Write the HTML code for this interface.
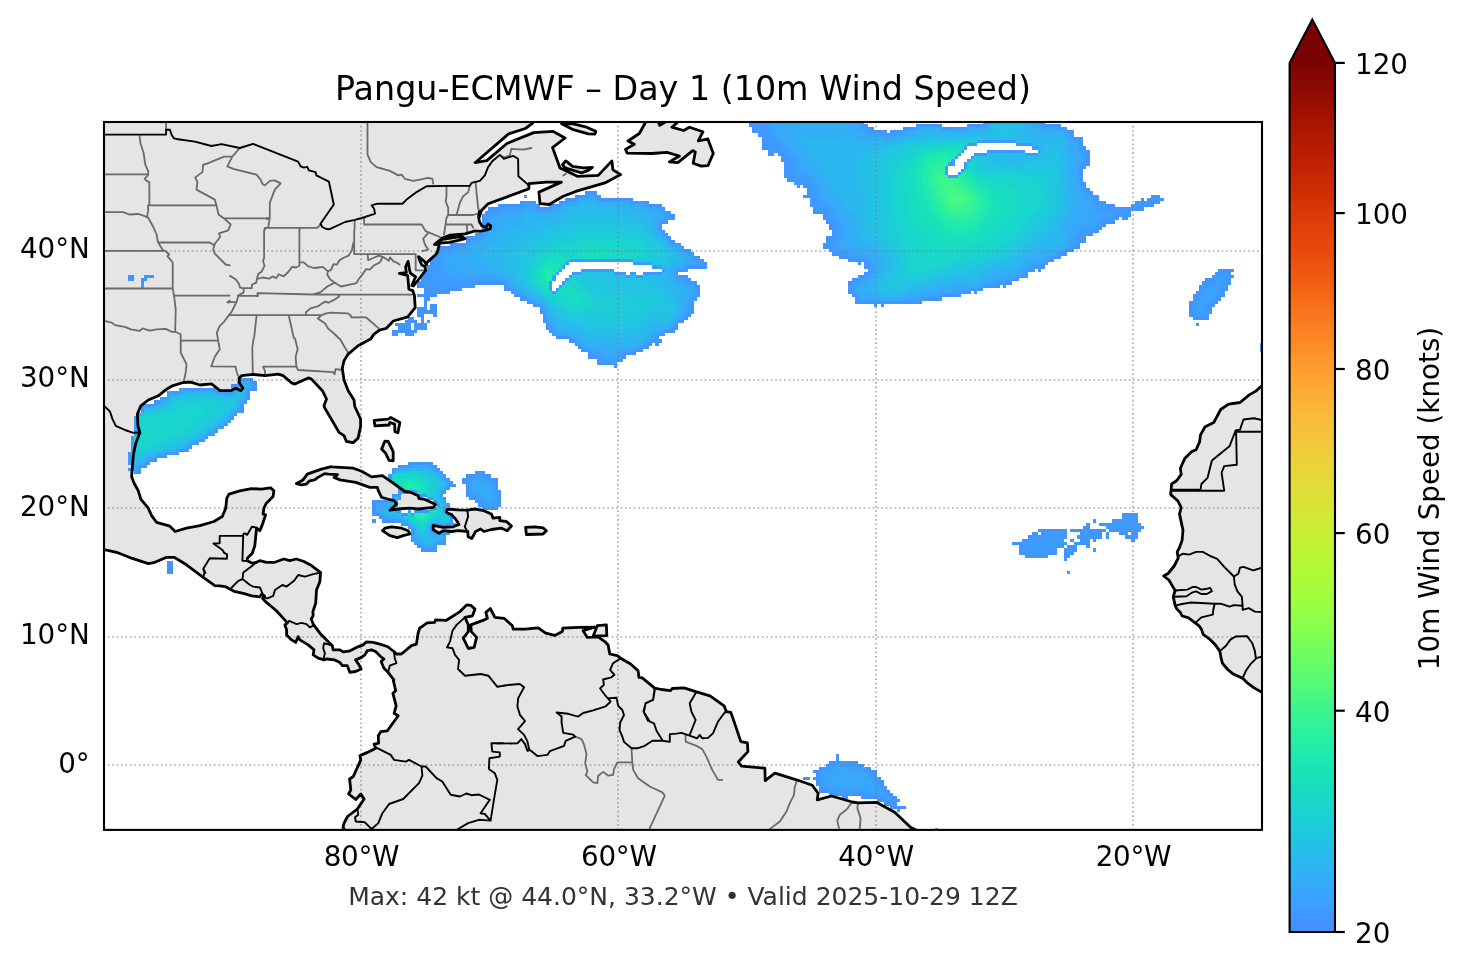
<!DOCTYPE html>
<html lang="en"><head><meta charset="utf-8"><title>Pangu-ECMWF – Day 1 (10m Wind Speed)</title>
<style>
html,body{margin:0;padding:0;background:#fff;}
body{width:1466px;height:969px;overflow:hidden;position:relative;font-family:'DejaVu Sans','Liberation Sans',sans-serif;}
svg{position:absolute;left:0;top:0;display:block;}
text{font-family:'DejaVu Sans','Liberation Sans',sans-serif;}
.t10{font-size:27.78px;fill:#000;}
.land{fill:#e5e5e5;stroke:none;}
.coast{fill:none;stroke:#000;stroke-width:2.8;stroke-linejoin:round;stroke-linecap:round;}
.border{fill:none;stroke:#000;stroke-width:1.9;stroke-linejoin:round;stroke-linecap:round;}
.state{fill:none;stroke:#6a6a6a;stroke-width:1.8;stroke-linejoin:round;stroke-linecap:round;}
.grid{fill:none;stroke:#808080;stroke-opacity:0.65;stroke-width:1.67;stroke-dasharray:1.67 2.75;}
</style></head><body>
<svg width="1466" height="969" viewBox="0 0 1466 969">
<defs>
<clipPath id="mapclip"><rect x="104.0" y="122.0" width="1158.0" height="707.9"/></clipPath>
<linearGradient id="cb" x1="0" y1="1" x2="0" y2="0">
<stop offset="0.0000" stop-color="#448ffe"/><stop offset="0.0156" stop-color="#4196ff"/><stop offset="0.0312" stop-color="#3d9efe"/><stop offset="0.0469" stop-color="#38a5fb"/><stop offset="0.0625" stop-color="#31aff5"/><stop offset="0.0781" stop-color="#2cb7f0"/><stop offset="0.0938" stop-color="#27bee9"/><stop offset="0.1094" stop-color="#20c7df"/><stop offset="0.1250" stop-color="#1ccdd8"/><stop offset="0.1406" stop-color="#1ad4d0"/><stop offset="0.1562" stop-color="#18d9c8"/><stop offset="0.1719" stop-color="#18e0bd"/><stop offset="0.1875" stop-color="#1ae4b6"/><stop offset="0.2031" stop-color="#1fe9af"/><stop offset="0.2188" stop-color="#27eea4"/><stop offset="0.2344" stop-color="#2ff19b"/><stop offset="0.2500" stop-color="#38f491"/><stop offset="0.2656" stop-color="#43f787"/><stop offset="0.2812" stop-color="#52fa7a"/><stop offset="0.2969" stop-color="#5dfc6f"/><stop offset="0.3125" stop-color="#69fd66"/><stop offset="0.3281" stop-color="#75fe5c"/><stop offset="0.3438" stop-color="#84ff51"/><stop offset="0.3594" stop-color="#8fff49"/><stop offset="0.3750" stop-color="#99fe42"/><stop offset="0.3906" stop-color="#a4fc3c"/><stop offset="0.4062" stop-color="#acfb38"/><stop offset="0.4219" stop-color="#b4f836"/><stop offset="0.4375" stop-color="#bcf534"/><stop offset="0.4531" stop-color="#c6f034"/><stop offset="0.4688" stop-color="#cdec34"/><stop offset="0.4844" stop-color="#d4e735"/><stop offset="0.5000" stop-color="#dde037"/><stop offset="0.5156" stop-color="#e3db38"/><stop offset="0.5312" stop-color="#e9d539"/><stop offset="0.5469" stop-color="#eecf3a"/><stop offset="0.5625" stop-color="#f4c73a"/><stop offset="0.5781" stop-color="#f7c13a"/><stop offset="0.5938" stop-color="#faba39"/><stop offset="0.6094" stop-color="#fcb136"/><stop offset="0.6250" stop-color="#fea933"/><stop offset="0.6406" stop-color="#fea130"/><stop offset="0.6562" stop-color="#fe992c"/><stop offset="0.6719" stop-color="#fd8d27"/><stop offset="0.6875" stop-color="#fc8423"/><stop offset="0.7031" stop-color="#fa7b1f"/><stop offset="0.7188" stop-color="#f8721c"/><stop offset="0.7344" stop-color="#f46617"/><stop offset="0.7500" stop-color="#f15d13"/><stop offset="0.7656" stop-color="#ed5510"/><stop offset="0.7812" stop-color="#e84b0c"/><stop offset="0.7969" stop-color="#e4450a"/><stop offset="0.8125" stop-color="#df3f08"/><stop offset="0.8281" stop-color="#da3907"/><stop offset="0.8438" stop-color="#d23105"/><stop offset="0.8594" stop-color="#cc2b04"/><stop offset="0.8750" stop-color="#c52603"/><stop offset="0.8906" stop-color="#bc2002"/><stop offset="0.9062" stop-color="#b41b01"/><stop offset="0.9219" stop-color="#ac1701"/><stop offset="0.9375" stop-color="#a41301"/><stop offset="0.9531" stop-color="#980e01"/><stop offset="0.9688" stop-color="#8e0a01"/><stop offset="0.9844" stop-color="#850702"/><stop offset="1.0000" stop-color="#7a0403"/></linearGradient>
</defs>
<rect width="1466" height="969" fill="#fff"/>
<g clip-path="url(#mapclip)">
<path class="land" d="M532.8 114.7L532.8 123L525.3 128.5L508.6 133.9L475.1 162.7L486.8 160.6L506.9 143.5L533.7 132.6L552.9 131.4L553.3 131.6L565 138L552.5 147.6L560 167.9L577.4 176.3L598.3 175.4L611.9 160.9L612.9 169.9L620.7 174.6L604.9 182.9L577.4 190.9L563.3 196.2L549.2 204.5L540 203.7L538.9 192.1L561.4 182.1L546.4 182.1L528.9 183.7L528.9 188.7L506.4 197.1L488.1 203.7L481.5 210.4L479 217.9L479.4 211.7L478.6 216.7L479.4 221.7L481.9 225.9L486.1 227.4L488 224L490.8 225.6L490.3 228.6L487 229.9L480.3 231.3L475.3 230.9L465.2 233.8L450.2 235.1L441.8 238.4L438.8 240.8L434.5 244.6L439.3 244.1L437.8 250.9L436.1 254.2L426.9 262.6L426.5 264.7L424.4 261.3L418.5 256.7L420.2 261.7L421.9 265.1L425.2 266.8L425.6 270.5L413.5 286L411.8 285.6L415.6 276.8L410.2 273L409.3 268.4L408.1 261.3L405.6 266.8L406.4 272.6L399.3 273.4L407.7 275.5L408.9 289.3L412.7 290.6L414.4 295.2L415.2 307.7L407.7 316.9L393.4 321L386.4 328.3L379.8 330L374 334.1L370.6 339.1L358.1 345.8L348.2 354.1L344 360.8L342.3 368.2L344 379.9L348.2 390.7L354 399.9L354.8 406.5L360.6 419L360.6 426.5L358.1 438.1L353.2 442.6L346.5 441.5L344 435.6L339 432.3L324.9 408.2L324 405.7L326.5 399L322.4 390.7L311.5 379.1L308.2 377.9L294.9 384.1L291.6 382.9L283.2 375.7L278.3 374.1L264.9 375.7L253.3 374.4L241.6 375.7L239.1 378.2L239.6 383.2L243 388.2L240.8 390.7L235.8 388.2L230.8 390.7L220 390.7L211.5 383.9L199.9 385L190.7 382.2L183.2 382.5L172.4 385.8L166.6 389.2L158.3 395.8L148.3 400L140.8 405.8L137.4 414.1L137.9 425.8L139.9 432.5L135.8 443.3L133.3 455L131.6 476.6L134.1 483.3L138.3 490.8L140.8 499.1L148.3 508.2L151.6 515.7L156.6 522.4L169.9 526.2L175.2 531.5L186.5 528.2L199.9 525.7L214 521.5L222.3 516.5L225.7 508.2L226.8 498.2L229 494.1L239.8 490.8L251.5 488.6L261.4 489.1L270.6 487.8L273.9 490.8L273.1 496.6L266.4 503.2L263.9 508.2L263.1 514.1L265.6 514.9L262.3 524.9L259.8 530.7L256.5 528.2L255.6 538.2L254.8 545.7L252.3 553.2L247.3 558.2L247.3 560.7L252.3 563.2L256.5 562.3L259.8 560.7L266.4 562.3L274.8 562.3L283.9 559L289.7 560.7L296.4 559L303.9 561.5L311.4 565.6L320.5 572.3L319.9 581.6L316.5 590L315.7 603.3L312.9 611.6L313.2 615.8L311.2 619.1L313.2 624.1L319.9 633.2L326.5 639.9L332.3 645.7L333.2 649.9L339.8 649.9L343.2 651.9L349 651.2L356.5 647.4L363.1 644.9L366.5 641.9L373.1 642.4L379.8 644.1L387.3 646.5L393.9 651.5L396.4 654L401.4 654L411.4 645.7L416.4 644.1L418.1 633.2L419.7 628.2L427.2 622.9L434.7 622.4L435.5 619.9L446.4 620.3L460 611.6L466.6 604.9L470.8 605.3L475 609.1L472.5 615.8L465 617.4L468.3 624.9L468.3 631.6L463.3 638.2L468.3 648.5L474.1 647.4L476.6 637.4L471.3 631.6L470.8 624.9L484.9 619.6L487.4 618.3L485.8 612.4L490.4 608.6L494.9 617.4L504.1 618.3L512.4 625.7L513.2 629.1L524.9 629.1L538.2 627.9L545.7 633.2L554.8 635.4L562.3 631.6L562.8 628.2L578.1 627.4L594.8 627.1L583.1 630.7L587.3 637.4L598.1 636.9L604.8 641.6L608.1 644.9L609.8 654L617.3 655.7L620.6 658.2L630.6 664L638.1 670.7L638.9 677.3L642.2 677.8L654.7 688.2L661.4 689.5L670.5 690.7L672.2 688.5L684 687.8L695.8 691.6L710 695.8L724.1 705.8L726.3 711.6L730.8 712.4L734.1 721.6L740.8 741.6L747.4 742.9L747.9 751.6L738.3 762L741.6 766.2L764.9 768.2L765.2 780.7L774.9 773.2L796.5 779.8L812.3 785.2L818.1 793.2L817.3 799.8L831.5 796L852.3 802L858.1 802.8L876.4 802.3L894.7 812.3L910.5 827.3L918 830.9L929.7 836.4L345 846.4L345 830.6L343 827.3L344.1 823.1L347.5 816.5L357.4 809L364.1 799L360.8 794L355.8 799.5L348.6 794L350.8 789.8L349.6 779L353.3 776.5L360.8 759.9L359.9 755.7L367.4 752.4L375.8 748.2L374.1 744.1L378.6 743.2L378.3 735.8L380.8 731.6L387.4 730.8L398.2 715.8L394.1 713.3L396.2 705.8L392.9 693.3L395.7 690.8L393.2 680L393.9 679.8L388.1 672.3L383.9 668.2L381.1 661.5L383.9 659L380.6 656.5L375.6 651.5L371.5 649.9L367.3 650.7L364.8 654.9L361.5 657.4L355.6 659.9L359 664.9L361.1 669L355.6 671.5L349.8 672.3L347.3 665.7L342.3 665.7L339.8 662.4L334.8 659.9L326.5 659L324 659.9L318.2 658.2L313.2 654.9L314 649.9L308.2 644.9L299.9 639.9L298.2 636.6L295.7 642.4L291.6 639.9L286.6 634.9L286.6 629.9L284.9 624.9L287.4 622.9L284.7 619.9L276.4 610.8L266.4 602.4L262.6 598.6L264.6 596L261.6 594.3L259.9 596.8L251.6 595.8L243.3 593.3L234.1 591.3L225 586.6L220 585.8L214.8 585.6L203.2 577.3L186.5 564.8L174.1 557.3L166.6 557.3L154.9 562.3L148.3 563.7L131.6 558.2L116.6 552.3L104.2 549.5L90 546.5L60 60ZM1273.3 377L1261.9 385.8L1255.8 391.1L1249.6 394.6L1240 402.5L1228.6 404.2L1220.7 409.5L1213.7 422.6L1204.9 427L1200.5 434.9L1199.6 441.9L1196.1 449.8L1191.8 451.6L1184.7 458.6L1180.4 468.2L1181.2 474.4L1176.8 480.5L1171.6 484L1170.7 494.6L1177.7 500.7L1181.2 507.7L1179.5 513.9L1182.1 526.1L1183 530L1182.1 540.5L1179.5 547.5L1177.2 551.9L1178.2 558.1L1174.2 566L1168.1 573.5L1163.7 576L1168.9 580L1172.5 586.1L1175.1 590.5L1173.3 596.7L1175.1 605.4L1176.8 608.9L1180.4 612.5L1182.1 616L1188.2 617.7L1198.8 625.6L1201.4 629.1L1203.2 634.4L1210.2 639.6L1215.4 644.9L1219.8 651.1L1221.1 658.1L1222.5 663.3L1227.7 669.5L1233 673.9L1242.6 678.2L1247 682.6L1254 687.9L1261.9 692.3L1273.3 698.4L1300 900L1300 300ZM645.2 114.7L645.2 123L639.3 133.5L628 141L634.3 144.3L625.5 149.4L627.2 153.1L651.8 153.5L666.9 152.3L679.4 156L669.4 161.9L677.8 162.7L692.8 150.6L695.3 151.9L693.2 163.2L701.2 166.1L707.9 165.7L713.3 153.5L707.9 138.9L698.3 141L702.9 131.8L689.5 127.2L683.6 130.5L671.9 127.2L676.9 123L676.9 119.7L664.4 119.7L664.4 122.6L659.8 125.4L658.5 122.6L658.5 114.7ZM561.6 123.8L573.3 123.8L586.6 127.2L595.8 131.3L594.9 134.1L588.3 133.8L573.3 129.7ZM565.8 160.9L562.5 164.6L565 167.9L581.6 172.9L588.3 170.4L592.4 167.4L583.3 167.9L572.5 166.3ZM441.2 239.6L453.6 237.5L461.8 236.5L465.1 238.6L458.4 240.4L449.4 242.3L439.8 243.1ZM374.1 420.3L388.2 419.1L390.7 417.5L399.9 422.5L397.9 432.8L394.9 431.6L394.6 424.1L389.9 422.5L389.1 425L374.9 425.8ZM384.9 441.1L388.2 441.3L393.2 451.6L393.2 460.8L389.1 460.3L385.7 453.3L381.6 449.1ZM331.7 466.9L353.3 468.2L361.6 471.2L371.6 476.9L382.4 475.7L393.2 483.2L404.9 491.5L409.9 492L418.2 495.7L419 498.5L424.9 499.4L435.7 504.5L433.2 507.4L418.2 509L409.9 508.2L398.2 509L389.9 510.2L396.6 504L394.1 500.7L387.4 499L381.6 497.4L378.3 490.7L377.4 487.4L369.9 487.4L355.8 482.4L340 479.9L334.1 477.4L337.5 474.6L328.3 474.1L324.7 473.6L318 477.4L314.7 479.9L309.7 480.8L306.4 484.1L301.4 484.9L296.4 483.6L303.1 479.9L307.2 474.1L321.4 469.1L331.4 466.6ZM382.4 530.7L384.9 528.2L391.6 526.8L401.6 528.2L408.2 530.7L409.9 534L403.2 535.6L397.4 537.6L389.9 535.6ZM447.3 509L458.1 509.8L467.3 510.2L474.8 509L483.9 510.7L491.4 514L493.1 518.2L499.8 517.3L499.8 520.7L506.4 521.5L511.4 526L507.2 530.7L501.4 528.2L491.4 529.5L483.9 531.5L480.6 529L475.6 531.5L471.8 538.5L468.1 536.8L467.8 531.5L458.1 530.7L451.5 531.5L443.2 530.7L439 533.2L433.2 529.8L433.2 525.3L443.2 527.3L453.2 526.8L459 524.5L455.6 519L451.5 514.8L446.5 512.3ZM525.6 527.3L534.7 526.8L543 527.8L546.4 530.7L543 534L526.4 534.5ZM597.3 625.7L606.4 624.9L606.8 635.7L593.1 636.2Z"/>
<g shape-rendering="crispEdges" stroke="none">
<path fill="#4294ff" d="M748.66 120.59H755.09V123.81H748.66ZM861.23 120.59H864.44V123.81H861.23ZM983.44 120.59H986.66V123.81H983.44ZM1041.34 120.59H1044.55V123.81H1041.34ZM748.66 123.81H758.31V127.02H748.66ZM864.44 123.81H867.66V127.02H864.44ZM915.9 123.81H922.34V127.02H915.9ZM970.58 123.81H983.44V127.02H970.58ZM1044.55 123.81H1060.63V127.02H1044.55ZM751.87 127.02H758.31V130.24H751.87ZM867.66 127.02H874.09V130.24H867.66ZM903.04 127.02H915.9V130.24H903.04ZM964.15 127.02H967.36V130.24H964.15ZM1060.63 127.02H1067.07V130.24H1060.63ZM751.87 130.24H761.52V133.46H751.87ZM874.09 130.24H886.96V133.46H874.09ZM890.17 130.24H903.04V133.46H890.17ZM1067.07 130.24H1073.5V133.46H1067.07ZM758.31 133.46H764.74V136.67H758.31ZM886.96 133.46H890.17V136.67H886.96ZM1070.28 133.46H1073.5V136.67H1070.28ZM761.52 136.67H764.74V139.89H761.52ZM1073.5 136.67H1083.15V139.89H1073.5ZM761.52 139.89H764.74V143.11H761.52ZM1079.93 139.89H1083.15V143.11H1079.93ZM761.52 143.11H764.74V146.32H761.52ZM1079.93 143.11H1083.15V146.32H1079.93ZM761.52 146.32H771.17V149.54H761.52ZM1083.15 146.32H1086.36V149.54H1083.15ZM767.96 149.54H771.17V152.75H767.96ZM774.39 149.54H780.82V152.75H774.39ZM1086.36 149.54H1089.58V152.75H1086.36ZM767.96 152.75H774.39V155.97H767.96ZM777.6 152.75H784.04V155.97H777.6ZM1086.36 152.75H1089.58V155.97H1086.36ZM780.82 155.97H784.04V159.19H780.82ZM1086.36 155.97H1089.58V159.19H1086.36ZM780.82 159.19H787.25V162.4H780.82ZM1086.36 159.19H1089.58V162.4H1086.36ZM784.04 162.4H787.25V165.62H784.04ZM1086.36 162.4H1089.58V165.62H1086.36ZM784.04 165.62H787.25V168.84H784.04ZM1083.15 165.62H1086.36V168.84H1083.15ZM784.04 168.84H787.25V172.05H784.04ZM1079.93 168.84H1083.15V172.05H1079.93ZM784.04 172.05H787.25V175.27H784.04ZM1079.93 172.05H1083.15V175.27H1079.93ZM784.04 175.27H787.25V178.48H784.04ZM1079.93 175.27H1083.15V178.48H1079.93ZM787.25 178.48H793.69V181.7H787.25ZM1079.93 178.48H1083.15V181.7H1079.93ZM793.69 181.7H796.9V184.92H793.69ZM800.12 181.7H803.33V184.92H800.12ZM1083.15 181.7H1086.36V184.92H1083.15ZM796.9 184.92H800.12V188.13H796.9ZM803.33 184.92H806.55V188.13H803.33ZM1083.15 184.92H1086.36V188.13H1083.15ZM806.55 188.13H809.77V191.35H806.55ZM1086.36 188.13H1089.58V191.35H1086.36ZM584.63 191.35H597.49V194.57H584.63ZM806.55 191.35H809.77V194.57H806.55ZM1089.58 191.35H1092.8V194.57H1089.58ZM523.52 194.57H526.74V197.78H523.52ZM574.98 194.57H584.63V197.78H574.98ZM597.49 194.57H600.71V197.78H597.49ZM803.33 194.57H809.77V197.78H803.33ZM1092.8 194.57H1099.23V197.78H1092.8ZM1150.69 194.57H1160.34V197.78H1150.69ZM565.33 197.78H574.98V201H565.33ZM600.71 197.78H632.87V201H600.71ZM809.77 197.78H812.98V201H809.77ZM1096.01 197.78H1099.23V201H1096.01ZM1141.04 197.78H1144.26V201H1141.04ZM1147.47 197.78H1150.69V201H1147.47ZM1160.34 197.78H1163.55V201H1160.34ZM520.3 201H536.39V204.21H520.3ZM558.9 201H565.33V204.21H558.9ZM632.87 201H648.95V204.21H632.87ZM809.77 201H812.98V204.21H809.77ZM1099.23 201H1105.66V204.21H1099.23ZM1134.61 201H1141.04V204.21H1134.61ZM1144.26 201H1147.47V204.21H1144.26ZM1153.91 201H1160.34V204.21H1153.91ZM497.79 204.21H520.3V207.43H497.79ZM536.39 204.21H539.6V207.43H536.39ZM549.25 204.21H558.9V207.43H549.25ZM648.95 204.21H661.82V207.43H648.95ZM809.77 204.21H812.98V207.43H809.77ZM1105.66 204.21H1115.31V207.43H1105.66ZM1131.39 204.21H1134.61V207.43H1131.39ZM1144.26 204.21H1153.91V207.43H1144.26ZM488.14 207.43H497.79V210.65H488.14ZM539.6 207.43H549.25V210.65H539.6ZM661.82 207.43H665.04V210.65H661.82ZM812.98 207.43H816.2V210.65H812.98ZM1115.31 207.43H1144.26V210.65H1115.31ZM484.93 210.65H488.14V213.86H484.93ZM665.04 210.65H671.47V213.86H665.04ZM812.98 210.65H822.63V213.86H812.98ZM1128.18 210.65H1131.39V213.86H1128.18ZM481.71 213.86H484.93V217.08H481.71ZM671.47 213.86H674.68V217.08H671.47ZM822.63 213.86H825.85V217.08H822.63ZM1118.53 213.86H1121.74V217.08H1118.53ZM1128.18 213.86H1131.39V217.08H1128.18ZM266.22 217.08H269.44V220.3H266.22ZM481.71 217.08H484.93V220.3H481.71ZM668.25 217.08H674.68V220.3H668.25ZM822.63 217.08H825.85V220.3H822.63ZM1115.31 217.08H1118.53V220.3H1115.31ZM1121.74 217.08H1128.18V220.3H1121.74ZM481.71 220.3H484.93V223.51H481.71ZM661.82 220.3H668.25V223.51H661.82ZM825.85 220.3H829.06V223.51H825.85ZM1105.66 220.3H1115.31V223.51H1105.66ZM481.71 223.51H484.93V226.73H481.71ZM658.6 223.51H661.82V226.73H658.6ZM829.06 223.51H832.28V226.73H829.06ZM1102.45 223.51H1105.66V226.73H1102.45ZM481.71 226.73H484.93V229.94H481.71ZM658.6 226.73H661.82V229.94H658.6ZM829.06 226.73H832.28V229.94H829.06ZM1099.23 226.73H1102.45V229.94H1099.23ZM481.71 229.94H484.93V233.16H481.71ZM661.82 229.94H665.04V233.16H661.82ZM832.28 229.94H835.5V233.16H832.28ZM1092.8 229.94H1099.23V233.16H1092.8ZM475.28 233.16H481.71V236.38H475.28ZM665.04 233.16H668.25V236.38H665.04ZM832.28 233.16H835.5V236.38H832.28ZM1086.36 233.16H1092.8V236.38H1086.36ZM465.63 236.38H475.28V239.59H465.63ZM668.25 236.38H671.47V239.59H668.25ZM825.85 236.38H832.28V239.59H825.85ZM1083.15 236.38H1086.36V239.59H1083.15ZM465.63 239.59H468.84V242.81H465.63ZM671.47 239.59H674.68V242.81H671.47ZM825.85 239.59H829.06V242.81H825.85ZM1079.93 239.59H1086.36V242.81H1079.93ZM449.55 242.81H465.63V246.03H449.55ZM674.68 242.81H681.12V246.03H674.68ZM822.63 242.81H825.85V246.03H822.63ZM1076.72 242.81H1079.93V246.03H1076.72ZM439.9 246.03H449.55V249.24H439.9ZM681.12 246.03H684.33V249.24H681.12ZM822.63 246.03H829.06V249.24H822.63ZM1073.5 246.03H1079.93V249.24H1073.5ZM436.68 249.24H439.9V252.46H436.68ZM684.33 249.24H690.77V252.46H684.33ZM829.06 249.24H832.28V252.46H829.06ZM1067.07 249.24H1073.5V252.46H1067.07ZM436.68 252.46H439.9V255.67H436.68ZM690.77 252.46H693.98V255.67H690.77ZM832.28 252.46H838.71V255.67H832.28ZM1060.63 252.46H1067.07V255.67H1060.63ZM433.47 255.67H436.68V258.89H433.47ZM693.98 255.67H700.41V258.89H693.98ZM838.71 255.67H848.36V258.89H838.71ZM1054.2 255.67H1060.63V258.89H1054.2ZM430.25 258.89H433.47V262.11H430.25ZM700.41 258.89H703.63V262.11H700.41ZM848.36 258.89H858.01V262.11H848.36ZM861.23 258.89H864.44V262.11H861.23ZM1047.77 258.89H1054.2V262.11H1047.77ZM430.25 262.11H433.47V265.32H430.25ZM703.63 262.11H706.85V265.32H703.63ZM858.01 262.11H861.23V265.32H858.01ZM864.44 262.11H867.66V265.32H864.44ZM1044.55 262.11H1047.77V265.32H1044.55ZM427.03 265.32H433.47V268.54H427.03ZM687.55 265.32H706.85V268.54H687.55ZM864.44 265.32H867.66V268.54H864.44ZM1034.9 265.32H1038.12V268.54H1034.9ZM1041.34 265.32H1044.55V268.54H1041.34ZM423.82 268.54H430.25V271.76H423.82ZM677.9 268.54H687.55V271.76H677.9ZM867.66 268.54H870.88V271.76H867.66ZM1028.47 268.54H1034.9V271.76H1028.47ZM1038.12 268.54H1041.34V271.76H1038.12ZM1218.23 268.54H1234.31V271.76H1218.23ZM423.82 271.76H427.03V274.97H423.82ZM674.68 271.76H677.9V274.97H674.68ZM864.44 271.76H867.66V274.97H864.44ZM1025.26 271.76H1028.47V274.97H1025.26ZM1215.01 271.76H1218.23V274.97H1215.01ZM1227.88 271.76H1231.1V274.97H1227.88ZM127.92 274.97H134.35V278.19H127.92ZM144 274.97H153.65V278.19H144ZM420.6 274.97H427.03V278.19H420.6ZM677.9 274.97H687.55V278.19H677.9ZM858.01 274.97H864.44V278.19H858.01ZM1018.82 274.97H1028.47V278.19H1018.82ZM1211.8 274.97H1215.01V278.19H1211.8ZM1231.1 274.97H1234.31V278.19H1231.1ZM127.92 278.19H134.35V281.4H127.92ZM140.79 278.19H147.22V281.4H140.79ZM420.6 278.19H423.82V281.4H420.6ZM687.55 278.19H690.77V281.4H687.55ZM851.58 278.19H858.01V281.4H851.58ZM1012.39 278.19H1018.82V281.4H1012.39ZM1205.37 278.19H1211.8V281.4H1205.37ZM1227.88 278.19H1231.1V281.4H1227.88ZM140.79 281.4H144V284.62H140.79ZM417.38 281.4H423.82V284.62H417.38ZM475.28 281.4H504.22V284.62H475.28ZM690.77 281.4H697.2V284.62H690.77ZM848.36 281.4H851.58V284.62H848.36ZM999.53 281.4H1002.74V284.62H999.53ZM1005.96 281.4H1012.39V284.62H1005.96ZM1202.15 281.4H1205.37V284.62H1202.15ZM1227.88 281.4H1231.1V284.62H1227.88ZM140.79 284.62H144V287.84H140.79ZM417.38 284.62H427.03V287.84H417.38ZM462.41 284.62H475.28V287.84H462.41ZM504.22 284.62H507.44V287.84H504.22ZM697.2 284.62H700.41V287.84H697.2ZM848.36 284.62H851.58V287.84H848.36ZM983.44 284.62H999.53V287.84H983.44ZM1002.74 284.62H1005.96V287.84H1002.74ZM1198.93 284.62H1202.15V287.84H1198.93ZM1224.66 284.62H1227.88V287.84H1224.66ZM423.82 287.84H427.03V291.05H423.82ZM446.33 287.84H462.41V291.05H446.33ZM504.22 287.84H510.66V291.05H504.22ZM697.2 287.84H700.41V291.05H697.2ZM848.36 287.84H851.58V291.05H848.36ZM970.58 287.84H973.8V291.05H970.58ZM977.01 287.84H983.44V291.05H977.01ZM1198.93 287.84H1202.15V291.05H1198.93ZM1224.66 287.84H1227.88V291.05H1224.66ZM423.82 291.05H427.03V294.27H423.82ZM433.47 291.05H449.55V294.27H433.47ZM510.66 291.05H513.87V294.27H510.66ZM697.2 291.05H700.41V294.27H697.2ZM848.36 291.05H851.58V294.27H848.36ZM960.93 291.05H970.58V294.27H960.93ZM973.8 291.05H977.01V294.27H973.8ZM1195.72 291.05H1198.93V294.27H1195.72ZM1221.45 291.05H1224.66V294.27H1221.45ZM417.38 294.27H436.68V297.49H417.38ZM513.87 294.27H520.3V297.49H513.87ZM697.2 294.27H700.41V297.49H697.2ZM851.58 294.27H854.79V297.49H851.58ZM941.63 294.27H960.93V297.49H941.63ZM1192.5 294.27H1195.72V297.49H1192.5ZM1221.45 294.27H1224.66V297.49H1221.45ZM423.82 297.49H430.25V300.7H423.82ZM520.3 297.49H526.74V300.7H520.3ZM693.98 297.49H697.2V300.7H693.98ZM854.79 297.49H858.01V300.7H854.79ZM922.34 297.49H941.63V300.7H922.34ZM1192.5 297.49H1195.72V300.7H1192.5ZM1218.23 297.49H1221.45V300.7H1218.23ZM423.82 300.7H427.03V303.92H423.82ZM526.74 300.7H533.17V303.92H526.74ZM690.77 300.7H693.98V303.92H690.77ZM854.79 300.7H874.09V303.92H854.79ZM877.31 300.7H880.52V303.92H877.31ZM883.74 300.7H922.34V303.92H883.74ZM1189.28 300.7H1192.5V303.92H1189.28ZM1215.01 300.7H1218.23V303.92H1215.01ZM423.82 303.92H427.03V307.13H423.82ZM430.25 303.92H436.68V307.13H430.25ZM533.17 303.92H539.6V307.13H533.17ZM690.77 303.92H693.98V307.13H690.77ZM874.09 303.92H877.31V307.13H874.09ZM880.52 303.92H883.74V307.13H880.52ZM1189.28 303.92H1192.5V307.13H1189.28ZM1211.8 303.92H1215.01V307.13H1211.8ZM417.38 307.13H427.03V310.35H417.38ZM430.25 307.13H436.68V310.35H430.25ZM539.6 307.13H542.82V310.35H539.6ZM690.77 307.13H693.98V310.35H690.77ZM1189.28 307.13H1192.5V310.35H1189.28ZM1208.58 307.13H1211.8V310.35H1208.58ZM417.38 310.35H436.68V313.57H417.38ZM539.6 310.35H542.82V313.57H539.6ZM690.77 310.35H693.98V313.57H690.77ZM1189.28 310.35H1192.5V313.57H1189.28ZM1208.58 310.35H1211.8V313.57H1208.58ZM417.38 313.57H423.82V316.78H417.38ZM433.47 313.57H436.68V316.78H433.47ZM542.82 313.57H546.03V316.78H542.82ZM687.55 313.57H690.77V316.78H687.55ZM1189.28 313.57H1192.5V316.78H1189.28ZM1205.37 313.57H1208.58V316.78H1205.37ZM407.74 316.78H414.17V320H407.74ZM420.6 316.78H423.82V320H420.6ZM542.82 316.78H546.03V320H542.82ZM684.33 316.78H687.55V320H684.33ZM1192.5 316.78H1208.58V320H1192.5ZM404.52 320H417.38V323.22H404.52ZM420.6 320H423.82V323.22H420.6ZM427.03 320H430.25V323.22H427.03ZM542.82 320H546.03V323.22H542.82ZM677.9 320H684.33V323.22H677.9ZM394.87 323.22H410.95V326.43H394.87ZM414.17 323.22H427.03V326.43H414.17ZM546.03 323.22H549.25V326.43H546.03ZM674.68 323.22H677.9V326.43H674.68ZM1195.72 323.22H1198.93V326.43H1195.72ZM398.09 326.43H401.3V329.65H398.09ZM407.74 326.43H410.95V329.65H407.74ZM414.17 326.43H427.03V329.65H414.17ZM546.03 326.43H549.25V329.65H546.03ZM674.68 326.43H677.9V329.65H674.68ZM391.65 329.65H417.38V332.86H391.65ZM549.25 329.65H552.47V332.86H549.25ZM665.04 329.65H674.68V332.86H665.04ZM391.65 332.86H398.09V336.08H391.65ZM404.52 332.86H414.17V336.08H404.52ZM552.47 332.86H555.68V336.08H552.47ZM658.6 332.86H665.04V336.08H658.6ZM555.68 336.08H568.55V339.3H555.68ZM655.39 336.08H658.6V339.3H655.39ZM568.55 339.3H574.98V342.51H568.55ZM652.17 339.3H655.39V342.51H652.17ZM658.6 339.3H661.82V342.51H658.6ZM574.98 342.51H578.2V345.73H574.98ZM648.95 342.51H652.17V345.73H648.95ZM655.39 342.51H658.6V345.73H655.39ZM1260.04 342.51H1263.26V345.73H1260.04ZM578.2 345.73H581.41V348.95H578.2ZM642.52 345.73H648.95V348.95H642.52ZM1260.04 345.73H1263.26V348.95H1260.04ZM581.41 348.95H587.85V352.16H581.41ZM636.09 348.95H642.52V352.16H636.09ZM1260.04 348.95H1263.26V352.16H1260.04ZM587.85 352.16H591.06V355.38H587.85ZM626.44 352.16H636.09V355.38H626.44ZM587.85 355.38H597.49V358.59H587.85ZM623.22 355.38H626.44V358.59H623.22ZM597.49 358.59H600.71V361.81H597.49ZM616.79 358.59H623.22V361.81H616.79ZM597.49 361.81H616.79V365.03H597.49ZM613.58 365.03H616.79V368.24H613.58ZM240.49 377.89H253.36V381.11H240.49ZM237.27 381.11H240.49V384.32H237.27ZM253.36 381.11H256.57V384.32H253.36ZM230.84 384.32H237.27V387.54H230.84ZM253.36 384.32H256.57V387.54H253.36ZM230.84 387.54H234.06V390.76H230.84ZM250.14 387.54H256.57V390.76H250.14ZM227.63 390.76H230.84V393.97H227.63ZM246.92 390.76H250.14V393.97H246.92ZM246.92 393.97H250.14V397.19H246.92ZM246.92 397.19H250.14V400.41H246.92ZM243.71 400.41H246.92V403.62H243.71ZM240.49 403.62H243.71V406.84H240.49ZM240.49 406.84H243.71V410.05H240.49ZM150.44 458.3H153.65V461.51H150.44ZM147.22 461.51H150.44V464.73H147.22ZM407.74 461.51H433.47V464.73H407.74ZM140.79 464.73H147.22V467.95H140.79ZM398.09 464.73H407.74V467.95H398.09ZM433.47 464.73H436.68V467.95H433.47ZM137.57 467.95H140.79V471.16H137.57ZM436.68 467.95H439.9V471.16H436.68ZM137.57 471.16H140.79V474.38H137.57ZM475.28 471.16H484.93V474.38H475.28ZM465.63 474.38H475.28V477.6H465.63ZM484.93 474.38H491.36V477.6H484.93ZM462.41 477.6H465.63V480.81H462.41ZM491.36 477.6H497.79V480.81H491.36ZM462.41 480.81H465.63V484.03H462.41ZM494.57 480.81H497.79V484.03H494.57ZM465.63 484.03H468.84V487.24H465.63ZM494.57 484.03H497.79V487.24H494.57ZM465.63 487.24H468.84V490.46H465.63ZM494.57 487.24H497.79V490.46H494.57ZM465.63 490.46H468.84V493.68H465.63ZM497.79 490.46H501.01V493.68H497.79ZM465.63 493.68H468.84V496.89H465.63ZM497.79 493.68H501.01V496.89H497.79ZM468.84 496.89H475.28V500.11H468.84ZM497.79 496.89H501.01V500.11H497.79ZM372.36 500.11H385.22V503.33H372.36ZM475.28 500.11H478.49V503.33H475.28ZM497.79 500.11H501.01V503.33H497.79ZM372.36 503.33H375.57V506.54H372.36ZM478.49 503.33H481.71V506.54H478.49ZM497.79 503.33H501.01V506.54H497.79ZM372.36 506.54H375.57V509.76H372.36ZM481.71 506.54H497.79V509.76H481.71ZM372.36 509.76H375.57V512.97H372.36ZM372.36 512.97H378.79V516.19H372.36ZM1121.74 512.97H1137.82V516.19H1121.74ZM378.79 516.19H382.01V519.41H378.79ZM1121.74 516.19H1124.96V519.41H1121.74ZM1134.61 516.19H1137.82V519.41H1134.61ZM372.36 519.41H375.57V522.62H372.36ZM382.01 519.41H394.87V522.62H382.01ZM1092.8 519.41H1096.01V522.62H1092.8ZM1112.09 519.41H1121.74V522.62H1112.09ZM1134.61 519.41H1137.82V522.62H1134.61ZM1086.36 522.62H1089.58V525.84H1086.36ZM1099.23 522.62H1112.09V525.84H1099.23ZM1137.82 522.62H1141.04V525.84H1137.82ZM1083.15 525.84H1089.58V529.06H1083.15ZM1105.66 525.84H1108.88V529.06H1105.66ZM1141.04 525.84H1144.26V529.06H1141.04ZM1038.12 529.06H1067.07V532.27H1038.12ZM1070.28 529.06H1083.15V532.27H1070.28ZM1089.58 529.06H1105.66V532.27H1089.58ZM1108.88 529.06H1118.53V532.27H1108.88ZM1128.18 529.06H1131.39V532.27H1128.18ZM1137.82 529.06H1141.04V532.27H1137.82ZM410.95 532.27H414.17V535.49H410.95ZM1031.69 532.27H1038.12V535.49H1031.69ZM1041.34 532.27H1044.55V535.49H1041.34ZM1063.85 532.27H1067.07V535.49H1063.85ZM1079.93 532.27H1083.15V535.49H1079.93ZM1099.23 532.27H1102.45V535.49H1099.23ZM1105.66 532.27H1108.88V535.49H1105.66ZM1118.53 532.27H1128.18V535.49H1118.53ZM1131.39 532.27H1137.82V535.49H1131.39ZM410.95 535.49H414.17V538.7H410.95ZM1028.47 535.49H1031.69V538.7H1028.47ZM1038.12 535.49H1041.34V538.7H1038.12ZM1063.85 535.49H1067.07V538.7H1063.85ZM1076.72 535.49H1079.93V538.7H1076.72ZM1089.58 535.49H1092.8V538.7H1089.58ZM1096.01 535.49H1102.45V538.7H1096.01ZM1105.66 535.49H1108.88V538.7H1105.66ZM1124.96 535.49H1131.39V538.7H1124.96ZM1134.61 535.49H1137.82V538.7H1134.61ZM410.95 538.7H414.17V541.92H410.95ZM1022.04 538.7H1028.47V541.92H1022.04ZM1060.63 538.7H1063.85V541.92H1060.63ZM1070.28 538.7H1073.5V541.92H1070.28ZM1079.93 538.7H1083.15V541.92H1079.93ZM1086.36 538.7H1089.58V541.92H1086.36ZM1092.8 538.7H1096.01V541.92H1092.8ZM1131.39 538.7H1134.61V541.92H1131.39ZM414.17 541.92H417.38V545.14H414.17ZM1012.39 541.92H1022.04V545.14H1012.39ZM1063.85 541.92H1067.07V545.14H1063.85ZM1073.5 541.92H1089.58V545.14H1073.5ZM417.38 545.14H420.6V548.35H417.38ZM433.47 545.14H436.68V548.35H433.47ZM1018.82 545.14H1022.04V548.35H1018.82ZM1057.42 545.14H1063.85V548.35H1057.42ZM1067.07 545.14H1076.72V548.35H1067.07ZM1086.36 545.14H1089.58V548.35H1086.36ZM420.6 548.35H436.68V551.57H420.6ZM1018.82 548.35H1022.04V551.57H1018.82ZM1054.2 548.35H1057.42V551.57H1054.2ZM1063.85 548.35H1067.07V551.57H1063.85ZM1073.5 548.35H1076.72V551.57H1073.5ZM1092.8 548.35H1096.01V551.57H1092.8ZM1018.82 551.57H1025.26V554.79H1018.82ZM1047.77 551.57H1057.42V554.79H1047.77ZM1063.85 551.57H1067.07V554.79H1063.85ZM1070.28 551.57H1073.5V554.79H1070.28ZM1025.26 554.79H1047.77V558H1025.26ZM1063.85 554.79H1070.28V558H1063.85ZM1063.85 558H1067.07V561.22H1063.85ZM166.52 561.22H172.95V564.43H166.52ZM166.52 564.43H172.95V567.65H166.52ZM166.52 567.65H172.95V570.87H166.52ZM166.52 570.87H172.95V574.08H166.52ZM1067.07 570.87H1070.28V574.08H1067.07ZM835.5 754.19H838.71V757.41H835.5ZM835.5 757.41H838.71V760.63H835.5ZM829.06 760.63H835.5V763.84H829.06ZM838.71 760.63H858.01V763.84H838.71ZM825.85 763.84H829.06V767.06H825.85ZM858.01 763.84H864.44V767.06H858.01ZM819.42 767.06H825.85V770.27H819.42ZM864.44 767.06H870.88V770.27H864.44ZM812.98 770.27H819.42V773.49H812.98ZM870.88 770.27H877.31V773.49H870.88ZM816.2 773.49H819.42V776.71H816.2ZM874.09 773.49H877.31V776.71H874.09ZM803.33 776.71H809.77V779.92H803.33ZM812.98 776.71H816.2V779.92H812.98ZM877.31 776.71H880.52V779.92H877.31ZM816.2 779.92H819.42V783.14H816.2ZM880.52 779.92H883.74V783.14H880.52ZM816.2 783.14H819.42V786.36H816.2ZM880.52 783.14H883.74V786.36H880.52ZM819.42 786.36H822.63V789.57H819.42ZM883.74 786.36H886.96V789.57H883.74ZM819.42 789.57H829.06V792.79H819.42ZM886.96 789.57H890.17V792.79H886.96ZM829.06 792.79H841.93V796H829.06ZM848.36 792.79H861.23V796H848.36ZM890.17 792.79H893.39V796H890.17ZM841.93 796H848.36V799.22H841.93ZM861.23 796H877.31V799.22H861.23ZM893.39 796H896.61V799.22H893.39ZM877.31 799.22H883.74V802.44H877.31ZM896.61 799.22H899.82V802.44H896.61ZM883.74 802.44H890.17V805.65H883.74ZM893.39 802.44H896.61V805.65H893.39ZM890.17 805.65H906.25V808.87H890.17ZM896.61 808.87H899.82V812.09H896.61ZM935.2 828.17H938.42V831.38H935.2Z"/>
<path fill="#4099ff" d="M755.09 120.59H764.74V123.81H755.09ZM758.31 123.81H764.74V127.02H758.31ZM861.23 123.81H864.44V127.02H861.23ZM922.34 123.81H941.63V127.02H922.34ZM967.36 123.81H970.58V127.02H967.36ZM758.31 127.02H764.74V130.24H758.31ZM864.44 127.02H867.66V130.24H864.44ZM941.63 127.02H964.15V130.24H941.63ZM761.52 130.24H767.96V133.46H761.52ZM764.74 133.46H767.96V136.67H764.74ZM764.74 136.67H767.96V139.89H764.74ZM764.74 139.89H771.17V143.11H764.74ZM764.74 143.11H771.17V146.32H764.74ZM771.17 146.32H780.82V149.54H771.17ZM1079.93 146.32H1083.15V149.54H1079.93ZM771.17 149.54H774.39V152.75H771.17ZM780.82 149.54H784.04V152.75H780.82ZM1083.15 149.54H1086.36V152.75H1083.15ZM784.04 155.97H787.25V159.19H784.04ZM787.25 159.19H790.47V162.4H787.25ZM787.25 162.4H790.47V165.62H787.25ZM1083.15 162.4H1086.36V165.62H1083.15ZM787.25 165.62H790.47V168.84H787.25ZM1079.93 165.62H1083.15V168.84H1079.93ZM787.25 168.84H790.47V172.05H787.25ZM787.25 175.27H790.47V178.48H787.25ZM793.69 178.48H796.9V181.7H793.69ZM800.12 178.48H803.33V181.7H800.12ZM796.9 181.7H800.12V184.92H796.9ZM803.33 181.7H806.55V184.92H803.33ZM806.55 184.92H809.77V188.13H806.55ZM809.77 188.13H812.98V191.35H809.77ZM809.77 191.35H812.98V194.57H809.77ZM809.77 194.57H812.98V197.78H809.77ZM1089.58 194.57H1092.8V197.78H1089.58ZM812.98 197.78H816.2V201H812.98ZM1150.69 197.78H1153.91V201H1150.69ZM1157.12 197.78H1160.34V201H1157.12ZM812.98 201H816.2V204.21H812.98ZM1096.01 201H1099.23V204.21H1096.01ZM1141.04 201H1144.26V204.21H1141.04ZM1147.47 201H1153.91V204.21H1147.47ZM812.98 204.21H816.2V207.43H812.98ZM1102.45 204.21H1105.66V207.43H1102.45ZM1134.61 204.21H1137.82V207.43H1134.61ZM1141.04 204.21H1144.26V207.43H1141.04ZM497.79 207.43H501.01V210.65H497.79ZM1112.09 207.43H1115.31V210.65H1112.09ZM488.14 210.65H491.36V213.86H488.14ZM822.63 210.65H825.85V213.86H822.63ZM484.93 213.86H488.14V217.08H484.93ZM1115.31 213.86H1118.53V217.08H1115.31ZM1121.74 213.86H1128.18V217.08H1121.74ZM825.85 217.08H829.06V220.3H825.85ZM1112.09 217.08H1115.31V220.3H1112.09ZM829.06 220.3H832.28V223.51H829.06ZM1102.45 220.3H1105.66V223.51H1102.45ZM1099.23 223.51H1102.45V226.73H1099.23ZM832.28 226.73H835.5V229.94H832.28ZM1096.01 226.73H1099.23V229.94H1096.01ZM1089.58 229.94H1092.8V233.16H1089.58ZM481.71 233.16H484.93V236.38H481.71ZM1083.15 233.16H1086.36V236.38H1083.15ZM832.28 236.38H835.5V239.59H832.28ZM1076.72 239.59H1079.93V242.81H1076.72ZM465.63 242.81H468.84V246.03H465.63ZM825.85 242.81H829.06V246.03H825.85ZM449.55 246.03H452.76V249.24H449.55ZM829.06 246.03H832.28V249.24H829.06ZM1070.28 246.03H1073.5V249.24H1070.28ZM439.9 249.24H443.11V252.46H439.9ZM832.28 249.24H835.5V252.46H832.28ZM838.71 252.46H841.93V255.67H838.71ZM436.68 255.67H439.9V258.89H436.68ZM848.36 255.67H851.58V258.89H848.36ZM433.47 258.89H436.68V262.11H433.47ZM697.2 258.89H700.41V262.11H697.2ZM858.01 258.89H861.23V262.11H858.01ZM864.44 258.89H867.66V262.11H864.44ZM433.47 262.11H436.68V265.32H433.47ZM700.41 262.11H703.63V265.32H700.41ZM433.47 265.32H436.68V268.54H433.47ZM867.66 265.32H870.88V268.54H867.66ZM430.25 268.54H433.47V271.76H430.25ZM427.03 271.76H430.25V274.97H427.03ZM1218.23 271.76H1221.45V274.97H1218.23ZM427.03 274.97H430.25V278.19H427.03ZM1215.01 274.97H1218.23V278.19H1215.01ZM1227.88 274.97H1231.1V278.19H1227.88ZM423.82 278.19H427.03V281.4H423.82ZM1211.8 278.19H1215.01V281.4H1211.8ZM423.82 281.4H427.03V284.62H423.82ZM472.06 281.4H475.28V284.62H472.06ZM1205.37 281.4H1208.58V284.62H1205.37ZM1224.66 281.4H1227.88V284.62H1224.66ZM427.03 284.62H430.25V287.84H427.03ZM446.33 284.62H455.98V287.84H446.33ZM459.2 284.62H462.41V287.84H459.2ZM1202.15 284.62H1205.37V287.84H1202.15ZM427.03 287.84H430.25V291.05H427.03ZM433.47 287.84H446.33V291.05H433.47ZM1221.45 287.84H1224.66V291.05H1221.45ZM427.03 291.05H433.47V294.27H427.03ZM1198.93 291.05H1202.15V294.27H1198.93ZM1195.72 294.27H1198.93V297.49H1195.72ZM1218.23 294.27H1221.45V297.49H1218.23ZM1215.01 297.49H1218.23V300.7H1215.01ZM1192.5 300.7H1195.72V303.92H1192.5ZM1211.8 300.7H1215.01V303.92H1211.8ZM1208.58 303.92H1211.8V307.13H1208.58ZM1205.37 310.35H1208.58V313.57H1205.37ZM1192.5 313.57H1195.72V316.78H1192.5ZM401.3 326.43H407.74V329.65H401.3ZM623.22 352.16H626.44V355.38H623.22ZM597.49 355.38H600.71V358.59H597.49ZM620.01 355.38H623.22V358.59H620.01ZM613.58 358.59H616.79V361.81H613.58ZM179.38 387.54H217.98V390.76H179.38ZM166.52 390.76H179.38V393.97H166.52ZM217.98 390.76H227.63V393.97H217.98ZM166.52 393.97H169.73V397.19H166.52ZM160.08 397.19H166.52V400.41H160.08ZM153.65 400.41H160.08V403.62H153.65ZM140.79 403.62H153.65V406.84H140.79ZM237.27 410.05H243.71V413.27H237.27ZM234.06 413.27H237.27V416.49H234.06ZM230.84 416.49H234.06V419.7H230.84ZM227.63 419.7H230.84V422.92H227.63ZM224.41 422.92H227.63V426.14H224.41ZM217.98 426.14H224.41V429.35H217.98ZM214.76 429.35H217.98V432.57H214.76ZM208.33 432.57H214.76V435.78H208.33ZM205.11 435.78H208.33V439H205.11ZM198.68 439H205.11V442.22H198.68ZM192.25 442.22H198.68V445.43H192.25ZM189.03 445.43H192.25V448.65H189.03ZM179.38 448.65H189.03V451.87H179.38ZM166.52 451.87H179.38V455.08H166.52ZM156.87 455.08H166.52V458.3H156.87ZM153.65 458.3H156.87V461.51H153.65ZM391.65 467.95H398.09V471.16H391.65ZM439.9 471.16H443.11V474.38H439.9ZM443.11 474.38H446.33V477.6H443.11ZM475.28 474.38H478.49V477.6H475.28ZM481.71 474.38H484.93V477.6H481.71ZM446.33 477.6H449.55V480.81H446.33ZM465.63 477.6H468.84V480.81H465.63ZM488.14 477.6H491.36V480.81H488.14ZM449.55 480.81H452.76V484.03H449.55ZM465.63 480.81H468.84V484.03H465.63ZM449.55 484.03H455.98V487.24H449.55ZM446.33 487.24H449.55V490.46H446.33ZM443.11 490.46H446.33V493.68H443.11ZM494.57 490.46H497.79V493.68H494.57ZM439.9 493.68H443.11V496.89H439.9ZM468.84 493.68H472.06V496.89H468.84ZM443.11 496.89H446.33V500.11H443.11ZM475.28 496.89H478.49V500.11H475.28ZM478.49 500.11H481.71V503.33H478.49ZM481.71 503.33H484.93V506.54H481.71ZM494.57 503.33H497.79V506.54H494.57ZM1124.96 516.19H1134.61V519.41H1124.96ZM394.87 519.41H401.3V522.62H394.87ZM1121.74 519.41H1124.96V522.62H1121.74ZM1131.39 519.41H1134.61V522.62H1131.39ZM401.3 522.62H407.74V525.84H401.3ZM433.47 522.62H436.68V525.84H433.47ZM1112.09 522.62H1121.74V525.84H1112.09ZM1134.61 522.62H1137.82V525.84H1134.61ZM407.74 525.84H410.95V529.06H407.74ZM430.25 525.84H433.47V529.06H430.25ZM1108.88 525.84H1118.53V529.06H1108.88ZM1128.18 525.84H1131.39V529.06H1128.18ZM1137.82 525.84H1141.04V529.06H1137.82ZM410.95 529.06H414.17V532.27H410.95ZM430.25 529.06H433.47V532.27H430.25ZM1083.15 529.06H1089.58V532.27H1083.15ZM1118.53 529.06H1128.18V532.27H1118.53ZM1131.39 529.06H1137.82V532.27H1131.39ZM433.47 532.27H436.68V535.49H433.47ZM1044.55 532.27H1063.85V535.49H1044.55ZM1083.15 532.27H1086.36V535.49H1083.15ZM1089.58 532.27H1099.23V535.49H1089.58ZM1031.69 535.49H1038.12V538.7H1031.69ZM1041.34 535.49H1044.55V538.7H1041.34ZM1060.63 535.49H1063.85V538.7H1060.63ZM1079.93 535.49H1083.15V538.7H1079.93ZM1086.36 535.49H1089.58V538.7H1086.36ZM1092.8 535.49H1096.01V538.7H1092.8ZM1131.39 535.49H1134.61V538.7H1131.39ZM443.11 538.7H446.33V541.92H443.11ZM1028.47 538.7H1031.69V541.92H1028.47ZM1038.12 538.7H1041.34V541.92H1038.12ZM1057.42 538.7H1060.63V541.92H1057.42ZM1083.15 538.7H1086.36V541.92H1083.15ZM436.68 541.92H446.33V545.14H436.68ZM1022.04 541.92H1028.47V545.14H1022.04ZM1057.42 541.92H1063.85V545.14H1057.42ZM1022.04 545.14H1025.26V548.35H1022.04ZM1054.2 545.14H1057.42V548.35H1054.2ZM1022.04 548.35H1025.26V551.57H1022.04ZM1047.77 548.35H1054.2V551.57H1047.77ZM1067.07 548.35H1073.5V551.57H1067.07ZM1025.26 551.57H1047.77V554.79H1025.26ZM1067.07 551.57H1070.28V554.79H1067.07ZM835.5 760.63H838.71V763.84H835.5ZM829.06 763.84H832.28V767.06H829.06ZM854.79 763.84H858.01V767.06H854.79ZM825.85 767.06H829.06V770.27H825.85ZM861.23 767.06H864.44V770.27H861.23ZM819.42 770.27H822.63V773.49H819.42ZM867.66 770.27H870.88V773.49H867.66ZM816.2 776.71H819.42V779.92H816.2ZM874.09 776.71H877.31V779.92H874.09ZM877.31 779.92H880.52V783.14H877.31ZM819.42 783.14H822.63V786.36H819.42ZM880.52 786.36H883.74V789.57H880.52ZM829.06 789.57H832.28V792.79H829.06ZM883.74 789.57H886.96V792.79H883.74ZM841.93 792.79H848.36V796H841.93ZM861.23 792.79H864.44V796H861.23ZM886.96 792.79H890.17V796H886.96ZM877.31 796H880.52V799.22H877.31ZM890.17 796H893.39V799.22H890.17ZM883.74 799.22H886.96V802.44H883.74ZM893.39 799.22H896.61V802.44H893.39ZM890.17 802.44H893.39V805.65H890.17Z"/>
<path fill="#3e9bfe" d="M764.74 120.59H767.96V123.81H764.74ZM764.74 123.81H767.96V127.02H764.74ZM1041.34 123.81H1044.55V127.02H1041.34ZM764.74 127.02H771.17V130.24H764.74ZM1057.42 127.02H1060.63V130.24H1057.42ZM767.96 130.24H771.17V133.46H767.96ZM870.88 130.24H874.09V133.46H870.88ZM903.04 130.24H906.25V133.46H903.04ZM767.96 133.46H771.17V136.67H767.96ZM883.74 133.46H886.96V136.67H883.74ZM890.17 133.46H893.39V136.67H890.17ZM767.96 136.67H774.39V139.89H767.96ZM1070.28 136.67H1073.5V139.89H1070.28ZM771.17 139.89H774.39V143.11H771.17ZM977.01 139.89H1015.61V143.11H977.01ZM771.17 143.11H780.82V146.32H771.17ZM967.36 143.11H977.01V146.32H967.36ZM1015.61 143.11H1031.69V146.32H1015.61ZM780.82 146.32H784.04V149.54H780.82ZM964.15 146.32H967.36V149.54H964.15ZM1031.69 146.32H1038.12V149.54H1031.69ZM784.04 149.54H787.25V152.75H784.04ZM960.93 149.54H964.15V152.75H960.93ZM986.66 149.54H1025.26V152.75H986.66ZM1038.12 149.54H1041.34V152.75H1038.12ZM784.04 152.75H787.25V155.97H784.04ZM957.71 152.75H960.93V155.97H957.71ZM973.8 152.75H986.66V155.97H973.8ZM1025.26 152.75H1038.12V155.97H1025.26ZM787.25 155.97H790.47V159.19H787.25ZM954.5 155.97H957.71V159.19H954.5ZM970.58 155.97H973.8V159.19H970.58ZM790.47 159.19H793.69V162.4H790.47ZM951.28 159.19H954.5V162.4H951.28ZM967.36 159.19H970.58V162.4H967.36ZM790.47 162.4H793.69V165.62H790.47ZM948.07 162.4H954.5V165.62H948.07ZM964.15 162.4H967.36V165.62H964.15ZM790.47 165.62H793.69V168.84H790.47ZM944.85 165.62H948.07V168.84H944.85ZM964.15 165.62H967.36V168.84H964.15ZM790.47 168.84H793.69V172.05H790.47ZM944.85 168.84H948.07V172.05H944.85ZM960.93 168.84H964.15V172.05H960.93ZM787.25 172.05H796.9V175.27H787.25ZM944.85 172.05H948.07V175.27H944.85ZM957.71 172.05H960.93V175.27H957.71ZM790.47 175.27H803.33V178.48H790.47ZM948.07 175.27H957.71V178.48H948.07ZM796.9 178.48H800.12V181.7H796.9ZM803.33 178.48H809.77V181.7H803.33ZM806.55 181.7H809.77V184.92H806.55ZM1079.93 181.7H1083.15V184.92H1079.93ZM809.77 184.92H812.98V188.13H809.77ZM1083.15 188.13H1086.36V191.35H1083.15ZM812.98 191.35H816.2V194.57H812.98ZM1086.36 191.35H1089.58V194.57H1086.36ZM584.63 194.57H587.85V197.78H584.63ZM594.28 194.57H597.49V197.78H594.28ZM812.98 194.57H816.2V197.78H812.98ZM574.98 197.78H578.2V201H574.98ZM597.49 197.78H600.71V201H597.49ZM1153.91 197.78H1157.12V201H1153.91ZM565.33 201H568.55V204.21H565.33ZM629.66 201H632.87V204.21H629.66ZM816.2 201H819.42V204.21H816.2ZM520.3 204.21H523.52V207.43H520.3ZM533.17 204.21H536.39V207.43H533.17ZM558.9 204.21H562.12V207.43H558.9ZM645.74 204.21H648.95V207.43H645.74ZM816.2 204.21H819.42V207.43H816.2ZM1096.01 204.21H1102.45V207.43H1096.01ZM1137.82 204.21H1141.04V207.43H1137.82ZM536.39 207.43H539.6V210.65H536.39ZM549.25 207.43H552.47V210.65H549.25ZM658.6 207.43H661.82V210.65H658.6ZM816.2 207.43H825.85V210.65H816.2ZM1102.45 207.43H1112.09V210.65H1102.45ZM661.82 210.65H665.04V213.86H661.82ZM825.85 210.65H829.06V213.86H825.85ZM1112.09 210.65H1128.18V213.86H1112.09ZM668.25 213.86H671.47V217.08H668.25ZM825.85 213.86H829.06V217.08H825.85ZM1112.09 213.86H1115.31V217.08H1112.09ZM665.04 217.08H668.25V220.3H665.04ZM829.06 217.08H832.28V220.3H829.06ZM1102.45 217.08H1112.09V220.3H1102.45ZM658.6 220.3H661.82V223.51H658.6ZM832.28 220.3H835.5V223.51H832.28ZM1099.23 220.3H1102.45V223.51H1099.23ZM832.28 223.51H835.5V226.73H832.28ZM1096.01 223.51H1099.23V226.73H1096.01ZM835.5 226.73H838.71V229.94H835.5ZM1089.58 226.73H1096.01V229.94H1089.58ZM835.5 229.94H838.71V233.16H835.5ZM1083.15 229.94H1089.58V233.16H1083.15ZM835.5 233.16H838.71V236.38H835.5ZM1079.93 233.16H1083.15V236.38H1079.93ZM475.28 236.38H478.49V239.59H475.28ZM835.5 236.38H838.71V239.59H835.5ZM1076.72 236.38H1083.15V239.59H1076.72ZM829.06 239.59H835.5V242.81H829.06ZM1073.5 239.59H1076.72V242.81H1073.5ZM829.06 242.81H832.28V246.03H829.06ZM1073.5 242.81H1076.72V246.03H1073.5ZM832.28 246.03H835.5V249.24H832.28ZM835.5 249.24H838.71V252.46H835.5ZM1063.85 249.24H1067.07V252.46H1063.85ZM687.55 252.46H690.77V255.67H687.55ZM841.93 252.46H848.36V255.67H841.93ZM1057.42 252.46H1060.63V255.67H1057.42ZM690.77 255.67H693.98V258.89H690.77ZM851.58 255.67H854.79V258.89H851.58ZM1050.99 255.67H1054.2V258.89H1050.99ZM436.68 258.89H439.9V262.11H436.68ZM568.55 258.89H632.87V262.11H568.55ZM1044.55 258.89H1047.77V262.11H1044.55ZM436.68 262.11H439.9V265.32H436.68ZM565.33 262.11H568.55V265.32H565.33ZM632.87 262.11H652.17V265.32H632.87ZM1041.34 262.11H1044.55V265.32H1041.34ZM436.68 265.32H439.9V268.54H436.68ZM562.12 265.32H565.33V268.54H562.12ZM652.17 265.32H661.82V268.54H652.17ZM684.33 265.32H687.55V268.54H684.33ZM1031.69 265.32H1034.9V268.54H1031.69ZM1038.12 265.32H1041.34V268.54H1038.12ZM433.47 268.54H439.9V271.76H433.47ZM558.9 268.54H562.12V271.76H558.9ZM581.41 268.54H613.58V271.76H581.41ZM661.82 268.54H665.04V271.76H661.82ZM674.68 268.54H677.9V271.76H674.68ZM1025.26 268.54H1028.47V271.76H1025.26ZM430.25 271.76H436.68V274.97H430.25ZM555.68 271.76H558.9V274.97H555.68ZM571.76 271.76H581.41V274.97H571.76ZM613.58 271.76H626.44V274.97H613.58ZM629.66 271.76H636.09V274.97H629.66ZM642.52 271.76H661.82V274.97H642.52ZM867.66 271.76H870.88V274.97H867.66ZM1221.45 271.76H1227.88V274.97H1221.45ZM430.25 274.97H436.68V278.19H430.25ZM552.47 274.97H555.68V278.19H552.47ZM568.55 274.97H571.76V278.19H568.55ZM626.44 274.97H629.66V278.19H626.44ZM636.09 274.97H642.52V278.19H636.09ZM674.68 274.97H677.9V278.19H674.68ZM864.44 274.97H867.66V278.19H864.44ZM1015.61 274.97H1018.82V278.19H1015.61ZM1218.23 274.97H1221.45V278.19H1218.23ZM1224.66 274.97H1227.88V278.19H1224.66ZM427.03 278.19H433.47V281.4H427.03ZM475.28 278.19H478.49V281.4H475.28ZM552.47 278.19H555.68V281.4H552.47ZM565.33 278.19H568.55V281.4H565.33ZM684.33 278.19H687.55V281.4H684.33ZM858.01 278.19H861.23V281.4H858.01ZM1009.17 278.19H1012.39V281.4H1009.17ZM1215.01 278.19H1218.23V281.4H1215.01ZM1224.66 278.19H1227.88V281.4H1224.66ZM427.03 281.4H455.98V284.62H427.03ZM459.2 281.4H472.06V284.62H459.2ZM504.22 281.4H507.44V284.62H504.22ZM549.25 281.4H552.47V284.62H549.25ZM562.12 281.4H565.33V284.62H562.12ZM687.55 281.4H690.77V284.62H687.55ZM851.58 281.4H854.79V284.62H851.58ZM996.31 281.4H999.53V284.62H996.31ZM1002.74 281.4H1005.96V284.62H1002.74ZM1208.58 281.4H1215.01V284.62H1208.58ZM1221.45 281.4H1224.66V284.62H1221.45ZM430.25 284.62H446.33V287.84H430.25ZM455.98 284.62H459.2V287.84H455.98ZM549.25 284.62H552.47V287.84H549.25ZM558.9 284.62H562.12V287.84H558.9ZM693.98 284.62H697.2V287.84H693.98ZM980.23 284.62H983.44V287.84H980.23ZM1205.37 284.62H1208.58V287.84H1205.37ZM1221.45 284.62H1224.66V287.84H1221.45ZM430.25 287.84H433.47V291.05H430.25ZM510.66 287.84H513.87V291.05H510.66ZM549.25 287.84H552.47V291.05H549.25ZM555.68 287.84H558.9V291.05H555.68ZM967.36 287.84H970.58V291.05H967.36ZM1202.15 287.84H1205.37V291.05H1202.15ZM1218.23 287.84H1221.45V291.05H1218.23ZM513.87 291.05H517.09V294.27H513.87ZM552.47 291.05H555.68V294.27H552.47ZM851.58 291.05H854.79V294.27H851.58ZM957.71 291.05H960.93V294.27H957.71ZM1202.15 291.05H1205.37V294.27H1202.15ZM1218.23 291.05H1221.45V294.27H1218.23ZM520.3 294.27H523.52V297.49H520.3ZM693.98 294.27H697.2V297.49H693.98ZM854.79 294.27H858.01V297.49H854.79ZM938.42 294.27H941.63V297.49H938.42ZM1198.93 294.27H1202.15V297.49H1198.93ZM1215.01 294.27H1218.23V297.49H1215.01ZM526.74 297.49H529.95V300.7H526.74ZM690.77 297.49H693.98V300.7H690.77ZM919.12 297.49H922.34V300.7H919.12ZM1195.72 297.49H1198.93V300.7H1195.72ZM1211.8 297.49H1215.01V300.7H1211.8ZM874.09 300.7H877.31V303.92H874.09ZM1195.72 300.7H1198.93V303.92H1195.72ZM1208.58 300.7H1211.8V303.92H1208.58ZM1192.5 303.92H1195.72V307.13H1192.5ZM1205.37 303.92H1208.58V307.13H1205.37ZM1192.5 307.13H1195.72V310.35H1192.5ZM1205.37 307.13H1208.58V310.35H1205.37ZM542.82 310.35H546.03V313.57H542.82ZM687.55 310.35H690.77V313.57H687.55ZM1192.5 310.35H1195.72V313.57H1192.5ZM1202.15 310.35H1205.37V313.57H1202.15ZM684.33 313.57H687.55V316.78H684.33ZM1195.72 313.57H1205.37V316.78H1195.72ZM681.12 316.78H684.33V320H681.12ZM546.03 320H549.25V323.22H546.03ZM661.82 329.65H665.04V332.86H661.82ZM655.39 332.86H658.6V336.08H655.39ZM648.95 339.3H652.17V342.51H648.95ZM655.39 339.3H658.6V342.51H655.39ZM645.74 342.51H648.95V345.73H645.74ZM639.31 345.73H642.52V348.95H639.31ZM587.85 348.95H591.06V352.16H587.85ZM632.87 348.95H636.09V352.16H632.87ZM140.79 406.84H144V410.05H140.79ZM140.79 410.05H144V413.27H140.79ZM137.57 413.27H140.79V416.49H137.57ZM134.35 416.49H137.57V419.7H134.35ZM134.35 419.7H137.57V422.92H134.35ZM134.35 422.92H137.57V426.14H134.35ZM134.35 426.14H137.57V429.35H134.35ZM134.35 429.35H137.57V432.57H134.35ZM134.35 432.57H137.57V435.78H134.35ZM131.14 435.78H134.35V439H131.14ZM131.14 439H134.35V442.22H131.14ZM131.14 442.22H134.35V445.43H131.14ZM131.14 445.43H134.35V448.65H131.14ZM131.14 448.65H134.35V451.87H131.14ZM127.92 451.87H131.14V455.08H127.92ZM127.92 455.08H131.14V458.3H127.92ZM127.92 458.3H131.14V461.51H127.92ZM127.92 461.51H131.14V464.73H127.92ZM131.14 464.73H134.35V467.95H131.14ZM127.92 467.95H134.35V471.16H127.92ZM134.35 471.16H137.57V474.38H134.35ZM391.65 471.16H394.87V474.38H391.65ZM388.44 474.38H391.65V477.6H388.44ZM388.44 477.6H391.65V480.81H388.44ZM391.65 480.81H394.87V484.03H391.65ZM394.87 484.03H398.09V487.24H394.87ZM398.09 487.24H401.3V490.46H398.09ZM398.09 490.46H417.38V493.68H398.09ZM391.65 493.68H401.3V496.89H391.65ZM417.38 493.68H427.03V496.89H417.38ZM391.65 496.89H394.87V500.11H391.65ZM398.09 496.89H401.3V500.11H398.09ZM427.03 496.89H433.47V500.11H427.03ZM385.22 500.11H391.65V503.33H385.22ZM394.87 500.11H398.09V503.33H394.87ZM433.47 500.11H436.68V503.33H433.47ZM443.11 500.11H446.33V503.33H443.11ZM394.87 503.33H398.09V506.54H394.87ZM436.68 503.33H439.9V506.54H436.68ZM446.33 503.33H449.55V506.54H446.33ZM391.65 506.54H394.87V509.76H391.65ZM430.25 506.54H436.68V509.76H430.25ZM443.11 506.54H446.33V509.76H443.11ZM394.87 509.76H401.3V512.97H394.87ZM407.74 509.76H410.95V512.97H407.74ZM414.17 509.76H430.25V512.97H414.17ZM443.11 509.76H446.33V512.97H443.11ZM378.79 512.97H382.01V516.19H378.79ZM401.3 512.97H407.74V516.19H401.3ZM410.95 512.97H414.17V516.19H410.95ZM446.33 512.97H452.76V516.19H446.33ZM449.55 516.19H452.76V519.41H449.55ZM449.55 519.41H452.76V522.62H449.55ZM1124.96 519.41H1131.39V522.62H1124.96ZM436.68 522.62H455.98V525.84H436.68ZM1121.74 522.62H1134.61V525.84H1121.74ZM1118.53 525.84H1128.18V529.06H1118.53ZM1131.39 525.84H1137.82V529.06H1131.39ZM436.68 532.27H449.55V535.49H436.68ZM1086.36 532.27H1089.58V535.49H1086.36ZM443.11 535.49H446.33V538.7H443.11ZM1044.55 535.49H1060.63V538.7H1044.55ZM1083.15 535.49H1086.36V538.7H1083.15ZM1031.69 538.7H1038.12V541.92H1031.69ZM1041.34 538.7H1047.77V541.92H1041.34ZM1054.2 538.7H1057.42V541.92H1054.2ZM1028.47 541.92H1044.55V545.14H1028.47ZM1050.99 541.92H1057.42V545.14H1050.99ZM1025.26 545.14H1031.69V548.35H1025.26ZM1044.55 545.14H1054.2V548.35H1044.55ZM1025.26 548.35H1047.77V551.57H1025.26ZM832.28 763.84H835.5V767.06H832.28ZM838.71 763.84H854.79V767.06H838.71ZM858.01 767.06H861.23V770.27H858.01ZM822.63 770.27H825.85V773.49H822.63ZM864.44 770.27H867.66V773.49H864.44ZM819.42 773.49H822.63V776.71H819.42ZM870.88 773.49H874.09V776.71H870.88ZM819.42 779.92H822.63V783.14H819.42ZM877.31 783.14H880.52V786.36H877.31ZM822.63 786.36H829.06V789.57H822.63ZM832.28 789.57H841.93V792.79H832.28ZM848.36 789.57H861.23V792.79H848.36ZM864.44 792.79H877.31V796H864.44ZM880.52 796H883.74V799.22H880.52ZM886.96 799.22H890.17V802.44H886.96Z"/>
<path fill="#3ba0fd" d="M767.96 120.59H771.17V123.81H767.96ZM858.01 120.59H861.23V123.81H858.01ZM767.96 123.81H771.17V127.02H767.96ZM858.01 123.81H861.23V127.02H858.01ZM983.44 123.81H986.66V127.02H983.44ZM771.17 127.02H774.39V130.24H771.17ZM861.23 127.02H864.44V130.24H861.23ZM915.9 127.02H919.12V130.24H915.9ZM967.36 127.02H970.58V130.24H967.36ZM771.17 130.24H774.39V133.46H771.17ZM867.66 130.24H870.88V133.46H867.66ZM1063.85 130.24H1067.07V133.46H1063.85ZM771.17 133.46H774.39V136.67H771.17ZM774.39 136.67H777.6V139.89H774.39ZM774.39 139.89H780.82V143.11H774.39ZM1073.5 139.89H1079.93V143.11H1073.5ZM780.82 143.11H784.04V146.32H780.82ZM1076.72 143.11H1079.93V146.32H1076.72ZM784.04 146.32H787.25V149.54H784.04ZM1076.72 146.32H1079.93V149.54H1076.72ZM787.25 149.54H790.47V152.75H787.25ZM1079.93 149.54H1083.15V152.75H1079.93ZM787.25 152.75H790.47V155.97H787.25ZM1083.15 152.75H1086.36V155.97H1083.15ZM790.47 155.97H793.69V159.19H790.47ZM1083.15 155.97H1086.36V159.19H1083.15ZM793.69 159.19H796.9V162.4H793.69ZM1083.15 159.19H1086.36V162.4H1083.15ZM793.69 162.4H796.9V165.62H793.69ZM1079.93 162.4H1083.15V165.62H1079.93ZM793.69 165.62H796.9V168.84H793.69ZM1076.72 165.62H1079.93V168.84H1076.72ZM793.69 168.84H800.12V172.05H793.69ZM1076.72 168.84H1079.93V172.05H1076.72ZM796.9 172.05H803.33V175.27H796.9ZM1076.72 172.05H1079.93V175.27H1076.72ZM803.33 175.27H809.77V178.48H803.33ZM1076.72 175.27H1079.93V178.48H1076.72ZM809.77 178.48H812.98V181.7H809.77ZM809.77 181.7H812.98V184.92H809.77ZM812.98 184.92H816.2V188.13H812.98ZM812.98 188.13H816.2V191.35H812.98ZM816.2 191.35H819.42V194.57H816.2ZM816.2 194.57H819.42V197.78H816.2ZM816.2 197.78H822.63V201H816.2ZM1089.58 197.78H1096.01V201H1089.58ZM819.42 201H822.63V204.21H819.42ZM1092.8 201H1096.01V204.21H1092.8ZM819.42 204.21H829.06V207.43H819.42ZM1092.8 204.21H1096.01V207.43H1092.8ZM501.01 207.43H520.3V210.65H501.01ZM825.85 207.43H832.28V210.65H825.85ZM1096.01 207.43H1102.45V210.65H1096.01ZM491.36 210.65H501.01V213.86H491.36ZM829.06 210.65H832.28V213.86H829.06ZM1102.45 210.65H1112.09V213.86H1102.45ZM488.14 213.86H491.36V217.08H488.14ZM829.06 213.86H835.5V217.08H829.06ZM1102.45 213.86H1112.09V217.08H1102.45ZM484.93 217.08H488.14V220.3H484.93ZM832.28 217.08H835.5V220.3H832.28ZM1099.23 217.08H1102.45V220.3H1099.23ZM484.93 220.3H488.14V223.51H484.93ZM835.5 220.3H838.71V223.51H835.5ZM1096.01 220.3H1099.23V223.51H1096.01ZM484.93 223.51H488.14V226.73H484.93ZM835.5 223.51H838.71V226.73H835.5ZM1089.58 223.51H1096.01V226.73H1089.58ZM484.93 226.73H488.14V229.94H484.93ZM838.71 226.73H841.93V229.94H838.71ZM1083.15 226.73H1089.58V229.94H1083.15ZM484.93 229.94H488.14V233.16H484.93ZM658.6 229.94H661.82V233.16H658.6ZM838.71 229.94H841.93V233.16H838.71ZM1079.93 229.94H1083.15V233.16H1079.93ZM661.82 233.16H665.04V236.38H661.82ZM838.71 233.16H841.93V236.38H838.71ZM1076.72 233.16H1079.93V236.38H1076.72ZM478.49 236.38H481.71V239.59H478.49ZM665.04 236.38H668.25V239.59H665.04ZM1073.5 236.38H1076.72V239.59H1073.5ZM468.84 239.59H475.28V242.81H468.84ZM668.25 239.59H671.47V242.81H668.25ZM835.5 239.59H838.71V242.81H835.5ZM671.47 242.81H674.68V246.03H671.47ZM832.28 242.81H835.5V246.03H832.28ZM1070.28 242.81H1073.5V246.03H1070.28ZM452.76 246.03H465.63V249.24H452.76ZM677.9 246.03H681.12V249.24H677.9ZM835.5 246.03H838.71V249.24H835.5ZM443.11 249.24H452.76V252.46H443.11ZM681.12 249.24H684.33V252.46H681.12ZM838.71 249.24H845.15V252.46H838.71ZM439.9 252.46H443.11V255.67H439.9ZM848.36 252.46H851.58V255.67H848.36ZM439.9 255.67H443.11V258.89H439.9ZM854.79 255.67H867.66V258.89H854.79ZM439.9 258.89H443.11V262.11H439.9ZM693.98 258.89H697.2V262.11H693.98ZM867.66 258.89H870.88V262.11H867.66ZM439.9 262.11H443.11V265.32H439.9ZM693.98 262.11H700.41V265.32H693.98ZM867.66 262.11H870.88V265.32H867.66ZM439.9 265.32H443.11V268.54H439.9ZM439.9 268.54H446.33V271.76H439.9ZM870.88 268.54H874.09V271.76H870.88ZM436.68 271.76H446.33V274.97H436.68ZM436.68 274.97H452.76V278.19H436.68ZM1221.45 274.97H1224.66V278.19H1221.45ZM433.47 278.19H475.28V281.4H433.47ZM478.49 278.19H501.01V281.4H478.49ZM1218.23 278.19H1224.66V281.4H1218.23ZM455.98 281.4H459.2V284.62H455.98ZM1215.01 281.4H1221.45V284.62H1215.01ZM1208.58 284.62H1215.01V287.84H1208.58ZM1218.23 284.62H1221.45V287.84H1218.23ZM973.8 287.84H977.01V291.05H973.8ZM1205.37 287.84H1208.58V291.05H1205.37ZM1215.01 287.84H1218.23V291.05H1215.01ZM1205.37 291.05H1208.58V294.27H1205.37ZM1215.01 291.05H1218.23V294.27H1215.01ZM1202.15 294.27H1205.37V297.49H1202.15ZM1211.8 294.27H1215.01V297.49H1211.8ZM1198.93 297.49H1202.15V300.7H1198.93ZM1208.58 297.49H1211.8V300.7H1208.58ZM533.17 300.7H536.39V303.92H533.17ZM880.52 300.7H883.74V303.92H880.52ZM1198.93 300.7H1202.15V303.92H1198.93ZM1205.37 300.7H1208.58V303.92H1205.37ZM539.6 303.92H542.82V307.13H539.6ZM1195.72 303.92H1198.93V307.13H1195.72ZM1202.15 303.92H1205.37V307.13H1202.15ZM1195.72 307.13H1198.93V310.35H1195.72ZM1202.15 307.13H1205.37V310.35H1202.15ZM1195.72 310.35H1202.15V313.57H1195.72ZM674.68 320H677.9V323.22H674.68ZM549.25 326.43H552.47V329.65H549.25ZM671.47 326.43H674.68V329.65H671.47ZM552.47 329.65H555.68V332.86H552.47ZM555.68 332.86H558.9V336.08H555.68ZM568.55 336.08H571.76V339.3H568.55ZM574.98 339.3H578.2V342.51H574.98ZM578.2 342.51H581.41V345.73H578.2ZM581.41 345.73H584.63V348.95H581.41ZM591.06 352.16H600.71V355.38H591.06ZM620.01 352.16H623.22V355.38H620.01ZM600.71 355.38H603.93V358.59H600.71ZM613.58 355.38H620.01V358.59H613.58ZM600.71 358.59H613.58V361.81H600.71ZM240.49 381.11H243.71V384.32H240.49ZM250.14 381.11H253.36V384.32H250.14ZM237.27 384.32H240.49V387.54H237.27ZM246.92 387.54H250.14V390.76H246.92ZM147.22 458.3H150.44V461.51H147.22ZM144 461.51H147.22V464.73H144ZM137.57 464.73H140.79V467.95H137.57ZM407.74 464.73H410.95V467.95H407.74ZM430.25 464.73H433.47V467.95H430.25ZM433.47 467.95H436.68V471.16H433.47ZM478.49 474.38H481.71V477.6H478.49ZM468.84 477.6H478.49V480.81H468.84ZM481.71 477.6H488.14V480.81H481.71ZM468.84 480.81H472.06V484.03H468.84ZM488.14 480.81H494.57V484.03H488.14ZM468.84 484.03H472.06V487.24H468.84ZM491.36 484.03H494.57V487.24H491.36ZM468.84 487.24H472.06V490.46H468.84ZM491.36 487.24H494.57V490.46H491.36ZM468.84 490.46H472.06V493.68H468.84ZM491.36 490.46H494.57V493.68H491.36ZM472.06 493.68H478.49V496.89H472.06ZM494.57 493.68H497.79V496.89H494.57ZM478.49 496.89H481.71V500.11H478.49ZM494.57 496.89H497.79V500.11H494.57ZM481.71 500.11H484.93V503.33H481.71ZM494.57 500.11H497.79V503.33H494.57ZM484.93 503.33H494.57V506.54H484.93ZM382.01 516.19H385.22V519.41H382.01ZM414.17 538.7H417.38V541.92H414.17ZM1047.77 538.7H1054.2V541.92H1047.77ZM417.38 541.92H420.6V545.14H417.38ZM1044.55 541.92H1050.99V545.14H1044.55ZM420.6 545.14H423.82V548.35H420.6ZM1031.69 545.14H1044.55V548.35H1031.69ZM835.5 763.84H838.71V767.06H835.5ZM829.06 767.06H832.28V770.27H829.06ZM854.79 767.06H858.01V770.27H854.79ZM825.85 770.27H829.06V773.49H825.85ZM861.23 770.27H864.44V773.49H861.23ZM867.66 773.49H870.88V776.71H867.66ZM819.42 776.71H822.63V779.92H819.42ZM870.88 776.71H874.09V779.92H870.88ZM874.09 779.92H877.31V783.14H874.09ZM822.63 783.14H825.85V786.36H822.63ZM829.06 786.36H832.28V789.57H829.06ZM877.31 786.36H880.52V789.57H877.31ZM841.93 789.57H848.36V792.79H841.93ZM861.23 789.57H864.44V792.79H861.23ZM880.52 789.57H883.74V792.79H880.52ZM877.31 792.79H880.52V796H877.31ZM883.74 792.79H886.96V796H883.74ZM883.74 796H890.17V799.22H883.74ZM890.17 799.22H893.39V802.44H890.17Z"/>
<path fill="#38a5fb" d="M771.17 120.59H774.39V123.81H771.17ZM1038.12 120.59H1041.34V123.81H1038.12ZM771.17 123.81H774.39V127.02H771.17ZM1038.12 123.81H1041.34V127.02H1038.12ZM774.39 127.02H777.6V130.24H774.39ZM858.01 127.02H861.23V130.24H858.01ZM938.42 127.02H941.63V130.24H938.42ZM1041.34 127.02H1057.42V130.24H1041.34ZM774.39 130.24H777.6V133.46H774.39ZM864.44 130.24H867.66V133.46H864.44ZM774.39 133.46H777.6V136.67H774.39ZM870.88 133.46H883.74V136.67H870.88ZM893.39 133.46H899.82V136.67H893.39ZM1067.07 133.46H1070.28V136.67H1067.07ZM777.6 136.67H780.82V139.89H777.6ZM780.82 139.89H784.04V143.11H780.82ZM1070.28 139.89H1073.5V143.11H1070.28ZM784.04 143.11H787.25V146.32H784.04ZM787.25 146.32H790.47V149.54H787.25ZM790.47 149.54H793.69V152.75H790.47ZM1076.72 149.54H1079.93V152.75H1076.72ZM790.47 152.75H793.69V155.97H790.47ZM1079.93 152.75H1083.15V155.97H1079.93ZM793.69 155.97H796.9V159.19H793.69ZM796.9 159.19H800.12V162.4H796.9ZM1079.93 159.19H1083.15V162.4H1079.93ZM796.9 162.4H800.12V165.62H796.9ZM1076.72 162.4H1079.93V165.62H1076.72ZM796.9 165.62H803.33V168.84H796.9ZM800.12 168.84H806.55V172.05H800.12ZM803.33 172.05H809.77V175.27H803.33ZM809.77 175.27H812.98V178.48H809.77ZM812.98 178.48H816.2V181.7H812.98ZM1076.72 178.48H1079.93V181.7H1076.72ZM812.98 181.7H816.2V184.92H812.98ZM1076.72 181.7H1079.93V184.92H1076.72ZM816.2 184.92H819.42V188.13H816.2ZM1079.93 184.92H1083.15V188.13H1079.93ZM816.2 188.13H819.42V191.35H816.2ZM1079.93 188.13H1083.15V191.35H1079.93ZM819.42 191.35H822.63V194.57H819.42ZM1083.15 191.35H1086.36V194.57H1083.15ZM819.42 194.57H825.85V197.78H819.42ZM1086.36 194.57H1089.58V197.78H1086.36ZM822.63 197.78H825.85V201H822.63ZM1086.36 197.78H1089.58V201H1086.36ZM822.63 201H829.06V204.21H822.63ZM1089.58 201H1092.8V204.21H1089.58ZM523.52 204.21H533.17V207.43H523.52ZM642.52 204.21H645.74V207.43H642.52ZM829.06 204.21H832.28V207.43H829.06ZM1089.58 204.21H1092.8V207.43H1089.58ZM520.3 207.43H523.52V210.65H520.3ZM552.47 207.43H558.9V210.65H552.47ZM648.95 207.43H658.6V210.65H648.95ZM832.28 207.43H835.5V210.65H832.28ZM1086.36 207.43H1096.01V210.65H1086.36ZM501.01 210.65H504.22V213.86H501.01ZM539.6 210.65H549.25V213.86H539.6ZM832.28 210.65H835.5V213.86H832.28ZM1089.58 210.65H1102.45V213.86H1089.58ZM491.36 213.86H494.57V217.08H491.36ZM665.04 213.86H668.25V217.08H665.04ZM835.5 213.86H838.71V217.08H835.5ZM1092.8 213.86H1102.45V217.08H1092.8ZM488.14 217.08H491.36V220.3H488.14ZM661.82 217.08H665.04V220.3H661.82ZM835.5 217.08H841.93V220.3H835.5ZM1089.58 217.08H1099.23V220.3H1089.58ZM838.71 220.3H841.93V223.51H838.71ZM1083.15 220.3H1096.01V223.51H1083.15ZM655.39 223.51H658.6V226.73H655.39ZM838.71 223.51H845.15V226.73H838.71ZM1076.72 223.51H1089.58V226.73H1076.72ZM841.93 226.73H845.15V229.94H841.93ZM1073.5 226.73H1083.15V229.94H1073.5ZM841.93 229.94H845.15V233.16H841.93ZM1073.5 229.94H1079.93V233.16H1073.5ZM484.93 233.16H488.14V236.38H484.93ZM841.93 233.16H845.15V236.38H841.93ZM1070.28 233.16H1076.72V236.38H1070.28ZM481.71 236.38H484.93V239.59H481.71ZM838.71 236.38H845.15V239.59H838.71ZM1070.28 236.38H1073.5V239.59H1070.28ZM475.28 239.59H478.49V242.81H475.28ZM838.71 239.59H841.93V242.81H838.71ZM1070.28 239.59H1073.5V242.81H1070.28ZM468.84 242.81H472.06V246.03H468.84ZM835.5 242.81H841.93V246.03H835.5ZM465.63 246.03H468.84V249.24H465.63ZM838.71 246.03H845.15V249.24H838.71ZM1067.07 246.03H1070.28V249.24H1067.07ZM452.76 249.24H455.98V252.46H452.76ZM845.15 249.24H851.58V252.46H845.15ZM443.11 252.46H452.76V255.67H443.11ZM851.58 252.46H864.44V255.67H851.58ZM443.11 255.67H446.33V258.89H443.11ZM867.66 255.67H870.88V258.89H867.66ZM1047.77 255.67H1050.99V258.89H1047.77ZM443.11 258.89H446.33V262.11H443.11ZM690.77 258.89H693.98V262.11H690.77ZM443.11 262.11H446.33V265.32H443.11ZM687.55 262.11H693.98V265.32H687.55ZM1031.69 262.11H1041.34V265.32H1031.69ZM443.11 265.32H449.55V268.54H443.11ZM870.88 265.32H874.09V268.54H870.88ZM1025.26 265.32H1031.69V268.54H1025.26ZM446.33 268.54H452.76V271.76H446.33ZM1022.04 268.54H1025.26V271.76H1022.04ZM446.33 271.76H465.63V274.97H446.33ZM870.88 271.76H874.09V274.97H870.88ZM1015.61 271.76H1025.26V274.97H1015.61ZM452.76 274.97H484.93V278.19H452.76ZM867.66 274.97H870.88V278.19H867.66ZM1009.17 274.97H1015.61V278.19H1009.17ZM501.01 278.19H504.22V281.4H501.01ZM677.9 278.19H684.33V281.4H677.9ZM861.23 278.19H867.66V281.4H861.23ZM996.31 278.19H1009.17V281.4H996.31ZM684.33 281.4H687.55V284.62H684.33ZM854.79 281.4H861.23V284.62H854.79ZM983.44 281.4H996.31V284.62H983.44ZM507.44 284.62H510.66V287.84H507.44ZM687.55 284.62H693.98V287.84H687.55ZM851.58 284.62H854.79V287.84H851.58ZM1215.01 284.62H1218.23V287.84H1215.01ZM693.98 287.84H697.2V291.05H693.98ZM851.58 287.84H854.79V291.05H851.58ZM957.71 287.84H967.36V291.05H957.71ZM1208.58 287.84H1215.01V291.05H1208.58ZM517.09 291.05H520.3V294.27H517.09ZM693.98 291.05H697.2V294.27H693.98ZM854.79 291.05H858.01V294.27H854.79ZM938.42 291.05H957.71V294.27H938.42ZM1208.58 291.05H1215.01V294.27H1208.58ZM690.77 294.27H693.98V297.49H690.77ZM858.01 294.27H861.23V297.49H858.01ZM919.12 294.27H938.42V297.49H919.12ZM1205.37 294.27H1211.8V297.49H1205.37ZM687.55 297.49H690.77V300.7H687.55ZM858.01 297.49H874.09V300.7H858.01ZM906.25 297.49H919.12V300.7H906.25ZM1202.15 297.49H1208.58V300.7H1202.15ZM687.55 300.7H690.77V303.92H687.55ZM1202.15 300.7H1205.37V303.92H1202.15ZM687.55 303.92H690.77V307.13H687.55ZM1198.93 303.92H1202.15V307.13H1198.93ZM687.55 307.13H690.77V310.35H687.55ZM1198.93 307.13H1202.15V310.35H1198.93ZM684.33 310.35H687.55V313.57H684.33ZM546.03 316.78H549.25V320H546.03ZM591.06 348.95H594.28V352.16H591.06ZM623.22 348.95H632.87V352.16H623.22ZM600.71 352.16H603.93V355.38H600.71ZM616.79 352.16H620.01V355.38H616.79ZM610.36 355.38H613.58V358.59H610.36ZM179.38 390.76H182.6V393.97H179.38ZM214.76 390.76H217.98V393.97H214.76ZM230.84 390.76H234.06V393.97H230.84ZM166.52 397.19H169.73V400.41H166.52ZM243.71 397.19H246.92V400.41H243.71ZM160.08 400.41H163.3V403.62H160.08ZM240.49 400.41H243.71V403.62H240.49ZM153.65 403.62H156.87V406.84H153.65ZM234.06 410.05H237.27V413.27H234.06ZM230.84 413.27H234.06V416.49H230.84ZM227.63 416.49H230.84V419.7H227.63ZM224.41 419.7H227.63V422.92H224.41ZM221.19 422.92H224.41V426.14H221.19ZM214.76 426.14H217.98V429.35H214.76ZM211.54 429.35H214.76V432.57H211.54ZM205.11 432.57H208.33V435.78H205.11ZM201.9 435.78H205.11V439H201.9ZM195.46 439H198.68V442.22H195.46ZM189.03 442.22H192.25V445.43H189.03ZM185.81 445.43H189.03V448.65H185.81ZM176.17 448.65H179.38V451.87H176.17ZM163.3 451.87H166.52V455.08H163.3ZM153.65 455.08H156.87V458.3H153.65ZM398.09 467.95H401.3V471.16H398.09ZM436.68 471.16H439.9V474.38H436.68ZM439.9 474.38H443.11V477.6H439.9ZM443.11 477.6H446.33V480.81H443.11ZM478.49 477.6H481.71V480.81H478.49ZM446.33 480.81H449.55V484.03H446.33ZM484.93 480.81H488.14V484.03H484.93ZM446.33 484.03H449.55V487.24H446.33ZM443.11 487.24H446.33V490.46H443.11ZM472.06 490.46H475.28V493.68H472.06ZM478.49 493.68H481.71V496.89H478.49ZM491.36 493.68H494.57V496.89H491.36ZM481.71 496.89H484.93V500.11H481.71ZM484.93 500.11H488.14V503.33H484.93ZM491.36 500.11H494.57V503.33H491.36ZM401.3 519.41H404.52V522.62H401.3ZM410.95 525.84H414.17V529.06H410.95ZM430.25 532.27H433.47V535.49H430.25ZM433.47 541.92H436.68V545.14H433.47ZM832.28 767.06H854.79V770.27H832.28ZM829.06 770.27H835.5V773.49H829.06ZM851.58 770.27H861.23V773.49H851.58ZM822.63 773.49H832.28V776.71H822.63ZM858.01 773.49H867.66V776.71H858.01ZM822.63 776.71H825.85V779.92H822.63ZM864.44 776.71H870.88V779.92H864.44ZM822.63 779.92H829.06V783.14H822.63ZM867.66 779.92H874.09V783.14H867.66ZM825.85 783.14H835.5V786.36H825.85ZM870.88 783.14H877.31V786.36H870.88ZM832.28 786.36H867.66V789.57H832.28ZM874.09 786.36H877.31V789.57H874.09ZM864.44 789.57H880.52V792.79H864.44ZM880.52 792.79H883.74V796H880.52Z"/>
<path fill="#37a8fa" d="M854.79 120.59H858.01V123.81H854.79ZM986.66 120.59H989.88V123.81H986.66ZM774.39 123.81H777.6V127.02H774.39ZM854.79 123.81H858.01V127.02H854.79ZM777.6 127.02H787.25V130.24H777.6ZM854.79 127.02H858.01V130.24H854.79ZM973.8 127.02H983.44V130.24H973.8ZM777.6 130.24H787.25V133.46H777.6ZM858.01 130.24H864.44V133.46H858.01ZM906.25 130.24H915.9V133.46H906.25ZM1060.63 130.24H1063.85V133.46H1060.63ZM777.6 133.46H784.04V136.67H777.6ZM864.44 133.46H870.88V136.67H864.44ZM899.82 133.46H903.04V136.67H899.82ZM780.82 136.67H787.25V139.89H780.82ZM883.74 136.67H890.17V139.89H883.74ZM1067.07 136.67H1070.28V139.89H1067.07ZM784.04 139.89H787.25V143.11H784.04ZM787.25 143.11H790.47V146.32H787.25ZM1070.28 143.11H1076.72V146.32H1070.28ZM790.47 146.32H793.69V149.54H790.47ZM1073.5 146.32H1076.72V149.54H1073.5ZM793.69 149.54H796.9V152.75H793.69ZM1073.5 149.54H1076.72V152.75H1073.5ZM793.69 152.75H796.9V155.97H793.69ZM1076.72 152.75H1079.93V155.97H1076.72ZM796.9 155.97H800.12V159.19H796.9ZM1079.93 155.97H1083.15V159.19H1079.93ZM800.12 159.19H803.33V162.4H800.12ZM1076.72 159.19H1079.93V162.4H1076.72ZM800.12 162.4H803.33V165.62H800.12ZM1073.5 162.4H1076.72V165.62H1073.5ZM803.33 165.62H806.55V168.84H803.33ZM1073.5 165.62H1076.72V168.84H1073.5ZM806.55 168.84H809.77V172.05H806.55ZM1073.5 168.84H1076.72V172.05H1073.5ZM809.77 172.05H812.98V175.27H809.77ZM1073.5 172.05H1076.72V175.27H1073.5ZM812.98 175.27H816.2V178.48H812.98ZM1073.5 175.27H1076.72V178.48H1073.5ZM816.2 178.48H819.42V181.7H816.2ZM1073.5 178.48H1076.72V181.7H1073.5ZM816.2 181.7H819.42V184.92H816.2ZM819.42 184.92H822.63V188.13H819.42ZM1076.72 184.92H1079.93V188.13H1076.72ZM819.42 188.13H825.85V191.35H819.42ZM822.63 191.35H825.85V194.57H822.63ZM1079.93 191.35H1083.15V194.57H1079.93ZM587.85 194.57H594.28V197.78H587.85ZM825.85 194.57H829.06V197.78H825.85ZM1083.15 194.57H1086.36V197.78H1083.15ZM578.2 197.78H584.63V201H578.2ZM825.85 197.78H832.28V201H825.85ZM568.55 201H574.98V204.21H568.55ZM600.71 201H629.66V204.21H600.71ZM829.06 201H832.28V204.21H829.06ZM1083.15 201H1089.58V204.21H1083.15ZM562.12 204.21H565.33V207.43H562.12ZM632.87 204.21H642.52V207.43H632.87ZM832.28 204.21H835.5V207.43H832.28ZM1079.93 204.21H1089.58V207.43H1079.93ZM533.17 207.43H536.39V210.65H533.17ZM558.9 207.43H562.12V210.65H558.9ZM645.74 207.43H648.95V210.65H645.74ZM835.5 207.43H838.71V210.65H835.5ZM1076.72 207.43H1086.36V210.65H1076.72ZM504.22 210.65H520.3V213.86H504.22ZM536.39 210.65H539.6V213.86H536.39ZM549.25 210.65H552.47V213.86H549.25ZM658.6 210.65H661.82V213.86H658.6ZM835.5 210.65H838.71V213.86H835.5ZM1076.72 210.65H1089.58V213.86H1076.72ZM494.57 213.86H504.22V217.08H494.57ZM661.82 213.86H665.04V217.08H661.82ZM838.71 213.86H841.93V217.08H838.71ZM1076.72 213.86H1092.8V217.08H1076.72ZM491.36 217.08H494.57V220.3H491.36ZM658.6 217.08H661.82V220.3H658.6ZM841.93 217.08H845.15V220.3H841.93ZM1073.5 217.08H1089.58V220.3H1073.5ZM488.14 220.3H491.36V223.51H488.14ZM655.39 220.3H658.6V223.51H655.39ZM841.93 220.3H845.15V223.51H841.93ZM1070.28 220.3H1083.15V223.51H1070.28ZM488.14 223.51H491.36V226.73H488.14ZM845.15 223.51H848.36V226.73H845.15ZM1067.07 223.51H1076.72V226.73H1067.07ZM488.14 226.73H491.36V229.94H488.14ZM655.39 226.73H658.6V229.94H655.39ZM845.15 226.73H848.36V229.94H845.15ZM1067.07 226.73H1073.5V229.94H1067.07ZM488.14 229.94H491.36V233.16H488.14ZM845.15 229.94H848.36V233.16H845.15ZM1067.07 229.94H1073.5V233.16H1067.07ZM488.14 233.16H491.36V236.38H488.14ZM845.15 233.16H848.36V236.38H845.15ZM1067.07 233.16H1070.28V236.38H1067.07ZM484.93 236.38H488.14V239.59H484.93ZM845.15 236.38H848.36V239.59H845.15ZM478.49 239.59H481.71V242.81H478.49ZM841.93 239.59H848.36V242.81H841.93ZM472.06 242.81H475.28V246.03H472.06ZM841.93 242.81H851.58V246.03H841.93ZM1067.07 242.81H1070.28V246.03H1067.07ZM468.84 246.03H472.06V249.24H468.84ZM674.68 246.03H677.9V249.24H674.68ZM845.15 246.03H854.79V249.24H845.15ZM1063.85 246.03H1067.07V249.24H1063.85ZM455.98 249.24H468.84V252.46H455.98ZM851.58 249.24H861.23V252.46H851.58ZM1057.42 249.24H1063.85V252.46H1057.42ZM452.76 252.46H459.2V255.67H452.76ZM684.33 252.46H687.55V255.67H684.33ZM864.44 252.46H867.66V255.67H864.44ZM1050.99 252.46H1057.42V255.67H1050.99ZM446.33 255.67H455.98V258.89H446.33ZM687.55 255.67H690.77V258.89H687.55ZM1044.55 255.67H1047.77V258.89H1044.55ZM446.33 258.89H455.98V262.11H446.33ZM870.88 258.89H874.09V262.11H870.88ZM1041.34 258.89H1044.55V262.11H1041.34ZM446.33 262.11H459.2V265.32H446.33ZM684.33 262.11H687.55V265.32H684.33ZM870.88 262.11H874.09V265.32H870.88ZM449.55 265.32H462.41V268.54H449.55ZM677.9 265.32H684.33V268.54H677.9ZM874.09 265.32H877.31V268.54H874.09ZM452.76 268.54H475.28V271.76H452.76ZM874.09 268.54H877.31V271.76H874.09ZM465.63 271.76H481.71V274.97H465.63ZM671.47 271.76H674.68V274.97H671.47ZM484.93 274.97H497.79V278.19H484.93ZM671.47 274.97H674.68V278.19H671.47ZM870.88 274.97H874.09V278.19H870.88ZM504.22 278.19H507.44V281.4H504.22ZM674.68 278.19H677.9V281.4H674.68ZM507.44 281.4H510.66V284.62H507.44ZM980.23 281.4H983.44V284.62H980.23ZM510.66 284.62H513.87V287.84H510.66ZM967.36 284.62H973.8V287.84H967.36ZM977.01 284.62H980.23V287.84H977.01ZM513.87 287.84H517.09V291.05H513.87ZM520.3 291.05H523.52V294.27H520.3ZM523.52 294.27H526.74V297.49H523.52ZM529.95 297.49H533.17V300.7H529.95ZM874.09 297.49H880.52V300.7H874.09ZM899.82 297.49H906.25V300.7H899.82ZM536.39 300.7H539.6V303.92H536.39ZM542.82 307.13H546.03V310.35H542.82ZM546.03 313.57H549.25V316.78H546.03ZM681.12 313.57H684.33V316.78H681.12ZM549.25 320H552.47V323.22H549.25ZM549.25 323.22H552.47V326.43H549.25ZM665.04 326.43H668.25V329.65H665.04ZM655.39 329.65H661.82V332.86H655.39ZM652.17 332.86H655.39V336.08H652.17ZM648.95 336.08H655.39V339.3H648.95ZM645.74 339.3H648.95V342.51H645.74ZM639.31 342.51H645.74V345.73H639.31ZM584.63 345.73H591.06V348.95H584.63ZM632.87 345.73H639.31V348.95H632.87ZM594.28 348.95H603.93V352.16H594.28ZM616.79 348.95H623.22V352.16H616.79ZM603.93 352.16H607.14V355.38H603.93ZM610.36 352.16H616.79V355.38H610.36ZM603.93 355.38H610.36V358.59H603.93ZM423.82 464.73H430.25V467.95H423.82ZM472.06 480.81H484.93V484.03H472.06ZM472.06 484.03H475.28V487.24H472.06ZM484.93 484.03H491.36V487.24H484.93ZM472.06 487.24H475.28V490.46H472.06ZM488.14 487.24H491.36V490.46H488.14ZM439.9 490.46H443.11V493.68H439.9ZM475.28 490.46H481.71V493.68H475.28ZM488.14 490.46H491.36V493.68H488.14ZM481.71 493.68H484.93V496.89H481.71ZM488.14 493.68H491.36V496.89H488.14ZM439.9 496.89H443.11V500.11H439.9ZM484.93 496.89H488.14V500.11H484.93ZM491.36 496.89H494.57V500.11H491.36ZM488.14 500.11H491.36V503.33H488.14ZM375.57 503.33H385.22V506.54H375.57ZM375.57 506.54H378.79V509.76H375.57ZM375.57 509.76H378.79V512.97H375.57ZM407.74 522.62H410.95V525.84H407.74ZM430.25 522.62H433.47V525.84H430.25ZM835.5 770.27H851.58V773.49H835.5ZM832.28 773.49H858.01V776.71H832.28ZM825.85 776.71H835.5V779.92H825.85ZM851.58 776.71H864.44V779.92H851.58ZM829.06 779.92H867.66V783.14H829.06ZM835.5 783.14H870.88V786.36H835.5ZM867.66 786.36H874.09V789.57H867.66Z"/>
<path fill="#35abf8" d="M774.39 120.59H784.04V123.81H774.39ZM848.36 120.59H854.79V123.81H848.36ZM1034.9 120.59H1038.12V123.81H1034.9ZM777.6 123.81H800.12V127.02H777.6ZM848.36 123.81H854.79V127.02H848.36ZM986.66 123.81H989.88V127.02H986.66ZM1034.9 123.81H1038.12V127.02H1034.9ZM787.25 127.02H806.55V130.24H787.25ZM848.36 127.02H854.79V130.24H848.36ZM919.12 127.02H922.34V130.24H919.12ZM970.58 127.02H973.8V130.24H970.58ZM983.44 127.02H986.66V130.24H983.44ZM1038.12 127.02H1041.34V130.24H1038.12ZM787.25 130.24H806.55V133.46H787.25ZM851.58 130.24H858.01V133.46H851.58ZM915.9 130.24H919.12V133.46H915.9ZM951.28 130.24H967.36V133.46H951.28ZM1041.34 130.24H1054.2V133.46H1041.34ZM1057.42 130.24H1060.63V133.46H1057.42ZM784.04 133.46H793.69V136.67H784.04ZM858.01 133.46H864.44V136.67H858.01ZM903.04 133.46H906.25V136.67H903.04ZM1063.85 133.46H1067.07V136.67H1063.85ZM787.25 136.67H790.47V139.89H787.25ZM870.88 136.67H874.09V139.89H870.88ZM890.17 136.67H893.39V139.89H890.17ZM787.25 139.89H793.69V143.11H787.25ZM1067.07 139.89H1070.28V143.11H1067.07ZM790.47 143.11H793.69V146.32H790.47ZM1067.07 143.11H1070.28V146.32H1067.07ZM793.69 146.32H796.9V149.54H793.69ZM1070.28 146.32H1073.5V149.54H1070.28ZM796.9 149.54H800.12V152.75H796.9ZM1070.28 149.54H1073.5V152.75H1070.28ZM796.9 152.75H800.12V155.97H796.9ZM1073.5 152.75H1076.72V155.97H1073.5ZM800.12 155.97H803.33V159.19H800.12ZM1073.5 155.97H1079.93V159.19H1073.5ZM803.33 159.19H806.55V162.4H803.33ZM1073.5 159.19H1076.72V162.4H1073.5ZM803.33 162.4H809.77V165.62H803.33ZM1070.28 162.4H1073.5V165.62H1070.28ZM806.55 165.62H812.98V168.84H806.55ZM1070.28 165.62H1073.5V168.84H1070.28ZM809.77 168.84H812.98V172.05H809.77ZM1070.28 168.84H1073.5V172.05H1070.28ZM812.98 172.05H816.2V175.27H812.98ZM1070.28 172.05H1073.5V175.27H1070.28ZM816.2 175.27H819.42V178.48H816.2ZM819.42 178.48H822.63V181.7H819.42ZM819.42 181.7H822.63V184.92H819.42ZM1073.5 181.7H1076.72V184.92H1073.5ZM822.63 184.92H825.85V188.13H822.63ZM1073.5 184.92H1076.72V188.13H1073.5ZM825.85 188.13H829.06V191.35H825.85ZM1076.72 188.13H1079.93V191.35H1076.72ZM825.85 191.35H829.06V194.57H825.85ZM829.06 194.57H832.28V197.78H829.06ZM1079.93 194.57H1083.15V197.78H1079.93ZM584.63 197.78H587.85V201H584.63ZM594.28 197.78H597.49V201H594.28ZM832.28 197.78H835.5V201H832.28ZM1079.93 197.78H1086.36V201H1079.93ZM574.98 201H578.2V204.21H574.98ZM597.49 201H600.71V204.21H597.49ZM832.28 201H835.5V204.21H832.28ZM1076.72 201H1083.15V204.21H1076.72ZM565.33 204.21H568.55V207.43H565.33ZM629.66 204.21H632.87V207.43H629.66ZM835.5 204.21H838.71V207.43H835.5ZM1073.5 204.21H1079.93V207.43H1073.5ZM523.52 207.43H533.17V210.65H523.52ZM1073.5 207.43H1076.72V210.65H1073.5ZM520.3 210.65H523.52V213.86H520.3ZM533.17 210.65H536.39V213.86H533.17ZM552.47 210.65H555.68V213.86H552.47ZM655.39 210.65H658.6V213.86H655.39ZM838.71 210.65H841.93V213.86H838.71ZM1073.5 210.65H1076.72V213.86H1073.5ZM504.22 213.86H520.3V217.08H504.22ZM658.6 213.86H661.82V217.08H658.6ZM841.93 213.86H845.15V217.08H841.93ZM1073.5 213.86H1076.72V217.08H1073.5ZM494.57 217.08H513.87V220.3H494.57ZM655.39 217.08H658.6V220.3H655.39ZM845.15 217.08H848.36V220.3H845.15ZM1070.28 217.08H1073.5V220.3H1070.28ZM491.36 220.3H501.01V223.51H491.36ZM845.15 220.3H851.58V223.51H845.15ZM1067.07 220.3H1070.28V223.51H1067.07ZM491.36 223.51H497.79V226.73H491.36ZM848.36 223.51H851.58V226.73H848.36ZM1063.85 223.51H1067.07V226.73H1063.85ZM491.36 226.73H494.57V229.94H491.36ZM848.36 226.73H851.58V229.94H848.36ZM1063.85 226.73H1067.07V229.94H1063.85ZM491.36 229.94H494.57V233.16H491.36ZM655.39 229.94H658.6V233.16H655.39ZM848.36 229.94H851.58V233.16H848.36ZM1063.85 229.94H1067.07V233.16H1063.85ZM658.6 233.16H661.82V236.38H658.6ZM848.36 233.16H851.58V236.38H848.36ZM488.14 236.38H491.36V239.59H488.14ZM661.82 236.38H665.04V239.59H661.82ZM848.36 236.38H851.58V239.59H848.36ZM1067.07 236.38H1070.28V239.59H1067.07ZM481.71 239.59H488.14V242.81H481.71ZM848.36 239.59H851.58V242.81H848.36ZM1067.07 239.59H1070.28V242.81H1067.07ZM475.28 242.81H481.71V246.03H475.28ZM851.58 242.81H854.79V246.03H851.58ZM472.06 246.03H475.28V249.24H472.06ZM854.79 246.03H861.23V249.24H854.79ZM468.84 249.24H472.06V252.46H468.84ZM677.9 249.24H681.12V252.46H677.9ZM861.23 249.24H867.66V252.46H861.23ZM459.2 252.46H468.84V255.67H459.2ZM681.12 252.46H684.33V255.67H681.12ZM867.66 252.46H870.88V255.67H867.66ZM455.98 255.67H468.84V258.89H455.98ZM870.88 255.67H874.09V258.89H870.88ZM1041.34 255.67H1044.55V258.89H1041.34ZM455.98 258.89H468.84V262.11H455.98ZM687.55 258.89H690.77V262.11H687.55ZM874.09 258.89H877.31V262.11H874.09ZM1031.69 258.89H1041.34V262.11H1031.69ZM459.2 262.11H472.06V265.32H459.2ZM874.09 262.11H877.31V265.32H874.09ZM1025.26 262.11H1031.69V265.32H1025.26ZM462.41 265.32H478.49V268.54H462.41ZM674.68 265.32H677.9V268.54H674.68ZM1022.04 265.32H1025.26V268.54H1022.04ZM475.28 268.54H484.93V271.76H475.28ZM671.47 268.54H674.68V271.76H671.47ZM1015.61 268.54H1022.04V271.76H1015.61ZM481.71 271.76H491.36V274.97H481.71ZM874.09 271.76H877.31V274.97H874.09ZM1009.17 271.76H1015.61V274.97H1009.17ZM497.79 274.97H504.22V278.19H497.79ZM996.31 274.97H1009.17V278.19H996.31ZM507.44 278.19H510.66V281.4H507.44ZM867.66 278.19H870.88V281.4H867.66ZM983.44 278.19H996.31V281.4H983.44ZM677.9 281.4H684.33V284.62H677.9ZM861.23 281.4H867.66V284.62H861.23ZM513.87 284.62H517.09V287.84H513.87ZM684.33 284.62H687.55V287.84H684.33ZM854.79 284.62H861.23V287.84H854.79ZM957.71 284.62H967.36V287.84H957.71ZM973.8 284.62H977.01V287.84H973.8ZM517.09 287.84H520.3V291.05H517.09ZM687.55 287.84H693.98V291.05H687.55ZM854.79 287.84H858.01V291.05H854.79ZM938.42 287.84H957.71V291.05H938.42ZM690.77 291.05H693.98V294.27H690.77ZM858.01 291.05H861.23V294.27H858.01ZM919.12 291.05H938.42V294.27H919.12ZM526.74 294.27H529.95V297.49H526.74ZM687.55 294.27H690.77V297.49H687.55ZM861.23 294.27H874.09V297.49H861.23ZM909.47 294.27H919.12V297.49H909.47ZM533.17 297.49H536.39V300.7H533.17ZM684.33 297.49H687.55V300.7H684.33ZM883.74 297.49H899.82V300.7H883.74ZM684.33 300.7H687.55V303.92H684.33ZM542.82 303.92H546.03V307.13H542.82ZM684.33 303.92H687.55V307.13H684.33ZM684.33 307.13H687.55V310.35H684.33ZM546.03 310.35H549.25V313.57H546.03ZM681.12 310.35H684.33V313.57H681.12ZM677.9 316.78H681.12V320H677.9ZM671.47 323.22H674.68V326.43H671.47ZM552.47 326.43H555.68V329.65H552.47ZM661.82 326.43H665.04V329.65H661.82ZM668.25 326.43H671.47V329.65H668.25ZM555.68 329.65H558.9V332.86H555.68ZM558.9 332.86H571.76V336.08H558.9ZM571.76 336.08H578.2V339.3H571.76ZM578.2 339.3H581.41V342.51H578.2ZM581.41 342.51H584.63V345.73H581.41ZM591.06 345.73H600.71V348.95H591.06ZM616.79 345.73H632.87V348.95H616.79ZM603.93 348.95H607.14V352.16H603.93ZM610.36 348.95H616.79V352.16H610.36ZM607.14 352.16H610.36V355.38H607.14ZM243.71 381.11H250.14V384.32H243.71ZM250.14 384.32H253.36V387.54H250.14ZM140.79 461.51H144V464.73H140.79ZM410.95 464.73H423.82V467.95H410.95ZM134.35 467.95H137.57V471.16H134.35ZM475.28 484.03H484.93V487.24H475.28ZM475.28 487.24H488.14V490.46H475.28ZM481.71 490.46H488.14V493.68H481.71ZM484.93 493.68H488.14V496.89H484.93ZM488.14 496.89H491.36V500.11H488.14ZM378.79 509.76H382.01V512.97H378.79ZM382.01 512.97H385.22V516.19H382.01ZM385.22 516.19H391.65V519.41H385.22ZM414.17 535.49H417.38V538.7H414.17ZM423.82 545.14H433.47V548.35H423.82ZM835.5 776.71H851.58V779.92H835.5Z"/>
<path fill="#31aff5" d="M784.04 120.59H803.33V123.81H784.04ZM838.71 120.59H848.36V123.81H838.71ZM1031.69 120.59H1034.9V123.81H1031.69ZM800.12 123.81H809.77V127.02H800.12ZM838.71 123.81H848.36V127.02H838.71ZM1031.69 123.81H1034.9V127.02H1031.69ZM806.55 127.02H832.28V130.24H806.55ZM838.71 127.02H848.36V130.24H838.71ZM922.34 127.02H935.2V130.24H922.34ZM1034.9 127.02H1038.12V130.24H1034.9ZM806.55 130.24H851.58V133.46H806.55ZM941.63 130.24H951.28V133.46H941.63ZM967.36 130.24H970.58V133.46H967.36ZM1038.12 130.24H1041.34V133.46H1038.12ZM1054.2 130.24H1057.42V133.46H1054.2ZM793.69 133.46H832.28V136.67H793.69ZM841.93 133.46H858.01V136.67H841.93ZM906.25 133.46H909.47V136.67H906.25ZM790.47 136.67H800.12V139.89H790.47ZM851.58 136.67H870.88V139.89H851.58ZM874.09 136.67H883.74V139.89H874.09ZM893.39 136.67H896.61V139.89H893.39ZM793.69 139.89H800.12V143.11H793.69ZM793.69 143.11H800.12V146.32H793.69ZM796.9 146.32H803.33V149.54H796.9ZM1067.07 146.32H1070.28V149.54H1067.07ZM800.12 149.54H803.33V152.75H800.12ZM1067.07 149.54H1070.28V152.75H1067.07ZM800.12 152.75H806.55V155.97H800.12ZM1067.07 152.75H1073.5V155.97H1067.07ZM803.33 155.97H809.77V159.19H803.33ZM1070.28 155.97H1073.5V159.19H1070.28ZM806.55 159.19H809.77V162.4H806.55ZM1070.28 159.19H1073.5V162.4H1070.28ZM809.77 162.4H812.98V165.62H809.77ZM812.98 165.62H816.2V168.84H812.98ZM812.98 168.84H819.42V172.05H812.98ZM816.2 172.05H822.63V175.27H816.2ZM819.42 175.27H822.63V178.48H819.42ZM1070.28 175.27H1073.5V178.48H1070.28ZM822.63 178.48H825.85V181.7H822.63ZM1070.28 178.48H1073.5V181.7H1070.28ZM822.63 181.7H829.06V184.92H822.63ZM1070.28 181.7H1073.5V184.92H1070.28ZM825.85 184.92H829.06V188.13H825.85ZM1070.28 184.92H1073.5V188.13H1070.28ZM829.06 188.13H832.28V191.35H829.06ZM1073.5 188.13H1076.72V191.35H1073.5ZM829.06 191.35H832.28V194.57H829.06ZM1073.5 191.35H1079.93V194.57H1073.5ZM832.28 194.57H835.5V197.78H832.28ZM1073.5 194.57H1079.93V197.78H1073.5ZM587.85 197.78H594.28V201H587.85ZM835.5 197.78H838.71V201H835.5ZM1073.5 197.78H1079.93V201H1073.5ZM578.2 201H581.41V204.21H578.2ZM594.28 201H597.49V204.21H594.28ZM835.5 201H838.71V204.21H835.5ZM1073.5 201H1076.72V204.21H1073.5ZM568.55 204.21H571.76V207.43H568.55ZM626.44 204.21H629.66V207.43H626.44ZM838.71 204.21H841.93V207.43H838.71ZM562.12 207.43H565.33V210.65H562.12ZM639.31 207.43H645.74V210.65H639.31ZM838.71 207.43H841.93V210.65H838.71ZM1070.28 207.43H1073.5V210.65H1070.28ZM523.52 210.65H526.74V213.86H523.52ZM529.95 210.65H533.17V213.86H529.95ZM555.68 210.65H558.9V213.86H555.68ZM645.74 210.65H655.39V213.86H645.74ZM841.93 210.65H845.15V213.86H841.93ZM1070.28 210.65H1073.5V213.86H1070.28ZM520.3 213.86H523.52V217.08H520.3ZM533.17 213.86H552.47V217.08H533.17ZM845.15 213.86H848.36V217.08H845.15ZM1070.28 213.86H1073.5V217.08H1070.28ZM513.87 217.08H520.3V220.3H513.87ZM848.36 217.08H851.58V220.3H848.36ZM1067.07 217.08H1070.28V220.3H1067.07ZM501.01 220.3H517.09V223.51H501.01ZM652.17 220.3H655.39V223.51H652.17ZM851.58 220.3H854.79V223.51H851.58ZM1063.85 220.3H1067.07V223.51H1063.85ZM497.79 223.51H507.44V226.73H497.79ZM652.17 223.51H655.39V226.73H652.17ZM851.58 223.51H854.79V226.73H851.58ZM1060.63 223.51H1063.85V226.73H1060.63ZM494.57 226.73H501.01V229.94H494.57ZM851.58 226.73H854.79V229.94H851.58ZM1060.63 226.73H1063.85V229.94H1060.63ZM494.57 229.94H497.79V233.16H494.57ZM851.58 229.94H854.79V233.16H851.58ZM1060.63 229.94H1063.85V233.16H1060.63ZM491.36 233.16H497.79V236.38H491.36ZM851.58 233.16H854.79V236.38H851.58ZM1063.85 233.16H1067.07V236.38H1063.85ZM491.36 236.38H494.57V239.59H491.36ZM851.58 236.38H854.79V239.59H851.58ZM1063.85 236.38H1067.07V239.59H1063.85ZM488.14 239.59H491.36V242.81H488.14ZM665.04 239.59H668.25V242.81H665.04ZM851.58 239.59H858.01V242.81H851.58ZM1063.85 239.59H1067.07V242.81H1063.85ZM481.71 242.81H488.14V246.03H481.71ZM668.25 242.81H671.47V246.03H668.25ZM854.79 242.81H861.23V246.03H854.79ZM1063.85 242.81H1067.07V246.03H1063.85ZM475.28 246.03H481.71V249.24H475.28ZM671.47 246.03H674.68V249.24H671.47ZM861.23 246.03H867.66V249.24H861.23ZM1057.42 246.03H1063.85V249.24H1057.42ZM472.06 249.24H478.49V252.46H472.06ZM867.66 249.24H870.88V252.46H867.66ZM1054.2 249.24H1057.42V252.46H1054.2ZM468.84 252.46H475.28V255.67H468.84ZM870.88 252.46H874.09V255.67H870.88ZM1044.55 252.46H1050.99V255.67H1044.55ZM468.84 255.67H475.28V258.89H468.84ZM684.33 255.67H687.55V258.89H684.33ZM874.09 255.67H877.31V258.89H874.09ZM1031.69 255.67H1041.34V258.89H1031.69ZM468.84 258.89H478.49V262.11H468.84ZM684.33 258.89H687.55V262.11H684.33ZM877.31 258.89H880.52V262.11H877.31ZM1025.26 258.89H1031.69V262.11H1025.26ZM472.06 262.11H481.71V265.32H472.06ZM681.12 262.11H684.33V265.32H681.12ZM877.31 262.11H880.52V265.32H877.31ZM1022.04 262.11H1025.26V265.32H1022.04ZM478.49 265.32H484.93V268.54H478.49ZM877.31 265.32H880.52V268.54H877.31ZM1018.82 265.32H1022.04V268.54H1018.82ZM484.93 268.54H491.36V271.76H484.93ZM877.31 268.54H880.52V271.76H877.31ZM1012.39 268.54H1015.61V271.76H1012.39ZM491.36 271.76H501.01V274.97H491.36ZM877.31 271.76H880.52V274.97H877.31ZM996.31 271.76H1009.17V274.97H996.31ZM504.22 274.97H507.44V278.19H504.22ZM874.09 274.97H877.31V278.19H874.09ZM986.66 274.97H996.31V278.19H986.66ZM671.47 278.19H674.68V281.4H671.47ZM870.88 278.19H874.09V281.4H870.88ZM510.66 281.4H513.87V284.62H510.66ZM674.68 281.4H677.9V284.62H674.68ZM867.66 281.4H870.88V284.62H867.66ZM681.12 284.62H684.33V287.84H681.12ZM861.23 284.62H867.66V287.84H861.23ZM944.85 284.62H957.71V287.84H944.85ZM684.33 287.84H687.55V291.05H684.33ZM858.01 287.84H864.44V291.05H858.01ZM931.98 287.84H938.42V291.05H931.98ZM523.52 291.05H526.74V294.27H523.52ZM684.33 291.05H690.77V294.27H684.33ZM861.23 291.05H870.88V294.27H861.23ZM915.9 291.05H919.12V294.27H915.9ZM684.33 294.27H687.55V297.49H684.33ZM906.25 294.27H909.47V297.49H906.25ZM681.12 297.49H684.33V300.7H681.12ZM880.52 297.49H883.74V300.7H880.52ZM539.6 300.7H542.82V303.92H539.6ZM681.12 300.7H684.33V303.92H681.12ZM681.12 303.92H684.33V307.13H681.12ZM681.12 307.13H684.33V310.35H681.12ZM549.25 316.78H552.47V320H549.25ZM674.68 316.78H677.9V320H674.68ZM552.47 320H555.68V323.22H552.47ZM671.47 320H674.68V323.22H671.47ZM552.47 323.22H555.68V326.43H552.47ZM555.68 326.43H558.9V329.65H555.68ZM658.6 326.43H661.82V329.65H658.6ZM652.17 329.65H655.39V332.86H652.17ZM578.2 336.08H581.41V339.3H578.2ZM645.74 336.08H648.95V339.3H645.74ZM581.41 339.3H584.63V342.51H581.41ZM642.52 339.3H645.74V342.51H642.52ZM584.63 342.51H594.28V345.73H584.63ZM620.01 342.51H626.44V345.73H620.01ZM632.87 342.51H639.31V345.73H632.87ZM600.71 345.73H616.79V348.95H600.71ZM607.14 348.95H610.36V352.16H607.14ZM246.92 384.32H250.14V387.54H246.92ZM234.06 387.54H237.27V390.76H234.06ZM243.71 387.54H246.92V390.76H243.71ZM243.71 390.76H246.92V393.97H243.71ZM224.41 393.97H230.84V397.19H224.41ZM243.71 393.97H246.92V397.19H243.71ZM237.27 403.62H240.49V406.84H237.27ZM237.27 406.84H240.49V410.05H237.27ZM150.44 455.08H153.65V458.3H150.44ZM137.57 461.51H140.79V464.73H137.57ZM134.35 464.73H137.57V467.95H134.35ZM401.3 467.95H407.74V471.16H401.3ZM430.25 467.95H433.47V471.16H430.25ZM385.22 503.33H388.44V506.54H385.22ZM391.65 516.19H398.09V519.41H391.65ZM414.17 532.27H417.38V535.49H414.17ZM417.38 538.7H420.6V541.92H417.38ZM420.6 541.92H423.82V545.14H420.6Z"/>
<path fill="#2fb2f4" d="M803.33 120.59H812.98V123.81H803.33ZM832.28 120.59H838.71V123.81H832.28ZM1028.47 120.59H1031.69V123.81H1028.47ZM809.77 123.81H838.71V127.02H809.77ZM1028.47 123.81H1031.69V127.02H1028.47ZM832.28 127.02H838.71V130.24H832.28ZM935.2 127.02H938.42V130.24H935.2ZM986.66 127.02H989.88V130.24H986.66ZM1028.47 127.02H1034.9V130.24H1028.47ZM919.12 130.24H922.34V133.46H919.12ZM938.42 130.24H941.63V133.46H938.42ZM970.58 130.24H983.44V133.46H970.58ZM1031.69 130.24H1038.12V133.46H1031.69ZM832.28 133.46H841.93V136.67H832.28ZM909.47 133.46H919.12V136.67H909.47ZM1034.9 133.46H1054.2V136.67H1034.9ZM1057.42 133.46H1063.85V136.67H1057.42ZM800.12 136.67H851.58V139.89H800.12ZM896.61 136.67H903.04V139.89H896.61ZM1063.85 136.67H1067.07V139.89H1063.85ZM800.12 139.89H809.77V143.11H800.12ZM838.71 139.89H874.09V143.11H838.71ZM883.74 139.89H890.17V143.11H883.74ZM1063.85 139.89H1067.07V143.11H1063.85ZM800.12 143.11H809.77V146.32H800.12ZM1063.85 143.11H1067.07V146.32H1063.85ZM803.33 146.32H809.77V149.54H803.33ZM1063.85 146.32H1067.07V149.54H1063.85ZM803.33 149.54H812.98V152.75H803.33ZM1063.85 149.54H1067.07V152.75H1063.85ZM806.55 152.75H812.98V155.97H806.55ZM809.77 155.97H816.2V159.19H809.77ZM1067.07 155.97H1070.28V159.19H1067.07ZM809.77 159.19H816.2V162.4H809.77ZM1067.07 159.19H1070.28V162.4H1067.07ZM812.98 162.4H819.42V165.62H812.98ZM1067.07 162.4H1070.28V165.62H1067.07ZM816.2 165.62H822.63V168.84H816.2ZM1067.07 165.62H1070.28V168.84H1067.07ZM819.42 168.84H822.63V172.05H819.42ZM1067.07 168.84H1070.28V172.05H1067.07ZM822.63 172.05H825.85V175.27H822.63ZM1067.07 172.05H1070.28V175.27H1067.07ZM822.63 175.27H829.06V178.48H822.63ZM1067.07 175.27H1070.28V178.48H1067.07ZM825.85 178.48H832.28V181.7H825.85ZM1067.07 178.48H1070.28V181.7H1067.07ZM829.06 181.7H832.28V184.92H829.06ZM1067.07 181.7H1070.28V184.92H1067.07ZM829.06 184.92H835.5V188.13H829.06ZM832.28 188.13H835.5V191.35H832.28ZM1070.28 188.13H1073.5V191.35H1070.28ZM832.28 191.35H838.71V194.57H832.28ZM1070.28 191.35H1073.5V194.57H1070.28ZM835.5 194.57H838.71V197.78H835.5ZM1070.28 194.57H1073.5V197.78H1070.28ZM838.71 197.78H841.93V201H838.71ZM1070.28 197.78H1073.5V201H1070.28ZM581.41 201H587.85V204.21H581.41ZM838.71 201H841.93V204.21H838.71ZM1070.28 201H1073.5V204.21H1070.28ZM571.76 204.21H578.2V207.43H571.76ZM597.49 204.21H626.44V207.43H597.49ZM841.93 204.21H845.15V207.43H841.93ZM1070.28 204.21H1073.5V207.43H1070.28ZM565.33 207.43H568.55V210.65H565.33ZM629.66 207.43H639.31V210.65H629.66ZM841.93 207.43H848.36V210.65H841.93ZM526.74 210.65H529.95V213.86H526.74ZM558.9 210.65H562.12V213.86H558.9ZM642.52 210.65H645.74V213.86H642.52ZM845.15 210.65H854.79V213.86H845.15ZM1067.07 210.65H1070.28V213.86H1067.07ZM523.52 213.86H526.74V217.08H523.52ZM529.95 213.86H533.17V217.08H529.95ZM552.47 213.86H555.68V217.08H552.47ZM645.74 213.86H658.6V217.08H645.74ZM848.36 213.86H858.01V217.08H848.36ZM1067.07 213.86H1070.28V217.08H1067.07ZM520.3 217.08H523.52V220.3H520.3ZM533.17 217.08H552.47V220.3H533.17ZM652.17 217.08H655.39V220.3H652.17ZM851.58 217.08H858.01V220.3H851.58ZM1063.85 217.08H1067.07V220.3H1063.85ZM517.09 220.3H523.52V223.51H517.09ZM854.79 220.3H858.01V223.51H854.79ZM1060.63 220.3H1063.85V223.51H1060.63ZM507.44 223.51H520.3V226.73H507.44ZM854.79 223.51H858.01V226.73H854.79ZM1057.42 223.51H1060.63V226.73H1057.42ZM501.01 226.73H513.87V229.94H501.01ZM652.17 226.73H655.39V229.94H652.17ZM854.79 226.73H858.01V229.94H854.79ZM1057.42 226.73H1060.63V229.94H1057.42ZM497.79 229.94H507.44V233.16H497.79ZM854.79 229.94H858.01V233.16H854.79ZM1057.42 229.94H1060.63V233.16H1057.42ZM497.79 233.16H504.22V236.38H497.79ZM655.39 233.16H658.6V236.38H655.39ZM854.79 233.16H858.01V236.38H854.79ZM1060.63 233.16H1063.85V236.38H1060.63ZM494.57 236.38H501.01V239.59H494.57ZM854.79 236.38H861.23V239.59H854.79ZM491.36 239.59H497.79V242.81H491.36ZM858.01 239.59H864.44V242.81H858.01ZM488.14 242.81H494.57V246.03H488.14ZM861.23 242.81H867.66V246.03H861.23ZM1060.63 242.81H1063.85V246.03H1060.63ZM481.71 246.03H488.14V249.24H481.71ZM867.66 246.03H870.88V249.24H867.66ZM1054.2 246.03H1057.42V249.24H1054.2ZM478.49 249.24H484.93V252.46H478.49ZM674.68 249.24H677.9V252.46H674.68ZM870.88 249.24H877.31V252.46H870.88ZM1047.77 249.24H1054.2V252.46H1047.77ZM475.28 252.46H481.71V255.67H475.28ZM677.9 252.46H681.12V255.67H677.9ZM874.09 252.46H877.31V255.67H874.09ZM1031.69 252.46H1044.55V255.67H1031.69ZM475.28 255.67H484.93V258.89H475.28ZM681.12 255.67H684.33V258.89H681.12ZM877.31 255.67H880.52V258.89H877.31ZM1025.26 255.67H1031.69V258.89H1025.26ZM478.49 258.89H484.93V262.11H478.49ZM880.52 258.89H883.74V262.11H880.52ZM1022.04 258.89H1025.26V262.11H1022.04ZM481.71 262.11H488.14V265.32H481.71ZM674.68 262.11H681.12V265.32H674.68ZM880.52 262.11H883.74V265.32H880.52ZM1018.82 262.11H1022.04V265.32H1018.82ZM484.93 265.32H494.57V268.54H484.93ZM671.47 265.32H674.68V268.54H671.47ZM880.52 265.32H883.74V268.54H880.52ZM1015.61 265.32H1018.82V268.54H1015.61ZM491.36 268.54H501.01V271.76H491.36ZM668.25 268.54H671.47V271.76H668.25ZM880.52 268.54H883.74V271.76H880.52ZM996.31 268.54H1012.39V271.76H996.31ZM501.01 271.76H507.44V274.97H501.01ZM668.25 271.76H671.47V274.97H668.25ZM989.88 271.76H996.31V274.97H989.88ZM507.44 274.97H510.66V278.19H507.44ZM668.25 274.97H671.47V278.19H668.25ZM877.31 274.97H880.52V278.19H877.31ZM983.44 274.97H986.66V278.19H983.44ZM510.66 278.19H513.87V281.4H510.66ZM668.25 278.19H671.47V281.4H668.25ZM874.09 278.19H877.31V281.4H874.09ZM980.23 278.19H983.44V281.4H980.23ZM513.87 281.4H517.09V284.62H513.87ZM671.47 281.4H674.68V284.62H671.47ZM870.88 281.4H874.09V284.62H870.88ZM951.28 281.4H970.58V284.62H951.28ZM977.01 281.4H980.23V284.62H977.01ZM517.09 284.62H520.3V287.84H517.09ZM674.68 284.62H681.12V287.84H674.68ZM867.66 284.62H870.88V287.84H867.66ZM935.2 284.62H944.85V287.84H935.2ZM520.3 287.84H523.52V291.05H520.3ZM677.9 287.84H684.33V291.05H677.9ZM864.44 287.84H870.88V291.05H864.44ZM919.12 287.84H931.98V291.05H919.12ZM526.74 291.05H529.95V294.27H526.74ZM681.12 291.05H684.33V294.27H681.12ZM870.88 291.05H874.09V294.27H870.88ZM909.47 291.05H915.9V294.27H909.47ZM529.95 294.27H533.17V297.49H529.95ZM677.9 294.27H684.33V297.49H677.9ZM874.09 294.27H880.52V297.49H874.09ZM903.04 294.27H906.25V297.49H903.04ZM677.9 297.49H681.12V300.7H677.9ZM546.03 307.13H549.25V310.35H546.03ZM549.25 313.57H552.47V316.78H549.25ZM677.9 313.57H681.12V316.78H677.9ZM552.47 316.78H555.68V320H552.47ZM555.68 323.22H558.9V326.43H555.68ZM652.17 326.43H658.6V329.65H652.17ZM558.9 329.65H574.98V332.86H558.9ZM648.95 329.65H652.17V332.86H648.95ZM571.76 332.86H581.41V336.08H571.76ZM645.74 332.86H652.17V336.08H645.74ZM581.41 336.08H584.63V339.3H581.41ZM642.52 336.08H645.74V339.3H642.52ZM584.63 339.3H594.28V342.51H584.63ZM636.09 339.3H642.52V342.51H636.09ZM594.28 342.51H620.01V345.73H594.28ZM626.44 342.51H632.87V345.73H626.44ZM240.49 384.32H243.71V387.54H240.49ZM237.27 387.54H240.49V390.76H237.27ZM182.6 390.76H214.76V393.97H182.6ZM234.06 390.76H237.27V393.97H234.06ZM169.73 393.97H179.38V397.19H169.73ZM217.98 393.97H224.41V397.19H217.98ZM230.84 393.97H234.06V397.19H230.84ZM240.49 397.19H243.71V400.41H240.49ZM163.3 400.41H166.52V403.62H163.3ZM237.27 400.41H240.49V403.62H237.27ZM156.87 403.62H160.08V406.84H156.87ZM217.98 422.92H221.19V426.14H217.98ZM208.33 429.35H211.54V432.57H208.33ZM198.68 435.78H201.9V439H198.68ZM192.25 439H195.46V442.22H192.25ZM179.38 445.43H185.81V448.65H179.38ZM166.52 448.65H176.17V451.87H166.52ZM156.87 451.87H163.3V455.08H156.87ZM147.22 455.08H150.44V458.3H147.22ZM144 458.3H147.22V461.51H144ZM433.47 471.16H436.68V474.38H433.47ZM378.79 506.54H385.22V509.76H378.79ZM382.01 509.76H385.22V512.97H382.01ZM385.22 512.97H388.44V516.19H385.22ZM398.09 516.19H401.3V519.41H398.09ZM414.17 529.06H417.38V532.27H414.17ZM433.47 535.49H436.68V538.7H433.47ZM436.68 538.7H443.11V541.92H436.68ZM430.25 541.92H433.47V545.14H430.25Z"/>
<path fill="#2cb7f0" d="M812.98 120.59H832.28V123.81H812.98ZM989.88 120.59H993.09V123.81H989.88ZM1022.04 120.59H1028.47V123.81H1022.04ZM989.88 123.81H993.09V127.02H989.88ZM1022.04 123.81H1028.47V127.02H1022.04ZM1022.04 127.02H1028.47V130.24H1022.04ZM922.34 130.24H931.98V133.46H922.34ZM983.44 130.24H986.66V133.46H983.44ZM1025.26 130.24H1031.69V133.46H1025.26ZM919.12 133.46H922.34V136.67H919.12ZM941.63 133.46H967.36V136.67H941.63ZM1025.26 133.46H1034.9V136.67H1025.26ZM1054.2 133.46H1057.42V136.67H1054.2ZM903.04 136.67H906.25V139.89H903.04ZM1028.47 136.67H1050.99V139.89H1028.47ZM1060.63 136.67H1063.85V139.89H1060.63ZM809.77 139.89H838.71V143.11H809.77ZM874.09 139.89H883.74V143.11H874.09ZM890.17 139.89H893.39V143.11H890.17ZM1028.47 139.89H1041.34V143.11H1028.47ZM809.77 143.11H870.88V146.32H809.77ZM1031.69 143.11H1034.9V146.32H1031.69ZM809.77 146.32H858.01V149.54H809.77ZM812.98 149.54H848.36V152.75H812.98ZM812.98 152.75H848.36V155.97H812.98ZM1063.85 152.75H1067.07V155.97H1063.85ZM816.2 155.97H845.15V159.19H816.2ZM1063.85 155.97H1067.07V159.19H1063.85ZM816.2 159.19H845.15V162.4H816.2ZM1063.85 159.19H1067.07V162.4H1063.85ZM819.42 162.4H845.15V165.62H819.42ZM1063.85 162.4H1067.07V165.62H1063.85ZM822.63 165.62H845.15V168.84H822.63ZM1063.85 165.62H1067.07V168.84H1063.85ZM822.63 168.84H845.15V172.05H822.63ZM1063.85 168.84H1067.07V172.05H1063.85ZM825.85 172.05H845.15V175.27H825.85ZM1063.85 172.05H1067.07V175.27H1063.85ZM829.06 175.27H845.15V178.48H829.06ZM832.28 178.48H845.15V181.7H832.28ZM832.28 181.7H845.15V184.92H832.28ZM835.5 184.92H845.15V188.13H835.5ZM1067.07 184.92H1070.28V188.13H1067.07ZM835.5 188.13H848.36V191.35H835.5ZM1067.07 188.13H1070.28V191.35H1067.07ZM838.71 191.35H848.36V194.57H838.71ZM1067.07 191.35H1070.28V194.57H1067.07ZM838.71 194.57H851.58V197.78H838.71ZM1067.07 194.57H1070.28V197.78H1067.07ZM841.93 197.78H854.79V201H841.93ZM1067.07 197.78H1070.28V201H1067.07ZM587.85 201H594.28V204.21H587.85ZM841.93 201H858.01V204.21H841.93ZM1067.07 201H1070.28V204.21H1067.07ZM578.2 204.21H581.41V207.43H578.2ZM594.28 204.21H597.49V207.43H594.28ZM845.15 204.21H858.01V207.43H845.15ZM1067.07 204.21H1070.28V207.43H1067.07ZM568.55 207.43H571.76V210.65H568.55ZM626.44 207.43H629.66V210.65H626.44ZM848.36 207.43H861.23V210.65H848.36ZM1067.07 207.43H1070.28V210.65H1067.07ZM562.12 210.65H565.33V213.86H562.12ZM632.87 210.65H642.52V213.86H632.87ZM854.79 210.65H861.23V213.86H854.79ZM526.74 213.86H529.95V217.08H526.74ZM555.68 213.86H562.12V217.08H555.68ZM642.52 213.86H645.74V217.08H642.52ZM858.01 213.86H861.23V217.08H858.01ZM1063.85 213.86H1067.07V217.08H1063.85ZM523.52 217.08H533.17V220.3H523.52ZM552.47 217.08H555.68V220.3H552.47ZM642.52 217.08H652.17V220.3H642.52ZM858.01 217.08H861.23V220.3H858.01ZM1060.63 217.08H1063.85V220.3H1060.63ZM523.52 220.3H552.47V223.51H523.52ZM645.74 220.3H652.17V223.51H645.74ZM858.01 220.3H861.23V223.51H858.01ZM1057.42 220.3H1060.63V223.51H1057.42ZM520.3 223.51H529.95V226.73H520.3ZM648.95 223.51H652.17V226.73H648.95ZM858.01 223.51H861.23V226.73H858.01ZM513.87 226.73H523.52V229.94H513.87ZM858.01 226.73H861.23V229.94H858.01ZM1054.2 226.73H1057.42V229.94H1054.2ZM507.44 229.94H520.3V233.16H507.44ZM652.17 229.94H655.39V233.16H652.17ZM858.01 229.94H861.23V233.16H858.01ZM1054.2 229.94H1057.42V233.16H1054.2ZM504.22 233.16H513.87V236.38H504.22ZM858.01 233.16H861.23V236.38H858.01ZM1057.42 233.16H1060.63V236.38H1057.42ZM501.01 236.38H507.44V239.59H501.01ZM658.6 236.38H661.82V239.59H658.6ZM861.23 236.38H864.44V239.59H861.23ZM1060.63 236.38H1063.85V239.59H1060.63ZM497.79 239.59H504.22V242.81H497.79ZM661.82 239.59H665.04V242.81H661.82ZM864.44 239.59H867.66V242.81H864.44ZM1060.63 239.59H1063.85V242.81H1060.63ZM494.57 242.81H501.01V246.03H494.57ZM665.04 242.81H668.25V246.03H665.04ZM867.66 242.81H874.09V246.03H867.66ZM1054.2 242.81H1060.63V246.03H1054.2ZM488.14 246.03H497.79V249.24H488.14ZM668.25 246.03H671.47V249.24H668.25ZM870.88 246.03H877.31V249.24H870.88ZM1034.9 246.03H1041.34V249.24H1034.9ZM1047.77 246.03H1054.2V249.24H1047.77ZM484.93 249.24H494.57V252.46H484.93ZM671.47 249.24H674.68V252.46H671.47ZM877.31 249.24H880.52V252.46H877.31ZM1031.69 249.24H1047.77V252.46H1031.69ZM481.71 252.46H491.36V255.67H481.71ZM877.31 252.46H880.52V255.67H877.31ZM1025.26 252.46H1031.69V255.67H1025.26ZM484.93 255.67H491.36V258.89H484.93ZM677.9 255.67H681.12V258.89H677.9ZM880.52 255.67H883.74V258.89H880.52ZM1022.04 255.67H1025.26V258.89H1022.04ZM484.93 258.89H497.79V262.11H484.93ZM681.12 258.89H684.33V262.11H681.12ZM883.74 258.89H886.96V262.11H883.74ZM1018.82 258.89H1022.04V262.11H1018.82ZM488.14 262.11H501.01V265.32H488.14ZM883.74 262.11H886.96V265.32H883.74ZM1015.61 262.11H1018.82V265.32H1015.61ZM494.57 265.32H504.22V268.54H494.57ZM883.74 265.32H886.96V268.54H883.74ZM996.31 265.32H1005.96V268.54H996.31ZM1012.39 265.32H1015.61V268.54H1012.39ZM501.01 268.54H507.44V271.76H501.01ZM883.74 268.54H886.96V271.76H883.74ZM989.88 268.54H996.31V271.76H989.88ZM507.44 271.76H510.66V274.97H507.44ZM880.52 271.76H883.74V274.97H880.52ZM983.44 271.76H989.88V274.97H983.44ZM510.66 274.97H513.87V278.19H510.66ZM665.04 274.97H668.25V278.19H665.04ZM980.23 274.97H983.44V278.19H980.23ZM665.04 278.19H668.25V281.4H665.04ZM954.5 278.19H964.15V281.4H954.5ZM668.25 281.4H671.47V284.62H668.25ZM874.09 281.4H877.31V284.62H874.09ZM938.42 281.4H951.28V284.62H938.42ZM970.58 281.4H977.01V284.62H970.58ZM520.3 284.62H523.52V287.84H520.3ZM668.25 284.62H674.68V287.84H668.25ZM870.88 284.62H874.09V287.84H870.88ZM925.55 284.62H935.2V287.84H925.55ZM523.52 287.84H526.74V291.05H523.52ZM671.47 287.84H677.9V291.05H671.47ZM870.88 287.84H874.09V291.05H870.88ZM912.69 287.84H919.12V291.05H912.69ZM674.68 291.05H681.12V294.27H674.68ZM874.09 291.05H877.31V294.27H874.09ZM906.25 291.05H909.47V294.27H906.25ZM674.68 294.27H677.9V297.49H674.68ZM899.82 294.27H903.04V297.49H899.82ZM536.39 297.49H539.6V300.7H536.39ZM542.82 300.7H546.03V303.92H542.82ZM677.9 300.7H681.12V303.92H677.9ZM677.9 303.92H681.12V307.13H677.9ZM677.9 307.13H681.12V310.35H677.9ZM549.25 310.35H552.47V313.57H549.25ZM677.9 310.35H681.12V313.57H677.9ZM674.68 313.57H677.9V316.78H674.68ZM671.47 316.78H674.68V320H671.47ZM555.68 320H558.9V323.22H555.68ZM558.9 323.22H562.12V326.43H558.9ZM658.6 323.22H671.47V326.43H658.6ZM558.9 326.43H571.76V329.65H558.9ZM648.95 326.43H652.17V329.65H648.95ZM574.98 329.65H581.41V332.86H574.98ZM645.74 329.65H648.95V332.86H645.74ZM581.41 332.86H587.85V336.08H581.41ZM642.52 332.86H645.74V336.08H642.52ZM584.63 336.08H594.28V339.3H584.63ZM636.09 336.08H642.52V339.3H636.09ZM594.28 339.3H636.09V342.51H594.28ZM243.71 384.32H246.92V387.54H243.71ZM179.38 393.97H182.6V397.19H179.38ZM214.76 393.97H217.98V397.19H214.76ZM169.73 397.19H172.95V400.41H169.73ZM166.52 400.41H169.73V403.62H166.52ZM160.08 403.62H163.3V406.84H160.08ZM144 406.84H153.65V410.05H144ZM234.06 406.84H237.27V410.05H234.06ZM230.84 410.05H234.06V413.27H230.84ZM227.63 413.27H230.84V416.49H227.63ZM224.41 416.49H227.63V419.7H224.41ZM221.19 419.7H224.41V422.92H221.19ZM214.76 422.92H217.98V426.14H214.76ZM211.54 426.14H214.76V429.35H211.54ZM205.11 429.35H208.33V432.57H205.11ZM201.9 432.57H205.11V435.78H201.9ZM195.46 435.78H198.68V439H195.46ZM189.03 439H192.25V442.22H189.03ZM185.81 442.22H189.03V445.43H185.81ZM176.17 445.43H179.38V448.65H176.17ZM163.3 448.65H166.52V451.87H163.3ZM153.65 451.87H156.87V455.08H153.65ZM134.35 461.51H137.57V464.73H134.35ZM407.74 467.95H410.95V471.16H407.74ZM423.82 467.95H430.25V471.16H423.82ZM436.68 474.38H439.9V477.6H436.68ZM439.9 477.6H443.11V480.81H439.9ZM436.68 493.68H439.9V496.89H436.68ZM385.22 506.54H388.44V509.76H385.22ZM388.44 512.97H391.65V516.19H388.44ZM404.52 519.41H407.74V522.62H404.52ZM427.03 529.06H430.25V532.27H427.03ZM427.03 532.27H430.25V535.49H427.03ZM430.25 535.49H433.47V538.7H430.25ZM436.68 535.49H443.11V538.7H436.68ZM420.6 538.7H423.82V541.92H420.6ZM433.47 538.7H436.68V541.92H433.47ZM423.82 541.92H427.03V545.14H423.82Z"/>
<path fill="#2ab9ee" d="M993.09 120.59H996.31V123.81H993.09ZM1018.82 120.59H1022.04V123.81H1018.82ZM1018.82 123.81H1022.04V127.02H1018.82ZM989.88 127.02H993.09V130.24H989.88ZM1018.82 127.02H1022.04V130.24H1018.82ZM931.98 130.24H938.42V133.46H931.98ZM986.66 130.24H989.88V133.46H986.66ZM1018.82 130.24H1025.26V133.46H1018.82ZM922.34 133.46H931.98V136.67H922.34ZM935.2 133.46H941.63V136.67H935.2ZM967.36 133.46H973.8V136.67H967.36ZM1018.82 133.46H1025.26V136.67H1018.82ZM906.25 136.67H915.9V139.89H906.25ZM1018.82 136.67H1028.47V139.89H1018.82ZM1050.99 136.67H1060.63V139.89H1050.99ZM893.39 139.89H896.61V143.11H893.39ZM1015.61 139.89H1028.47V143.11H1015.61ZM1041.34 139.89H1050.99V143.11H1041.34ZM1060.63 139.89H1063.85V143.11H1060.63ZM870.88 143.11H886.96V146.32H870.88ZM1034.9 143.11H1044.55V146.32H1034.9ZM1060.63 143.11H1063.85V146.32H1060.63ZM858.01 146.32H874.09V149.54H858.01ZM1038.12 146.32H1041.34V149.54H1038.12ZM1060.63 146.32H1063.85V149.54H1060.63ZM848.36 149.54H867.66V152.75H848.36ZM1060.63 149.54H1063.85V152.75H1060.63ZM848.36 152.75H858.01V155.97H848.36ZM1005.96 152.75H1025.26V155.97H1005.96ZM1060.63 152.75H1063.85V155.97H1060.63ZM845.15 155.97H854.79V159.19H845.15ZM1005.96 155.97H1028.47V159.19H1005.96ZM1060.63 155.97H1063.85V159.19H1060.63ZM845.15 159.19H854.79V162.4H845.15ZM1009.17 159.19H1018.82V162.4H1009.17ZM845.15 162.4H854.79V165.62H845.15ZM845.15 165.62H854.79V168.84H845.15ZM845.15 168.84H854.79V172.05H845.15ZM845.15 172.05H854.79V175.27H845.15ZM845.15 175.27H854.79V178.48H845.15ZM1063.85 175.27H1067.07V178.48H1063.85ZM845.15 178.48H854.79V181.7H845.15ZM1063.85 178.48H1067.07V181.7H1063.85ZM845.15 181.7H854.79V184.92H845.15ZM1063.85 181.7H1067.07V184.92H1063.85ZM845.15 184.92H858.01V188.13H845.15ZM1063.85 184.92H1067.07V188.13H1063.85ZM848.36 188.13H861.23V191.35H848.36ZM1063.85 188.13H1067.07V191.35H1063.85ZM848.36 191.35H861.23V194.57H848.36ZM1063.85 191.35H1067.07V194.57H1063.85ZM851.58 194.57H864.44V197.78H851.58ZM1063.85 194.57H1067.07V197.78H1063.85ZM854.79 197.78H864.44V201H854.79ZM858.01 201H864.44V204.21H858.01ZM581.41 204.21H594.28V207.43H581.41ZM858.01 204.21H864.44V207.43H858.01ZM1063.85 204.21H1067.07V207.43H1063.85ZM571.76 207.43H581.41V210.65H571.76ZM594.28 207.43H626.44V210.65H594.28ZM861.23 207.43H864.44V210.65H861.23ZM1063.85 207.43H1067.07V210.65H1063.85ZM565.33 210.65H571.76V213.86H565.33ZM626.44 210.65H632.87V213.86H626.44ZM861.23 210.65H864.44V213.86H861.23ZM1063.85 210.65H1067.07V213.86H1063.85ZM562.12 213.86H565.33V217.08H562.12ZM632.87 213.86H642.52V217.08H632.87ZM861.23 213.86H864.44V217.08H861.23ZM1060.63 213.86H1063.85V217.08H1060.63ZM555.68 217.08H562.12V220.3H555.68ZM639.31 217.08H642.52V220.3H639.31ZM861.23 217.08H864.44V220.3H861.23ZM1057.42 217.08H1060.63V220.3H1057.42ZM552.47 220.3H558.9V223.51H552.47ZM642.52 220.3H645.74V223.51H642.52ZM861.23 220.3H864.44V223.51H861.23ZM529.95 223.51H552.47V226.73H529.95ZM645.74 223.51H648.95V226.73H645.74ZM861.23 223.51H864.44V226.73H861.23ZM1054.2 223.51H1057.42V226.73H1054.2ZM523.52 226.73H539.6V229.94H523.52ZM648.95 226.73H652.17V229.94H648.95ZM861.23 226.73H864.44V229.94H861.23ZM1050.99 226.73H1054.2V229.94H1050.99ZM520.3 229.94H533.17V233.16H520.3ZM861.23 229.94H864.44V233.16H861.23ZM1047.77 229.94H1054.2V233.16H1047.77ZM513.87 233.16H526.74V236.38H513.87ZM652.17 233.16H655.39V236.38H652.17ZM861.23 233.16H867.66V236.38H861.23ZM1044.55 233.16H1057.42V236.38H1044.55ZM507.44 236.38H520.3V239.59H507.44ZM864.44 236.38H870.88V239.59H864.44ZM1041.34 236.38H1060.63V239.59H1041.34ZM504.22 239.59H513.87V242.81H504.22ZM867.66 239.59H874.09V242.81H867.66ZM1038.12 239.59H1060.63V242.81H1038.12ZM501.01 242.81H510.66V246.03H501.01ZM874.09 242.81H877.31V246.03H874.09ZM1034.9 242.81H1054.2V246.03H1034.9ZM497.79 246.03H507.44V249.24H497.79ZM877.31 246.03H880.52V249.24H877.31ZM1031.69 246.03H1034.9V249.24H1031.69ZM1041.34 246.03H1047.77V249.24H1041.34ZM494.57 249.24H504.22V252.46H494.57ZM880.52 249.24H883.74V252.46H880.52ZM1025.26 249.24H1031.69V252.46H1025.26ZM491.36 252.46H504.22V255.67H491.36ZM674.68 252.46H677.9V255.67H674.68ZM880.52 252.46H883.74V255.67H880.52ZM1022.04 252.46H1025.26V255.67H1022.04ZM491.36 255.67H504.22V258.89H491.36ZM883.74 255.67H886.96V258.89H883.74ZM1015.61 255.67H1022.04V258.89H1015.61ZM497.79 258.89H507.44V262.11H497.79ZM674.68 258.89H681.12V262.11H674.68ZM886.96 258.89H890.17V262.11H886.96ZM1015.61 258.89H1018.82V262.11H1015.61ZM501.01 262.11H507.44V265.32H501.01ZM671.47 262.11H674.68V265.32H671.47ZM886.96 262.11H890.17V265.32H886.96ZM1012.39 262.11H1015.61V265.32H1012.39ZM504.22 265.32H507.44V268.54H504.22ZM668.25 265.32H671.47V268.54H668.25ZM886.96 265.32H890.17V268.54H886.96ZM989.88 265.32H996.31V268.54H989.88ZM1005.96 265.32H1012.39V268.54H1005.96ZM507.44 268.54H510.66V271.76H507.44ZM665.04 268.54H668.25V271.76H665.04ZM886.96 268.54H890.17V271.76H886.96ZM983.44 268.54H989.88V271.76H983.44ZM510.66 271.76H513.87V274.97H510.66ZM665.04 271.76H668.25V274.97H665.04ZM883.74 271.76H886.96V274.97H883.74ZM980.23 271.76H983.44V274.97H980.23ZM661.82 274.97H665.04V278.19H661.82ZM880.52 274.97H883.74V278.19H880.52ZM957.71 274.97H964.15V278.19H957.71ZM513.87 278.19H517.09V281.4H513.87ZM661.82 278.19H665.04V281.4H661.82ZM877.31 278.19H880.52V281.4H877.31ZM944.85 278.19H954.5V281.4H944.85ZM964.15 278.19H970.58V281.4H964.15ZM977.01 278.19H980.23V281.4H977.01ZM517.09 281.4H520.3V284.62H517.09ZM661.82 281.4H668.25V284.62H661.82ZM931.98 281.4H938.42V284.62H931.98ZM665.04 284.62H668.25V287.84H665.04ZM874.09 284.62H877.31V287.84H874.09ZM915.9 284.62H925.55V287.84H915.9ZM668.25 287.84H671.47V291.05H668.25ZM874.09 287.84H877.31V291.05H874.09ZM909.47 287.84H912.69V291.05H909.47ZM529.95 291.05H533.17V294.27H529.95ZM671.47 291.05H674.68V294.27H671.47ZM877.31 291.05H880.52V294.27H877.31ZM533.17 294.27H536.39V297.49H533.17ZM671.47 294.27H674.68V297.49H671.47ZM880.52 294.27H899.82V297.49H880.52ZM539.6 297.49H542.82V300.7H539.6ZM674.68 297.49H677.9V300.7H674.68ZM674.68 300.7H677.9V303.92H674.68ZM546.03 303.92H549.25V307.13H546.03ZM549.25 307.13H552.47V310.35H549.25ZM552.47 313.57H555.68V316.78H552.47ZM555.68 316.78H558.9V320H555.68ZM558.9 320H562.12V323.22H558.9ZM668.25 320H671.47V323.22H668.25ZM562.12 323.22H568.55V326.43H562.12ZM648.95 323.22H658.6V326.43H648.95ZM571.76 326.43H578.2V329.65H571.76ZM645.74 326.43H648.95V329.65H645.74ZM581.41 329.65H584.63V332.86H581.41ZM642.52 329.65H645.74V332.86H642.52ZM587.85 332.86H591.06V336.08H587.85ZM636.09 332.86H642.52V336.08H636.09ZM594.28 336.08H607.14V339.3H594.28ZM610.36 336.08H636.09V339.3H610.36ZM240.49 387.54H243.71V390.76H240.49ZM240.49 393.97H243.71V397.19H240.49ZM153.65 406.84H156.87V410.05H153.65ZM144 455.08H147.22V458.3H144ZM140.79 458.3H144V461.51H140.79ZM420.6 467.95H423.82V471.16H420.6ZM430.25 471.16H433.47V474.38H430.25ZM443.11 480.81H446.33V484.03H443.11ZM443.11 484.03H446.33V487.24H443.11ZM439.9 487.24H443.11V490.46H439.9ZM436.68 490.46H439.9V493.68H436.68ZM388.44 503.33H391.65V506.54H388.44ZM443.11 503.33H446.33V506.54H443.11ZM385.22 509.76H388.44V512.97H385.22ZM391.65 512.97H394.87V516.19H391.65ZM401.3 516.19H404.52V519.41H401.3ZM433.47 519.41H439.9V522.62H433.47ZM427.03 525.84H430.25V529.06H427.03ZM417.38 535.49H420.6V538.7H417.38ZM427.03 541.92H430.25V545.14H427.03Z"/>
<path fill="#28bceb" d="M993.09 123.81H996.31V127.02H993.09ZM993.09 127.02H996.31V130.24H993.09ZM989.88 130.24H993.09V133.46H989.88ZM1015.61 130.24H1018.82V133.46H1015.61ZM931.98 133.46H935.2V136.67H931.98ZM973.8 133.46H989.88V136.67H973.8ZM1015.61 133.46H1018.82V136.67H1015.61ZM915.9 136.67H922.34V139.89H915.9ZM1009.17 136.67H1018.82V139.89H1009.17ZM896.61 139.89H906.25V143.11H896.61ZM1050.99 139.89H1060.63V143.11H1050.99ZM886.96 143.11H893.39V146.32H886.96ZM1044.55 143.11H1060.63V146.32H1044.55ZM874.09 146.32H880.52V149.54H874.09ZM1041.34 146.32H1047.77V149.54H1041.34ZM1054.2 146.32H1060.63V149.54H1054.2ZM867.66 149.54H874.09V152.75H867.66ZM1041.34 149.54H1044.55V152.75H1041.34ZM1057.42 149.54H1060.63V152.75H1057.42ZM858.01 152.75H870.88V155.97H858.01ZM996.31 152.75H1005.96V155.97H996.31ZM1038.12 152.75H1044.55V155.97H1038.12ZM1057.42 152.75H1060.63V155.97H1057.42ZM854.79 155.97H864.44V159.19H854.79ZM996.31 155.97H1005.96V159.19H996.31ZM1028.47 155.97H1041.34V159.19H1028.47ZM854.79 159.19H864.44V162.4H854.79ZM996.31 159.19H1009.17V162.4H996.31ZM1018.82 159.19H1031.69V162.4H1018.82ZM1060.63 159.19H1063.85V162.4H1060.63ZM854.79 162.4H861.23V165.62H854.79ZM1009.17 162.4H1015.61V165.62H1009.17ZM1060.63 162.4H1063.85V165.62H1060.63ZM854.79 165.62H861.23V168.84H854.79ZM1060.63 165.62H1063.85V168.84H1060.63ZM854.79 168.84H861.23V172.05H854.79ZM1060.63 168.84H1063.85V172.05H1060.63ZM854.79 172.05H861.23V175.27H854.79ZM1060.63 172.05H1063.85V175.27H1060.63ZM854.79 175.27H864.44V178.48H854.79ZM1060.63 175.27H1063.85V178.48H1060.63ZM854.79 178.48H864.44V181.7H854.79ZM1060.63 178.48H1063.85V181.7H1060.63ZM854.79 181.7H867.66V184.92H854.79ZM858.01 184.92H867.66V188.13H858.01ZM861.23 188.13H867.66V191.35H861.23ZM861.23 191.35H867.66V194.57H861.23ZM864.44 194.57H867.66V197.78H864.44ZM864.44 197.78H867.66V201H864.44ZM1063.85 197.78H1067.07V201H1063.85ZM864.44 201H867.66V204.21H864.44ZM1063.85 201H1067.07V204.21H1063.85ZM864.44 204.21H867.66V207.43H864.44ZM581.41 207.43H594.28V210.65H581.41ZM864.44 207.43H867.66V210.65H864.44ZM571.76 210.65H626.44V213.86H571.76ZM864.44 210.65H867.66V213.86H864.44ZM1060.63 210.65H1063.85V213.86H1060.63ZM565.33 213.86H581.41V217.08H565.33ZM594.28 213.86H632.87V217.08H594.28ZM864.44 213.86H867.66V217.08H864.44ZM1057.42 213.86H1060.63V217.08H1057.42ZM562.12 217.08H571.76V220.3H562.12ZM629.66 217.08H639.31V220.3H629.66ZM864.44 217.08H867.66V220.3H864.44ZM558.9 220.3H565.33V223.51H558.9ZM636.09 220.3H642.52V223.51H636.09ZM864.44 220.3H867.66V223.51H864.44ZM1054.2 220.3H1057.42V223.51H1054.2ZM552.47 223.51H558.9V226.73H552.47ZM642.52 223.51H645.74V226.73H642.52ZM864.44 223.51H867.66V226.73H864.44ZM1050.99 223.51H1054.2V226.73H1050.99ZM539.6 226.73H552.47V229.94H539.6ZM645.74 226.73H648.95V229.94H645.74ZM864.44 226.73H867.66V229.94H864.44ZM1047.77 226.73H1050.99V229.94H1047.77ZM533.17 229.94H542.82V233.16H533.17ZM648.95 229.94H652.17V233.16H648.95ZM864.44 229.94H870.88V233.16H864.44ZM1044.55 229.94H1047.77V233.16H1044.55ZM526.74 233.16H536.39V236.38H526.74ZM867.66 233.16H870.88V236.38H867.66ZM1041.34 233.16H1044.55V236.38H1041.34ZM520.3 236.38H529.95V239.59H520.3ZM655.39 236.38H658.6V239.59H655.39ZM870.88 236.38H874.09V239.59H870.88ZM1038.12 236.38H1041.34V239.59H1038.12ZM513.87 239.59H523.52V242.81H513.87ZM658.6 239.59H661.82V242.81H658.6ZM874.09 239.59H877.31V242.81H874.09ZM1034.9 239.59H1038.12V242.81H1034.9ZM510.66 242.81H520.3V246.03H510.66ZM661.82 242.81H665.04V246.03H661.82ZM877.31 242.81H880.52V246.03H877.31ZM1031.69 242.81H1034.9V246.03H1031.69ZM507.44 246.03H517.09V249.24H507.44ZM665.04 246.03H668.25V249.24H665.04ZM880.52 246.03H883.74V249.24H880.52ZM1025.26 246.03H1031.69V249.24H1025.26ZM504.22 249.24H513.87V252.46H504.22ZM668.25 249.24H671.47V252.46H668.25ZM883.74 249.24H886.96V252.46H883.74ZM1022.04 249.24H1025.26V252.46H1022.04ZM504.22 252.46H510.66V255.67H504.22ZM671.47 252.46H674.68V255.67H671.47ZM883.74 252.46H886.96V255.67H883.74ZM1018.82 252.46H1022.04V255.67H1018.82ZM504.22 255.67H510.66V258.89H504.22ZM674.68 255.67H677.9V258.89H674.68ZM886.96 255.67H890.17V258.89H886.96ZM1012.39 255.67H1015.61V258.89H1012.39ZM507.44 258.89H510.66V262.11H507.44ZM671.47 258.89H674.68V262.11H671.47ZM890.17 258.89H893.39V262.11H890.17ZM1009.17 258.89H1015.61V262.11H1009.17ZM507.44 262.11H510.66V265.32H507.44ZM668.25 262.11H671.47V265.32H668.25ZM890.17 262.11H893.39V265.32H890.17ZM996.31 262.11H1012.39V265.32H996.31ZM507.44 265.32H513.87V268.54H507.44ZM665.04 265.32H668.25V268.54H665.04ZM890.17 265.32H893.39V268.54H890.17ZM986.66 265.32H989.88V268.54H986.66ZM510.66 268.54H513.87V271.76H510.66ZM890.17 268.54H893.39V271.76H890.17ZM980.23 268.54H983.44V271.76H980.23ZM513.87 271.76H517.09V274.97H513.87ZM661.82 271.76H665.04V274.97H661.82ZM886.96 271.76H890.17V274.97H886.96ZM513.87 274.97H517.09V278.19H513.87ZM652.17 274.97H661.82V278.19H652.17ZM883.74 274.97H886.96V278.19H883.74ZM951.28 274.97H957.71V278.19H951.28ZM964.15 274.97H970.58V278.19H964.15ZM977.01 274.97H980.23V278.19H977.01ZM517.09 278.19H520.3V281.4H517.09ZM655.39 278.19H661.82V281.4H655.39ZM880.52 278.19H883.74V281.4H880.52ZM938.42 278.19H944.85V281.4H938.42ZM970.58 278.19H977.01V281.4H970.58ZM520.3 281.4H523.52V284.62H520.3ZM658.6 281.4H661.82V284.62H658.6ZM877.31 281.4H880.52V284.62H877.31ZM925.55 281.4H931.98V284.62H925.55ZM523.52 284.62H526.74V287.84H523.52ZM661.82 284.62H665.04V287.84H661.82ZM912.69 284.62H915.9V287.84H912.69ZM526.74 287.84H529.95V291.05H526.74ZM665.04 287.84H668.25V291.05H665.04ZM877.31 287.84H880.52V291.05H877.31ZM906.25 287.84H909.47V291.05H906.25ZM668.25 291.05H671.47V294.27H668.25ZM899.82 291.05H906.25V294.27H899.82ZM668.25 294.27H671.47V297.49H668.25ZM671.47 297.49H674.68V300.7H671.47ZM674.68 303.92H677.9V307.13H674.68ZM674.68 307.13H677.9V310.35H674.68ZM552.47 310.35H555.68V313.57H552.47ZM674.68 310.35H677.9V313.57H674.68ZM671.47 313.57H674.68V316.78H671.47ZM558.9 316.78H562.12V320H558.9ZM668.25 316.78H671.47V320H668.25ZM562.12 320H565.33V323.22H562.12ZM648.95 320H665.04V323.22H648.95ZM568.55 323.22H574.98V326.43H568.55ZM645.74 323.22H648.95V326.43H645.74ZM578.2 326.43H581.41V329.65H578.2ZM642.52 326.43H645.74V329.65H642.52ZM584.63 329.65H591.06V332.86H584.63ZM636.09 329.65H642.52V332.86H636.09ZM591.06 332.86H603.93V336.08H591.06ZM613.58 332.86H636.09V336.08H613.58ZM607.14 336.08H610.36V339.3H607.14ZM237.27 390.76H243.71V393.97H237.27ZM211.54 393.97H214.76V397.19H211.54ZM234.06 393.97H237.27V397.19H234.06ZM237.27 397.19H240.49V400.41H237.27ZM134.35 458.3H140.79V461.51H134.35ZM131.14 461.51H134.35V464.73H131.14ZM410.95 467.95H420.6V471.16H410.95ZM433.47 474.38H436.68V477.6H433.47ZM436.68 496.89H439.9V500.11H436.68ZM439.9 500.11H443.11V503.33H439.9ZM388.44 506.54H391.65V509.76H388.44ZM394.87 512.97H398.09V516.19H394.87ZM410.95 522.62H414.17V525.84H410.95ZM414.17 525.84H417.38V529.06H414.17ZM417.38 532.27H420.6V535.49H417.38ZM427.03 535.49H430.25V538.7H427.03ZM430.25 538.7H433.47V541.92H430.25Z"/>
<path fill="#25c0e7" d="M996.31 120.59H1002.74V123.81H996.31ZM1015.61 120.59H1018.82V123.81H1015.61ZM996.31 123.81H1002.74V127.02H996.31ZM1015.61 123.81H1018.82V127.02H1015.61ZM996.31 127.02H1002.74V130.24H996.31ZM1015.61 127.02H1018.82V130.24H1015.61ZM993.09 130.24H1005.96V133.46H993.09ZM1009.17 130.24H1015.61V133.46H1009.17ZM989.88 133.46H1015.61V136.67H989.88ZM922.34 136.67H960.93V139.89H922.34ZM993.09 136.67H1009.17V139.89H993.09ZM906.25 139.89H909.47V143.11H906.25ZM893.39 143.11H896.61V146.32H893.39ZM880.52 146.32H890.17V149.54H880.52ZM1047.77 146.32H1054.2V149.54H1047.77ZM874.09 149.54H880.52V152.75H874.09ZM1044.55 149.54H1057.42V152.75H1044.55ZM870.88 152.75H877.31V155.97H870.88ZM989.88 152.75H996.31V155.97H989.88ZM1044.55 152.75H1050.99V155.97H1044.55ZM1054.2 152.75H1057.42V155.97H1054.2ZM864.44 155.97H874.09V159.19H864.44ZM989.88 155.97H996.31V159.19H989.88ZM1041.34 155.97H1047.77V159.19H1041.34ZM1057.42 155.97H1060.63V159.19H1057.42ZM864.44 159.19H870.88V162.4H864.44ZM989.88 159.19H996.31V162.4H989.88ZM1031.69 159.19H1044.55V162.4H1031.69ZM1057.42 159.19H1060.63V162.4H1057.42ZM861.23 162.4H870.88V165.62H861.23ZM993.09 162.4H1009.17V165.62H993.09ZM1015.61 162.4H1028.47V165.62H1015.61ZM1057.42 162.4H1060.63V165.62H1057.42ZM861.23 165.62H870.88V168.84H861.23ZM1057.42 165.62H1060.63V168.84H1057.42ZM861.23 168.84H870.88V172.05H861.23ZM1057.42 168.84H1060.63V172.05H1057.42ZM861.23 172.05H870.88V175.27H861.23ZM864.44 175.27H870.88V178.48H864.44ZM864.44 178.48H870.88V181.7H864.44ZM867.66 181.7H870.88V184.92H867.66ZM1060.63 181.7H1063.85V184.92H1060.63ZM867.66 184.92H870.88V188.13H867.66ZM1060.63 184.92H1063.85V188.13H1060.63ZM867.66 188.13H870.88V191.35H867.66ZM1060.63 188.13H1063.85V191.35H1060.63ZM867.66 191.35H870.88V194.57H867.66ZM1060.63 191.35H1063.85V194.57H1060.63ZM867.66 194.57H870.88V197.78H867.66ZM1060.63 194.57H1063.85V197.78H1060.63ZM867.66 197.78H870.88V201H867.66ZM1060.63 197.78H1063.85V201H1060.63ZM867.66 201H870.88V204.21H867.66ZM1060.63 201H1063.85V204.21H1060.63ZM867.66 204.21H870.88V207.43H867.66ZM1060.63 204.21H1063.85V207.43H1060.63ZM867.66 207.43H870.88V210.65H867.66ZM1060.63 207.43H1063.85V210.65H1060.63ZM867.66 210.65H870.88V213.86H867.66ZM1057.42 210.65H1060.63V213.86H1057.42ZM581.41 213.86H594.28V217.08H581.41ZM867.66 213.86H870.88V217.08H867.66ZM571.76 217.08H629.66V220.3H571.76ZM867.66 217.08H870.88V220.3H867.66ZM1054.2 217.08H1057.42V220.3H1054.2ZM565.33 220.3H581.41V223.51H565.33ZM616.79 220.3H636.09V223.51H616.79ZM867.66 220.3H870.88V223.51H867.66ZM1050.99 220.3H1054.2V223.51H1050.99ZM558.9 223.51H568.55V226.73H558.9ZM636.09 223.51H642.52V226.73H636.09ZM867.66 223.51H870.88V226.73H867.66ZM1047.77 223.51H1050.99V226.73H1047.77ZM552.47 226.73H558.9V229.94H552.47ZM642.52 226.73H645.74V229.94H642.52ZM867.66 226.73H874.09V229.94H867.66ZM1044.55 226.73H1047.77V229.94H1044.55ZM542.82 229.94H549.25V233.16H542.82ZM645.74 229.94H648.95V233.16H645.74ZM870.88 229.94H874.09V233.16H870.88ZM1041.34 229.94H1044.55V233.16H1041.34ZM536.39 233.16H542.82V236.38H536.39ZM648.95 233.16H652.17V236.38H648.95ZM870.88 233.16H877.31V236.38H870.88ZM1038.12 233.16H1041.34V236.38H1038.12ZM529.95 236.38H536.39V239.59H529.95ZM652.17 236.38H655.39V239.59H652.17ZM874.09 236.38H880.52V239.59H874.09ZM1034.9 236.38H1038.12V239.59H1034.9ZM523.52 239.59H533.17V242.81H523.52ZM877.31 239.59H880.52V242.81H877.31ZM1031.69 239.59H1034.9V242.81H1031.69ZM520.3 242.81H526.74V246.03H520.3ZM880.52 242.81H883.74V246.03H880.52ZM1025.26 242.81H1031.69V246.03H1025.26ZM517.09 246.03H523.52V249.24H517.09ZM883.74 246.03H886.96V249.24H883.74ZM1022.04 246.03H1025.26V249.24H1022.04ZM513.87 249.24H520.3V252.46H513.87ZM665.04 249.24H668.25V252.46H665.04ZM886.96 249.24H890.17V252.46H886.96ZM1018.82 249.24H1022.04V252.46H1018.82ZM510.66 252.46H517.09V255.67H510.66ZM668.25 252.46H671.47V255.67H668.25ZM886.96 252.46H890.17V255.67H886.96ZM1015.61 252.46H1018.82V255.67H1015.61ZM510.66 255.67H517.09V258.89H510.66ZM671.47 255.67H674.68V258.89H671.47ZM890.17 255.67H893.39V258.89H890.17ZM1009.17 255.67H1012.39V258.89H1009.17ZM510.66 258.89H517.09V262.11H510.66ZM668.25 258.89H671.47V262.11H668.25ZM999.53 258.89H1009.17V262.11H999.53ZM510.66 262.11H517.09V265.32H510.66ZM665.04 262.11H668.25V265.32H665.04ZM893.39 262.11H896.61V265.32H893.39ZM989.88 262.11H996.31V265.32H989.88ZM513.87 265.32H517.09V268.54H513.87ZM661.82 265.32H665.04V268.54H661.82ZM893.39 265.32H896.61V268.54H893.39ZM980.23 265.32H986.66V268.54H980.23ZM513.87 268.54H517.09V271.76H513.87ZM970.58 268.54H980.23V271.76H970.58ZM890.17 271.76H893.39V274.97H890.17ZM954.5 271.76H980.23V274.97H954.5ZM517.09 274.97H520.3V278.19H517.09ZM613.58 274.97H626.44V278.19H613.58ZM629.66 274.97H636.09V278.19H629.66ZM642.52 274.97H652.17V278.19H642.52ZM886.96 274.97H890.17V278.19H886.96ZM944.85 274.97H951.28V278.19H944.85ZM970.58 274.97H977.01V278.19H970.58ZM520.3 278.19H523.52V281.4H520.3ZM629.66 278.19H655.39V281.4H629.66ZM883.74 278.19H886.96V281.4H883.74ZM931.98 278.19H938.42V281.4H931.98ZM523.52 281.4H526.74V284.62H523.52ZM648.95 281.4H658.6V284.62H648.95ZM880.52 281.4H883.74V284.62H880.52ZM915.9 281.4H925.55V284.62H915.9ZM655.39 284.62H661.82V287.84H655.39ZM877.31 284.62H880.52V287.84H877.31ZM909.47 284.62H912.69V287.84H909.47ZM658.6 287.84H665.04V291.05H658.6ZM880.52 287.84H883.74V291.05H880.52ZM903.04 287.84H906.25V291.05H903.04ZM661.82 291.05H668.25V294.27H661.82ZM880.52 291.05H899.82V294.27H880.52ZM536.39 294.27H539.6V297.49H536.39ZM665.04 294.27H668.25V297.49H665.04ZM542.82 297.49H546.03V300.7H542.82ZM668.25 297.49H671.47V300.7H668.25ZM546.03 300.7H549.25V303.92H546.03ZM671.47 300.7H674.68V303.92H671.47ZM549.25 303.92H552.47V307.13H549.25ZM671.47 303.92H674.68V307.13H671.47ZM552.47 307.13H555.68V310.35H552.47ZM671.47 310.35H674.68V313.57H671.47ZM555.68 313.57H558.9V316.78H555.68ZM655.39 313.57H658.6V316.78H655.39ZM668.25 313.57H671.47V316.78H668.25ZM648.95 316.78H661.82V320H648.95ZM565.33 320H568.55V323.22H565.33ZM645.74 320H648.95V323.22H645.74ZM665.04 320H668.25V323.22H665.04ZM574.98 323.22H578.2V326.43H574.98ZM639.31 323.22H645.74V326.43H639.31ZM581.41 326.43H587.85V329.65H581.41ZM632.87 326.43H642.52V329.65H632.87ZM591.06 329.65H603.93V332.86H591.06ZM610.36 329.65H636.09V332.86H610.36ZM603.93 332.86H613.58V336.08H603.93ZM182.6 393.97H211.54V397.19H182.6ZM176.17 397.19H179.38V400.41H176.17ZM217.98 397.19H234.06V400.41H217.98ZM169.73 400.41H172.95V403.62H169.73ZM234.06 400.41H237.27V403.62H234.06ZM163.3 403.62H166.52V406.84H163.3ZM234.06 403.62H237.27V406.84H234.06ZM156.87 406.84H160.08V410.05H156.87ZM230.84 406.84H234.06V410.05H230.84ZM227.63 410.05H230.84V413.27H227.63ZM224.41 413.27H227.63V416.49H224.41ZM221.19 416.49H224.41V419.7H221.19ZM217.98 419.7H221.19V422.92H217.98ZM211.54 422.92H214.76V426.14H211.54ZM208.33 426.14H211.54V429.35H208.33ZM201.9 429.35H205.11V432.57H201.9ZM198.68 432.57H201.9V435.78H198.68ZM192.25 435.78H195.46V439H192.25ZM185.81 439H189.03V442.22H185.81ZM182.6 442.22H185.81V445.43H182.6ZM172.95 445.43H176.17V448.65H172.95ZM160.08 448.65H163.3V451.87H160.08ZM147.22 451.87H153.65V455.08H147.22ZM140.79 455.08H144V458.3H140.79ZM131.14 458.3H134.35V461.51H131.14ZM394.87 471.16H401.3V474.38H394.87ZM427.03 471.16H430.25V474.38H427.03ZM436.68 477.6H439.9V480.81H436.68ZM439.9 480.81H443.11V484.03H439.9ZM439.9 484.03H443.11V487.24H439.9ZM388.44 509.76H391.65V512.97H388.44ZM407.74 519.41H410.95V522.62H407.74ZM439.9 519.41H443.11V522.62H439.9ZM420.6 535.49H423.82V538.7H420.6ZM423.82 538.7H430.25V541.92H423.82Z"/>
<path fill="#23c3e4" d="M1002.74 120.59H1015.61V123.81H1002.74ZM1002.74 123.81H1015.61V127.02H1002.74ZM1002.74 127.02H1015.61V130.24H1002.74ZM1005.96 130.24H1009.17V133.46H1005.96ZM960.93 136.67H973.8V139.89H960.93ZM980.23 136.67H993.09V139.89H980.23ZM909.47 139.89H919.12V143.11H909.47ZM896.61 143.11H903.04V146.32H896.61ZM890.17 146.32H893.39V149.54H890.17ZM880.52 149.54H886.96V152.75H880.52ZM877.31 152.75H883.74V155.97H877.31ZM986.66 152.75H989.88V155.97H986.66ZM1050.99 152.75H1054.2V155.97H1050.99ZM874.09 155.97H880.52V159.19H874.09ZM983.44 155.97H989.88V159.19H983.44ZM1047.77 155.97H1057.42V159.19H1047.77ZM870.88 159.19H877.31V162.4H870.88ZM983.44 159.19H989.88V162.4H983.44ZM1044.55 159.19H1057.42V162.4H1044.55ZM870.88 162.4H877.31V165.62H870.88ZM983.44 162.4H993.09V165.62H983.44ZM1028.47 162.4H1057.42V165.62H1028.47ZM870.88 165.62H874.09V168.84H870.88ZM999.53 165.62H1022.04V168.84H999.53ZM1054.2 165.62H1057.42V168.84H1054.2ZM870.88 168.84H874.09V172.05H870.88ZM1054.2 168.84H1057.42V172.05H1054.2ZM870.88 172.05H874.09V175.27H870.88ZM1057.42 172.05H1060.63V175.27H1057.42ZM870.88 175.27H874.09V178.48H870.88ZM1057.42 175.27H1060.63V178.48H1057.42ZM870.88 178.48H874.09V181.7H870.88ZM1057.42 178.48H1060.63V181.7H1057.42ZM870.88 181.7H874.09V184.92H870.88ZM1057.42 181.7H1060.63V184.92H1057.42ZM870.88 184.92H874.09V188.13H870.88ZM1057.42 184.92H1060.63V188.13H1057.42ZM870.88 188.13H874.09V191.35H870.88ZM1057.42 188.13H1060.63V191.35H1057.42ZM870.88 191.35H874.09V194.57H870.88ZM1057.42 191.35H1060.63V194.57H1057.42ZM870.88 194.57H874.09V197.78H870.88ZM1057.42 194.57H1060.63V197.78H1057.42ZM870.88 197.78H874.09V201H870.88ZM1057.42 197.78H1060.63V201H1057.42ZM870.88 201H874.09V204.21H870.88ZM1057.42 201H1060.63V204.21H1057.42ZM870.88 204.21H874.09V207.43H870.88ZM1057.42 204.21H1060.63V207.43H1057.42ZM870.88 207.43H877.31V210.65H870.88ZM1057.42 207.43H1060.63V210.65H1057.42ZM870.88 210.65H877.31V213.86H870.88ZM1054.2 210.65H1057.42V213.86H1054.2ZM870.88 213.86H877.31V217.08H870.88ZM1054.2 213.86H1057.42V217.08H1054.2ZM870.88 217.08H877.31V220.3H870.88ZM1050.99 217.08H1054.2V220.3H1050.99ZM581.41 220.3H616.79V223.51H581.41ZM870.88 220.3H877.31V223.51H870.88ZM1047.77 220.3H1050.99V223.51H1047.77ZM568.55 223.51H587.85V226.73H568.55ZM591.06 223.51H636.09V226.73H591.06ZM870.88 223.51H877.31V226.73H870.88ZM1044.55 223.51H1047.77V226.73H1044.55ZM558.9 226.73H571.76V229.94H558.9ZM636.09 226.73H642.52V229.94H636.09ZM874.09 226.73H877.31V229.94H874.09ZM1041.34 226.73H1044.55V229.94H1041.34ZM549.25 229.94H558.9V233.16H549.25ZM642.52 229.94H645.74V233.16H642.52ZM874.09 229.94H877.31V233.16H874.09ZM1038.12 229.94H1041.34V233.16H1038.12ZM542.82 233.16H552.47V236.38H542.82ZM645.74 233.16H648.95V236.38H645.74ZM877.31 233.16H880.52V236.38H877.31ZM1034.9 233.16H1038.12V236.38H1034.9ZM536.39 236.38H546.03V239.59H536.39ZM880.52 236.38H883.74V239.59H880.52ZM1031.69 236.38H1034.9V239.59H1031.69ZM533.17 239.59H539.6V242.81H533.17ZM655.39 239.59H658.6V242.81H655.39ZM880.52 239.59H886.96V242.81H880.52ZM1028.47 239.59H1031.69V242.81H1028.47ZM526.74 242.81H536.39V246.03H526.74ZM658.6 242.81H661.82V246.03H658.6ZM883.74 242.81H886.96V246.03H883.74ZM1022.04 242.81H1025.26V246.03H1022.04ZM523.52 246.03H529.95V249.24H523.52ZM661.82 246.03H665.04V249.24H661.82ZM886.96 246.03H890.17V249.24H886.96ZM1018.82 246.03H1022.04V249.24H1018.82ZM520.3 249.24H526.74V252.46H520.3ZM890.17 249.24H893.39V252.46H890.17ZM1015.61 249.24H1018.82V252.46H1015.61ZM517.09 252.46H523.52V255.67H517.09ZM665.04 252.46H668.25V255.67H665.04ZM890.17 252.46H893.39V255.67H890.17ZM1009.17 252.46H1015.61V255.67H1009.17ZM517.09 255.67H523.52V258.89H517.09ZM668.25 255.67H671.47V258.89H668.25ZM893.39 255.67H896.61V258.89H893.39ZM1002.74 255.67H1009.17V258.89H1002.74ZM517.09 258.89H520.3V262.11H517.09ZM665.04 258.89H668.25V262.11H665.04ZM893.39 258.89H896.61V262.11H893.39ZM996.31 258.89H999.53V262.11H996.31ZM517.09 262.11H520.3V265.32H517.09ZM658.6 262.11H665.04V265.32H658.6ZM983.44 262.11H989.88V265.32H983.44ZM517.09 265.32H520.3V268.54H517.09ZM973.8 265.32H980.23V268.54H973.8ZM517.09 268.54H520.3V271.76H517.09ZM893.39 268.54H896.61V271.76H893.39ZM960.93 268.54H970.58V271.76H960.93ZM517.09 271.76H520.3V274.97H517.09ZM597.49 271.76H613.58V274.97H597.49ZM893.39 271.76H896.61V274.97H893.39ZM948.07 271.76H954.5V274.97H948.07ZM520.3 274.97H523.52V278.19H520.3ZM594.28 274.97H613.58V278.19H594.28ZM890.17 274.97H893.39V278.19H890.17ZM938.42 274.97H944.85V278.19H938.42ZM597.49 278.19H629.66V281.4H597.49ZM886.96 278.19H893.39V281.4H886.96ZM925.55 278.19H931.98V281.4H925.55ZM610.36 281.4H648.95V284.62H610.36ZM883.74 281.4H893.39V284.62H883.74ZM909.47 281.4H915.9V284.62H909.47ZM526.74 284.62H529.95V287.84H526.74ZM626.44 284.62H655.39V287.84H626.44ZM880.52 284.62H909.47V287.84H880.52ZM529.95 287.84H533.17V291.05H529.95ZM652.17 287.84H658.6V291.05H652.17ZM883.74 287.84H903.04V291.05H883.74ZM533.17 291.05H536.39V294.27H533.17ZM658.6 291.05H661.82V294.27H658.6ZM661.82 294.27H665.04V297.49H661.82ZM661.82 297.49H668.25V300.7H661.82ZM661.82 300.7H671.47V303.92H661.82ZM658.6 303.92H671.47V307.13H658.6ZM655.39 307.13H665.04V310.35H655.39ZM668.25 307.13H674.68V310.35H668.25ZM555.68 310.35H558.9V313.57H555.68ZM652.17 310.35H671.47V313.57H652.17ZM558.9 313.57H562.12V316.78H558.9ZM648.95 313.57H655.39V316.78H648.95ZM658.6 313.57H668.25V316.78H658.6ZM562.12 316.78H565.33V320H562.12ZM642.52 316.78H648.95V320H642.52ZM661.82 316.78H668.25V320H661.82ZM568.55 320H574.98V323.22H568.55ZM639.31 320H645.74V323.22H639.31ZM578.2 323.22H587.85V326.43H578.2ZM632.87 323.22H639.31V326.43H632.87ZM587.85 326.43H632.87V329.65H587.85ZM603.93 329.65H610.36V332.86H603.93ZM237.27 393.97H240.49V397.19H237.27ZM172.95 397.19H176.17V400.41H172.95ZM179.38 397.19H182.6V400.41H179.38ZM214.76 397.19H217.98V400.41H214.76ZM234.06 397.19H237.27V400.41H234.06ZM166.52 403.62H169.73V406.84H166.52ZM214.76 419.7H217.98V422.92H214.76ZM205.11 426.14H208.33V429.35H205.11ZM195.46 432.57H198.68V435.78H195.46ZM189.03 435.78H192.25V439H189.03ZM176.17 442.22H182.6V445.43H176.17ZM163.3 445.43H172.95V448.65H163.3ZM153.65 448.65H160.08V451.87H153.65ZM134.35 455.08H140.79V458.3H134.35ZM401.3 471.16H407.74V474.38H401.3ZM423.82 471.16H427.03V474.38H423.82ZM436.68 487.24H439.9V490.46H436.68ZM391.65 500.11H394.87V503.33H391.65ZM391.65 503.33H394.87V506.54H391.65ZM439.9 503.33H443.11V506.54H439.9ZM391.65 509.76H394.87V512.97H391.65ZM398.09 512.97H401.3V516.19H398.09ZM430.25 519.41H433.47V522.62H430.25ZM427.03 522.62H430.25V525.84H427.03ZM417.38 529.06H420.6V532.27H417.38ZM423.82 532.27H427.03V535.49H423.82ZM423.82 535.49H427.03V538.7H423.82Z"/>
<path fill="#22c5e2" d="M973.8 136.67H980.23V139.89H973.8ZM919.12 139.89H925.55V143.11H919.12ZM903.04 143.11H909.47V146.32H903.04ZM893.39 146.32H899.82V149.54H893.39ZM886.96 149.54H893.39V152.75H886.96ZM883.74 152.75H890.17V155.97H883.74ZM880.52 155.97H886.96V159.19H880.52ZM980.23 155.97H983.44V159.19H980.23ZM877.31 159.19H883.74V162.4H877.31ZM980.23 159.19H983.44V162.4H980.23ZM877.31 162.4H880.52V165.62H877.31ZM980.23 162.4H983.44V165.62H980.23ZM874.09 165.62H880.52V168.84H874.09ZM983.44 165.62H999.53V168.84H983.44ZM1022.04 165.62H1054.2V168.84H1022.04ZM874.09 168.84H880.52V172.05H874.09ZM1044.55 168.84H1054.2V172.05H1044.55ZM874.09 172.05H880.52V175.27H874.09ZM1050.99 172.05H1057.42V175.27H1050.99ZM874.09 175.27H880.52V178.48H874.09ZM1054.2 175.27H1057.42V178.48H1054.2ZM874.09 178.48H880.52V181.7H874.09ZM1054.2 178.48H1057.42V181.7H1054.2ZM874.09 181.7H880.52V184.92H874.09ZM1054.2 181.7H1057.42V184.92H1054.2ZM874.09 184.92H880.52V188.13H874.09ZM1054.2 184.92H1057.42V188.13H1054.2ZM874.09 188.13H880.52V191.35H874.09ZM1054.2 188.13H1057.42V191.35H1054.2ZM874.09 191.35H880.52V194.57H874.09ZM1054.2 191.35H1057.42V194.57H1054.2ZM874.09 194.57H880.52V197.78H874.09ZM1054.2 194.57H1057.42V197.78H1054.2ZM874.09 197.78H880.52V201H874.09ZM1054.2 197.78H1057.42V201H1054.2ZM874.09 201H880.52V204.21H874.09ZM1054.2 201H1057.42V204.21H1054.2ZM874.09 204.21H880.52V207.43H874.09ZM1054.2 204.21H1057.42V207.43H1054.2ZM877.31 207.43H880.52V210.65H877.31ZM1054.2 207.43H1057.42V210.65H1054.2ZM877.31 210.65H880.52V213.86H877.31ZM1050.99 210.65H1054.2V213.86H1050.99ZM877.31 213.86H880.52V217.08H877.31ZM1050.99 213.86H1054.2V217.08H1050.99ZM877.31 217.08H880.52V220.3H877.31ZM1044.55 217.08H1050.99V220.3H1044.55ZM877.31 220.3H880.52V223.51H877.31ZM1041.34 220.3H1047.77V223.51H1041.34ZM587.85 223.51H591.06V226.73H587.85ZM877.31 223.51H880.52V226.73H877.31ZM1038.12 223.51H1044.55V226.73H1038.12ZM571.76 226.73H584.63V229.94H571.76ZM623.22 226.73H636.09V229.94H623.22ZM877.31 226.73H880.52V229.94H877.31ZM1034.9 226.73H1041.34V229.94H1034.9ZM558.9 229.94H571.76V233.16H558.9ZM636.09 229.94H642.52V233.16H636.09ZM877.31 229.94H883.74V233.16H877.31ZM1031.69 229.94H1038.12V233.16H1031.69ZM552.47 233.16H558.9V236.38H552.47ZM642.52 233.16H645.74V236.38H642.52ZM880.52 233.16H883.74V236.38H880.52ZM1028.47 233.16H1034.9V236.38H1028.47ZM546.03 236.38H552.47V239.59H546.03ZM648.95 236.38H652.17V239.59H648.95ZM883.74 236.38H886.96V239.59H883.74ZM1028.47 236.38H1031.69V239.59H1028.47ZM539.6 239.59H546.03V242.81H539.6ZM652.17 239.59H655.39V242.81H652.17ZM886.96 239.59H890.17V242.81H886.96ZM1022.04 239.59H1028.47V242.81H1022.04ZM536.39 242.81H542.82V246.03H536.39ZM655.39 242.81H658.6V246.03H655.39ZM886.96 242.81H890.17V246.03H886.96ZM1018.82 242.81H1022.04V246.03H1018.82ZM529.95 246.03H536.39V249.24H529.95ZM658.6 246.03H661.82V249.24H658.6ZM890.17 246.03H893.39V249.24H890.17ZM1015.61 246.03H1018.82V249.24H1015.61ZM526.74 249.24H533.17V252.46H526.74ZM661.82 249.24H665.04V252.46H661.82ZM893.39 249.24H896.61V252.46H893.39ZM1012.39 249.24H1015.61V252.46H1012.39ZM523.52 252.46H529.95V255.67H523.52ZM661.82 252.46H665.04V255.67H661.82ZM893.39 252.46H896.61V255.67H893.39ZM1005.96 252.46H1009.17V255.67H1005.96ZM523.52 255.67H529.95V258.89H523.52ZM661.82 255.67H668.25V258.89H661.82ZM999.53 255.67H1002.74V258.89H999.53ZM520.3 258.89H526.74V262.11H520.3ZM658.6 258.89H665.04V262.11H658.6ZM896.61 258.89H899.82V262.11H896.61ZM989.88 258.89H996.31V262.11H989.88ZM520.3 262.11H526.74V265.32H520.3ZM652.17 262.11H658.6V265.32H652.17ZM896.61 262.11H899.82V265.32H896.61ZM980.23 262.11H983.44V265.32H980.23ZM520.3 265.32H523.52V268.54H520.3ZM896.61 265.32H899.82V268.54H896.61ZM967.36 265.32H973.8V268.54H967.36ZM520.3 268.54H523.52V271.76H520.3ZM896.61 268.54H899.82V271.76H896.61ZM954.5 268.54H960.93V271.76H954.5ZM520.3 271.76H523.52V274.97H520.3ZM581.41 271.76H597.49V274.97H581.41ZM896.61 271.76H899.82V274.97H896.61ZM941.63 271.76H948.07V274.97H941.63ZM584.63 274.97H594.28V278.19H584.63ZM893.39 274.97H896.61V278.19H893.39ZM931.98 274.97H938.42V278.19H931.98ZM523.52 278.19H526.74V281.4H523.52ZM587.85 278.19H597.49V281.4H587.85ZM893.39 278.19H896.61V281.4H893.39ZM919.12 278.19H925.55V281.4H919.12ZM526.74 281.4H529.95V284.62H526.74ZM591.06 281.4H610.36V284.62H591.06ZM893.39 281.4H909.47V284.62H893.39ZM597.49 284.62H626.44V287.84H597.49ZM610.36 287.84H652.17V291.05H610.36ZM632.87 291.05H658.6V294.27H632.87ZM539.6 294.27H542.82V297.49H539.6ZM652.17 294.27H661.82V297.49H652.17ZM658.6 297.49H661.82V300.7H658.6ZM549.25 300.7H552.47V303.92H549.25ZM655.39 300.7H661.82V303.92H655.39ZM552.47 303.92H555.68V307.13H552.47ZM655.39 303.92H658.6V307.13H655.39ZM555.68 307.13H558.9V310.35H555.68ZM652.17 307.13H655.39V310.35H652.17ZM665.04 307.13H668.25V310.35H665.04ZM558.9 310.35H562.12V313.57H558.9ZM645.74 310.35H652.17V313.57H645.74ZM562.12 313.57H565.33V316.78H562.12ZM642.52 313.57H648.95V316.78H642.52ZM565.33 316.78H571.76V320H565.33ZM636.09 316.78H642.52V320H636.09ZM574.98 320H591.06V323.22H574.98ZM629.66 320H639.31V323.22H629.66ZM587.85 323.22H632.87V326.43H587.85ZM182.6 397.19H185.81V400.41H182.6ZM211.54 397.19H214.76V400.41H211.54ZM172.95 400.41H176.17V403.62H172.95ZM224.41 400.41H234.06V403.62H224.41ZM230.84 403.62H234.06V406.84H230.84ZM160.08 406.84H163.3V410.05H160.08ZM227.63 406.84H230.84V410.05H227.63ZM144 410.05H156.87V413.27H144ZM224.41 410.05H227.63V413.27H224.41ZM221.19 413.27H224.41V416.49H221.19ZM217.98 416.49H221.19V419.7H217.98ZM211.54 419.7H214.76V422.92H211.54ZM208.33 422.92H211.54V426.14H208.33ZM201.9 426.14H205.11V429.35H201.9ZM198.68 429.35H201.9V432.57H198.68ZM192.25 432.57H195.46V435.78H192.25ZM185.81 435.78H189.03V439H185.81ZM182.6 439H185.81V442.22H182.6ZM172.95 442.22H176.17V445.43H172.95ZM144 451.87H147.22V455.08H144ZM131.14 455.08H134.35V458.3H131.14ZM420.6 471.16H423.82V474.38H420.6ZM430.25 474.38H433.47V477.6H430.25ZM433.47 477.6H436.68V480.81H433.47ZM433.47 493.68H436.68V496.89H433.47ZM436.68 500.11H439.9V503.33H436.68ZM443.11 519.41H446.33V522.62H443.11ZM423.82 529.06H427.03V532.27H423.82Z"/>
<path fill="#1fc9dd" d="M925.55 139.89H951.28V143.11H925.55ZM909.47 143.11H915.9V146.32H909.47ZM899.82 146.32H906.25V149.54H899.82ZM893.39 149.54H899.82V152.75H893.39ZM890.17 152.75H893.39V155.97H890.17ZM886.96 155.97H890.17V159.19H886.96ZM977.01 155.97H980.23V159.19H977.01ZM883.74 159.19H886.96V162.4H883.74ZM977.01 159.19H980.23V162.4H977.01ZM880.52 162.4H886.96V165.62H880.52ZM977.01 162.4H980.23V165.62H977.01ZM880.52 165.62H883.74V168.84H880.52ZM980.23 165.62H983.44V168.84H980.23ZM880.52 168.84H883.74V172.05H880.52ZM1002.74 168.84H1044.55V172.05H1002.74ZM880.52 172.05H883.74V175.27H880.52ZM1041.34 172.05H1050.99V175.27H1041.34ZM880.52 175.27H883.74V178.48H880.52ZM1047.77 175.27H1054.2V178.48H1047.77ZM880.52 178.48H883.74V181.7H880.52ZM1050.99 178.48H1054.2V181.7H1050.99ZM880.52 181.7H883.74V184.92H880.52ZM1050.99 181.7H1054.2V184.92H1050.99ZM880.52 184.92H883.74V188.13H880.52ZM1050.99 184.92H1054.2V188.13H1050.99ZM880.52 188.13H883.74V191.35H880.52ZM1050.99 188.13H1054.2V191.35H1050.99ZM880.52 191.35H883.74V194.57H880.52ZM1050.99 191.35H1054.2V194.57H1050.99ZM880.52 194.57H883.74V197.78H880.52ZM1050.99 194.57H1054.2V197.78H1050.99ZM880.52 197.78H883.74V201H880.52ZM1050.99 197.78H1054.2V201H1050.99ZM880.52 201H883.74V204.21H880.52ZM880.52 204.21H883.74V207.43H880.52ZM1050.99 204.21H1054.2V207.43H1050.99ZM880.52 207.43H883.74V210.65H880.52ZM1050.99 207.43H1054.2V210.65H1050.99ZM880.52 210.65H883.74V213.86H880.52ZM1047.77 210.65H1050.99V213.86H1047.77ZM880.52 213.86H883.74V217.08H880.52ZM1044.55 213.86H1050.99V217.08H1044.55ZM880.52 217.08H883.74V220.3H880.52ZM1041.34 217.08H1044.55V220.3H1041.34ZM880.52 220.3H883.74V223.51H880.52ZM1038.12 220.3H1041.34V223.51H1038.12ZM880.52 223.51H886.96V226.73H880.52ZM1034.9 223.51H1038.12V226.73H1034.9ZM584.63 226.73H623.22V229.94H584.63ZM880.52 226.73H886.96V229.94H880.52ZM1031.69 226.73H1034.9V229.94H1031.69ZM571.76 229.94H584.63V233.16H571.76ZM626.44 229.94H636.09V233.16H626.44ZM883.74 229.94H886.96V233.16H883.74ZM1028.47 229.94H1031.69V233.16H1028.47ZM558.9 233.16H571.76V236.38H558.9ZM639.31 233.16H642.52V236.38H639.31ZM883.74 233.16H890.17V236.38H883.74ZM1025.26 233.16H1028.47V236.38H1025.26ZM552.47 236.38H562.12V239.59H552.47ZM645.74 236.38H648.95V239.59H645.74ZM886.96 236.38H890.17V239.59H886.96ZM1022.04 236.38H1028.47V239.59H1022.04ZM546.03 239.59H552.47V242.81H546.03ZM648.95 239.59H652.17V242.81H648.95ZM890.17 239.59H893.39V242.81H890.17ZM1018.82 239.59H1022.04V242.81H1018.82ZM542.82 242.81H549.25V246.03H542.82ZM652.17 242.81H655.39V246.03H652.17ZM890.17 242.81H893.39V246.03H890.17ZM1015.61 242.81H1018.82V246.03H1015.61ZM536.39 246.03H542.82V249.24H536.39ZM655.39 246.03H658.6V249.24H655.39ZM893.39 246.03H896.61V249.24H893.39ZM1012.39 246.03H1015.61V249.24H1012.39ZM533.17 249.24H536.39V252.46H533.17ZM658.6 249.24H661.82V252.46H658.6ZM1009.17 249.24H1012.39V252.46H1009.17ZM529.95 252.46H536.39V255.67H529.95ZM658.6 252.46H661.82V255.67H658.6ZM896.61 252.46H899.82V255.67H896.61ZM1002.74 252.46H1005.96V255.67H1002.74ZM529.95 255.67H533.17V258.89H529.95ZM655.39 255.67H661.82V258.89H655.39ZM896.61 255.67H899.82V258.89H896.61ZM996.31 255.67H999.53V258.89H996.31ZM526.74 258.89H529.95V262.11H526.74ZM652.17 258.89H658.6V262.11H652.17ZM983.44 258.89H989.88V262.11H983.44ZM526.74 262.11H529.95V265.32H526.74ZM973.8 262.11H980.23V265.32H973.8ZM523.52 265.32H526.74V268.54H523.52ZM957.71 265.32H967.36V268.54H957.71ZM523.52 268.54H526.74V271.76H523.52ZM944.85 268.54H954.5V271.76H944.85ZM523.52 271.76H526.74V274.97H523.52ZM935.2 271.76H941.63V274.97H935.2ZM523.52 274.97H526.74V278.19H523.52ZM578.2 274.97H584.63V278.19H578.2ZM896.61 274.97H903.04V278.19H896.61ZM925.55 274.97H931.98V278.19H925.55ZM581.41 278.19H587.85V281.4H581.41ZM896.61 278.19H919.12V281.4H896.61ZM584.63 281.4H591.06V284.62H584.63ZM529.95 284.62H533.17V287.84H529.95ZM587.85 284.62H597.49V287.84H587.85ZM533.17 287.84H536.39V291.05H533.17ZM594.28 287.84H610.36V291.05H594.28ZM536.39 291.05H539.6V294.27H536.39ZM600.71 291.05H632.87V294.27H600.71ZM613.58 294.27H652.17V297.49H613.58ZM546.03 297.49H549.25V300.7H546.03ZM636.09 297.49H658.6V300.7H636.09ZM645.74 300.7H655.39V303.92H645.74ZM645.74 303.92H655.39V307.13H645.74ZM558.9 307.13H562.12V310.35H558.9ZM642.52 307.13H652.17V310.35H642.52ZM562.12 310.35H565.33V313.57H562.12ZM639.31 310.35H645.74V313.57H639.31ZM565.33 313.57H568.55V316.78H565.33ZM636.09 313.57H642.52V316.78H636.09ZM571.76 316.78H636.09V320H571.76ZM591.06 320H629.66V323.22H591.06ZM185.81 397.19H211.54V400.41H185.81ZM176.17 400.41H179.38V403.62H176.17ZM214.76 400.41H224.41V403.62H214.76ZM169.73 403.62H172.95V406.84H169.73ZM227.63 403.62H230.84V406.84H227.63ZM163.3 406.84H166.52V410.05H163.3ZM224.41 406.84H227.63V410.05H224.41ZM156.87 410.05H160.08V413.27H156.87ZM214.76 416.49H217.98V419.7H214.76ZM205.11 422.92H208.33V426.14H205.11ZM179.38 439H182.6V442.22H179.38ZM166.52 442.22H172.95V445.43H166.52ZM160.08 445.43H163.3V448.65H160.08ZM150.44 448.65H153.65V451.87H150.44ZM131.14 451.87H144V455.08H131.14ZM407.74 471.16H410.95V474.38H407.74ZM417.38 471.16H420.6V474.38H417.38ZM427.03 474.38H430.25V477.6H427.03ZM436.68 480.81H439.9V484.03H436.68ZM436.68 484.03H439.9V487.24H436.68ZM433.47 487.24H436.68V490.46H433.47ZM433.47 490.46H436.68V493.68H433.47ZM433.47 496.89H436.68V500.11H433.47ZM404.52 516.19H407.74V519.41H404.52ZM436.68 516.19H446.33V519.41H436.68ZM446.33 519.41H449.55V522.62H446.33ZM420.6 532.27H423.82V535.49H420.6Z"/>
<path fill="#1ecbda" d="M951.28 139.89H977.01V143.11H951.28ZM915.9 143.11H922.34V146.32H915.9ZM906.25 146.32H909.47V149.54H906.25ZM899.82 149.54H903.04V152.75H899.82ZM893.39 152.75H899.82V155.97H893.39ZM890.17 155.97H896.61V159.19H890.17ZM973.8 155.97H977.01V159.19H973.8ZM886.96 159.19H893.39V162.4H886.96ZM973.8 159.19H977.01V162.4H973.8ZM886.96 162.4H890.17V165.62H886.96ZM883.74 165.62H890.17V168.84H883.74ZM977.01 165.62H980.23V168.84H977.01ZM883.74 168.84H886.96V172.05H883.74ZM980.23 168.84H1002.74V172.05H980.23ZM883.74 172.05H886.96V175.27H883.74ZM1034.9 172.05H1041.34V175.27H1034.9ZM883.74 175.27H886.96V178.48H883.74ZM1041.34 175.27H1047.77V178.48H1041.34ZM883.74 178.48H886.96V181.7H883.74ZM1047.77 178.48H1050.99V181.7H1047.77ZM883.74 181.7H886.96V184.92H883.74ZM1047.77 181.7H1050.99V184.92H1047.77ZM883.74 184.92H886.96V188.13H883.74ZM1047.77 184.92H1050.99V188.13H1047.77ZM883.74 188.13H886.96V191.35H883.74ZM1047.77 188.13H1050.99V191.35H1047.77ZM883.74 191.35H886.96V194.57H883.74ZM1047.77 191.35H1050.99V194.57H1047.77ZM883.74 194.57H886.96V197.78H883.74ZM1047.77 194.57H1050.99V197.78H1047.77ZM883.74 197.78H886.96V201H883.74ZM1047.77 197.78H1050.99V201H1047.77ZM883.74 201H886.96V204.21H883.74ZM1047.77 201H1054.2V204.21H1047.77ZM883.74 204.21H886.96V207.43H883.74ZM1047.77 204.21H1050.99V207.43H1047.77ZM883.74 207.43H886.96V210.65H883.74ZM1047.77 207.43H1050.99V210.65H1047.77ZM883.74 210.65H886.96V213.86H883.74ZM1044.55 210.65H1047.77V213.86H1044.55ZM883.74 213.86H886.96V217.08H883.74ZM1041.34 213.86H1044.55V217.08H1041.34ZM883.74 217.08H886.96V220.3H883.74ZM1038.12 217.08H1041.34V220.3H1038.12ZM883.74 220.3H890.17V223.51H883.74ZM1034.9 220.3H1038.12V223.51H1034.9ZM886.96 223.51H890.17V226.73H886.96ZM1031.69 223.51H1034.9V226.73H1031.69ZM886.96 226.73H890.17V229.94H886.96ZM1028.47 226.73H1031.69V229.94H1028.47ZM584.63 229.94H626.44V233.16H584.63ZM886.96 229.94H890.17V233.16H886.96ZM1025.26 229.94H1028.47V233.16H1025.26ZM571.76 233.16H584.63V236.38H571.76ZM632.87 233.16H639.31V236.38H632.87ZM890.17 233.16H893.39V236.38H890.17ZM1022.04 233.16H1025.26V236.38H1022.04ZM562.12 236.38H571.76V239.59H562.12ZM639.31 236.38H645.74V239.59H639.31ZM890.17 236.38H893.39V239.59H890.17ZM1018.82 236.38H1022.04V239.59H1018.82ZM552.47 239.59H562.12V242.81H552.47ZM645.74 239.59H648.95V242.81H645.74ZM893.39 239.59H896.61V242.81H893.39ZM1015.61 239.59H1018.82V242.81H1015.61ZM549.25 242.81H555.68V246.03H549.25ZM648.95 242.81H652.17V246.03H648.95ZM893.39 242.81H896.61V246.03H893.39ZM1012.39 242.81H1015.61V246.03H1012.39ZM542.82 246.03H546.03V249.24H542.82ZM652.17 246.03H655.39V249.24H652.17ZM896.61 246.03H899.82V249.24H896.61ZM1009.17 246.03H1012.39V249.24H1009.17ZM536.39 249.24H542.82V252.46H536.39ZM655.39 249.24H658.6V252.46H655.39ZM896.61 249.24H899.82V252.46H896.61ZM1002.74 249.24H1009.17V252.46H1002.74ZM536.39 252.46H539.6V255.67H536.39ZM652.17 252.46H658.6V255.67H652.17ZM999.53 252.46H1002.74V255.67H999.53ZM533.17 255.67H536.39V258.89H533.17ZM648.95 255.67H655.39V258.89H648.95ZM899.82 255.67H903.04V258.89H899.82ZM989.88 255.67H996.31V258.89H989.88ZM529.95 258.89H533.17V262.11H529.95ZM645.74 258.89H652.17V262.11H645.74ZM899.82 258.89H903.04V262.11H899.82ZM977.01 258.89H983.44V262.11H977.01ZM529.95 262.11H533.17V265.32H529.95ZM899.82 262.11H903.04V265.32H899.82ZM964.15 262.11H973.8V265.32H964.15ZM526.74 265.32H529.95V268.54H526.74ZM899.82 265.32H903.04V268.54H899.82ZM951.28 265.32H957.71V268.54H951.28ZM526.74 268.54H529.95V271.76H526.74ZM899.82 268.54H903.04V271.76H899.82ZM941.63 268.54H944.85V271.76H941.63ZM899.82 271.76H903.04V274.97H899.82ZM931.98 271.76H935.2V274.97H931.98ZM903.04 274.97H906.25V278.19H903.04ZM915.9 274.97H925.55V278.19H915.9ZM526.74 278.19H529.95V281.4H526.74ZM578.2 278.19H581.41V281.4H578.2ZM581.41 281.4H584.63V284.62H581.41ZM584.63 284.62H587.85V287.84H584.63ZM587.85 287.84H594.28V291.05H587.85ZM594.28 291.05H600.71V294.27H594.28ZM542.82 294.27H546.03V297.49H542.82ZM597.49 294.27H613.58V297.49H597.49ZM600.71 297.49H636.09V300.7H600.71ZM552.47 300.7H555.68V303.92H552.47ZM613.58 300.7H645.74V303.92H613.58ZM555.68 303.92H558.9V307.13H555.68ZM629.66 303.92H645.74V307.13H629.66ZM632.87 307.13H642.52V310.35H632.87ZM594.28 310.35H613.58V313.57H594.28ZM629.66 310.35H639.31V313.57H629.66ZM568.55 313.57H571.76V316.78H568.55ZM578.2 313.57H636.09V316.78H578.2ZM179.38 400.41H185.81V403.62H179.38ZM211.54 400.41H214.76V403.62H211.54ZM172.95 403.62H176.17V406.84H172.95ZM217.98 403.62H227.63V406.84H217.98ZM166.52 406.84H169.73V410.05H166.52ZM160.08 410.05H163.3V413.27H160.08ZM221.19 410.05H224.41V413.27H221.19ZM217.98 413.27H221.19V416.49H217.98ZM211.54 416.49H214.76V419.7H211.54ZM208.33 419.7H211.54V422.92H208.33ZM201.9 422.92H205.11V426.14H201.9ZM198.68 426.14H201.9V429.35H198.68ZM192.25 429.35H198.68V432.57H192.25ZM185.81 432.57H192.25V435.78H185.81ZM182.6 435.78H185.81V439H182.6ZM172.95 439H179.38V442.22H172.95ZM163.3 442.22H166.52V445.43H163.3ZM153.65 445.43H160.08V448.65H153.65ZM147.22 448.65H150.44V451.87H147.22ZM410.95 471.16H417.38V474.38H410.95ZM430.25 477.6H433.47V480.81H430.25ZM433.47 480.81H436.68V484.03H433.47ZM433.47 484.03H436.68V487.24H433.47ZM439.9 506.54H443.11V509.76H439.9ZM433.47 516.19H436.68V519.41H433.47ZM446.33 516.19H449.55V519.41H446.33ZM414.17 522.62H417.38V525.84H414.17ZM417.38 525.84H420.6V529.06H417.38ZM423.82 525.84H427.03V529.06H423.82Z"/>
<path fill="#1ccdd8" d="M922.34 143.11H928.77V146.32H922.34ZM909.47 146.32H915.9V149.54H909.47ZM903.04 149.54H909.47V152.75H903.04ZM899.82 152.75H903.04V155.97H899.82ZM896.61 155.97H899.82V159.19H896.61ZM893.39 159.19H896.61V162.4H893.39ZM890.17 162.4H896.61V165.62H890.17ZM973.8 162.4H977.01V165.62H973.8ZM890.17 165.62H893.39V168.84H890.17ZM886.96 168.84H893.39V172.05H886.96ZM977.01 168.84H980.23V172.05H977.01ZM886.96 172.05H890.17V175.27H886.96ZM1005.96 172.05H1034.9V175.27H1005.96ZM886.96 175.27H890.17V178.48H886.96ZM1034.9 175.27H1041.34V178.48H1034.9ZM886.96 178.48H890.17V181.7H886.96ZM1041.34 178.48H1047.77V181.7H1041.34ZM886.96 181.7H890.17V184.92H886.96ZM1044.55 181.7H1047.77V184.92H1044.55ZM886.96 184.92H890.17V188.13H886.96ZM1044.55 184.92H1047.77V188.13H1044.55ZM886.96 188.13H890.17V191.35H886.96ZM1044.55 188.13H1047.77V191.35H1044.55ZM886.96 191.35H890.17V194.57H886.96ZM1044.55 191.35H1047.77V194.57H1044.55ZM886.96 194.57H890.17V197.78H886.96ZM1044.55 194.57H1047.77V197.78H1044.55ZM886.96 197.78H890.17V201H886.96ZM1044.55 197.78H1047.77V201H1044.55ZM886.96 201H890.17V204.21H886.96ZM1044.55 201H1047.77V204.21H1044.55ZM886.96 204.21H890.17V207.43H886.96ZM1044.55 204.21H1047.77V207.43H1044.55ZM886.96 207.43H890.17V210.65H886.96ZM1041.34 207.43H1047.77V210.65H1041.34ZM886.96 210.65H890.17V213.86H886.96ZM1038.12 210.65H1044.55V213.86H1038.12ZM886.96 213.86H890.17V217.08H886.96ZM1034.9 213.86H1041.34V217.08H1034.9ZM886.96 217.08H893.39V220.3H886.96ZM1031.69 217.08H1038.12V220.3H1031.69ZM890.17 220.3H893.39V223.51H890.17ZM1028.47 220.3H1034.9V223.51H1028.47ZM890.17 223.51H893.39V226.73H890.17ZM1025.26 223.51H1031.69V226.73H1025.26ZM890.17 226.73H893.39V229.94H890.17ZM1025.26 226.73H1028.47V229.94H1025.26ZM890.17 229.94H896.61V233.16H890.17ZM1022.04 229.94H1025.26V233.16H1022.04ZM584.63 233.16H632.87V236.38H584.63ZM893.39 233.16H896.61V236.38H893.39ZM1018.82 233.16H1022.04V236.38H1018.82ZM571.76 236.38H584.63V239.59H571.76ZM632.87 236.38H639.31V239.59H632.87ZM893.39 236.38H896.61V239.59H893.39ZM1015.61 236.38H1018.82V239.59H1015.61ZM562.12 239.59H571.76V242.81H562.12ZM642.52 239.59H645.74V242.81H642.52ZM896.61 239.59H899.82V242.81H896.61ZM1012.39 239.59H1015.61V242.81H1012.39ZM555.68 242.81H562.12V246.03H555.68ZM645.74 242.81H648.95V246.03H645.74ZM896.61 242.81H899.82V246.03H896.61ZM1009.17 242.81H1012.39V246.03H1009.17ZM546.03 246.03H552.47V249.24H546.03ZM648.95 246.03H652.17V249.24H648.95ZM1002.74 246.03H1009.17V249.24H1002.74ZM542.82 249.24H546.03V252.46H542.82ZM648.95 249.24H655.39V252.46H648.95ZM899.82 249.24H903.04V252.46H899.82ZM999.53 249.24H1002.74V252.46H999.53ZM648.95 252.46H652.17V255.67H648.95ZM899.82 252.46H903.04V255.67H899.82ZM993.09 252.46H999.53V255.67H993.09ZM642.52 255.67H648.95V258.89H642.52ZM983.44 255.67H989.88V258.89H983.44ZM533.17 258.89H536.39V262.11H533.17ZM636.09 258.89H645.74V262.11H636.09ZM970.58 258.89H977.01V262.11H970.58ZM903.04 262.11H906.25V265.32H903.04ZM954.5 262.11H964.15V265.32H954.5ZM529.95 265.32H533.17V268.54H529.95ZM903.04 265.32H906.25V268.54H903.04ZM944.85 265.32H951.28V268.54H944.85ZM903.04 268.54H906.25V271.76H903.04ZM935.2 268.54H941.63V271.76H935.2ZM526.74 271.76H529.95V274.97H526.74ZM903.04 271.76H909.47V274.97H903.04ZM922.34 271.76H931.98V274.97H922.34ZM526.74 274.97H529.95V278.19H526.74ZM574.98 274.97H578.2V278.19H574.98ZM906.25 274.97H915.9V278.19H906.25ZM574.98 278.19H578.2V281.4H574.98ZM529.95 281.4H533.17V284.62H529.95ZM578.2 281.4H581.41V284.62H578.2ZM533.17 284.62H536.39V287.84H533.17ZM539.6 291.05H542.82V294.27H539.6ZM591.06 291.05H594.28V294.27H591.06ZM594.28 294.27H597.49V297.49H594.28ZM549.25 297.49H552.47V300.7H549.25ZM594.28 297.49H600.71V300.7H594.28ZM597.49 300.7H613.58V303.92H597.49ZM558.9 303.92H562.12V307.13H558.9ZM597.49 303.92H629.66V307.13H597.49ZM562.12 307.13H565.33V310.35H562.12ZM591.06 307.13H632.87V310.35H591.06ZM565.33 310.35H568.55V313.57H565.33ZM584.63 310.35H594.28V313.57H584.63ZM613.58 310.35H629.66V313.57H613.58ZM571.76 313.57H578.2V316.78H571.76ZM185.81 400.41H211.54V403.62H185.81ZM176.17 403.62H182.6V406.84H176.17ZM211.54 403.62H217.98V406.84H211.54ZM169.73 406.84H172.95V410.05H169.73ZM217.98 406.84H224.41V410.05H217.98ZM163.3 410.05H166.52V413.27H163.3ZM214.76 410.05H221.19V413.27H214.76ZM140.79 413.27H160.08V416.49H140.79ZM208.33 413.27H217.98V416.49H208.33ZM205.11 416.49H211.54V419.7H205.11ZM201.9 419.7H208.33V422.92H201.9ZM198.68 422.92H201.9V426.14H198.68ZM192.25 426.14H198.68V429.35H192.25ZM189.03 429.35H192.25V432.57H189.03ZM182.6 432.57H185.81V435.78H182.6ZM176.17 435.78H182.6V439H176.17ZM166.52 439H172.95V442.22H166.52ZM156.87 442.22H163.3V445.43H156.87ZM150.44 445.43H153.65V448.65H150.44ZM134.35 448.65H137.57V451.87H134.35ZM140.79 448.65H147.22V451.87H140.79ZM391.65 474.38H394.87V477.6H391.65ZM423.82 474.38H427.03V477.6H423.82ZM427.03 477.6H430.25V480.81H427.03ZM430.25 480.81H433.47V484.03H430.25ZM394.87 496.89H398.09V500.11H394.87ZM439.9 512.97H446.33V516.19H439.9ZM410.95 519.41H414.17V522.62H410.95ZM420.6 529.06H423.82V532.27H420.6Z"/>
<path fill="#1bd0d5" d="M928.77 143.11H944.85V146.32H928.77ZM915.9 146.32H919.12V149.54H915.9ZM909.47 149.54H912.69V152.75H909.47ZM903.04 152.75H909.47V155.97H903.04ZM899.82 155.97H906.25V159.19H899.82ZM896.61 159.19H903.04V162.4H896.61ZM970.58 159.19H973.8V162.4H970.58ZM896.61 162.4H899.82V165.62H896.61ZM893.39 165.62H899.82V168.84H893.39ZM973.8 165.62H977.01V168.84H973.8ZM893.39 168.84H896.61V172.05H893.39ZM890.17 172.05H896.61V175.27H890.17ZM980.23 172.05H1005.96V175.27H980.23ZM890.17 175.27H893.39V178.48H890.17ZM1018.82 175.27H1034.9V178.48H1018.82ZM890.17 178.48H893.39V181.7H890.17ZM1031.69 178.48H1041.34V181.7H1031.69ZM890.17 181.7H893.39V184.92H890.17ZM1038.12 181.7H1044.55V184.92H1038.12ZM890.17 184.92H893.39V188.13H890.17ZM1038.12 184.92H1044.55V188.13H1038.12ZM890.17 188.13H893.39V191.35H890.17ZM1041.34 188.13H1044.55V191.35H1041.34ZM890.17 191.35H893.39V194.57H890.17ZM1041.34 191.35H1044.55V194.57H1041.34ZM890.17 194.57H893.39V197.78H890.17ZM1041.34 194.57H1044.55V197.78H1041.34ZM890.17 197.78H893.39V201H890.17ZM1041.34 197.78H1044.55V201H1041.34ZM890.17 201H893.39V204.21H890.17ZM1041.34 201H1044.55V204.21H1041.34ZM890.17 204.21H893.39V207.43H890.17ZM1038.12 204.21H1044.55V207.43H1038.12ZM890.17 207.43H893.39V210.65H890.17ZM1038.12 207.43H1041.34V210.65H1038.12ZM890.17 210.65H893.39V213.86H890.17ZM1034.9 210.65H1038.12V213.86H1034.9ZM890.17 213.86H893.39V217.08H890.17ZM1031.69 213.86H1034.9V217.08H1031.69ZM893.39 217.08H896.61V220.3H893.39ZM1028.47 217.08H1031.69V220.3H1028.47ZM893.39 220.3H896.61V223.51H893.39ZM1025.26 220.3H1028.47V223.51H1025.26ZM893.39 223.51H896.61V226.73H893.39ZM1022.04 223.51H1025.26V226.73H1022.04ZM893.39 226.73H896.61V229.94H893.39ZM1022.04 226.73H1025.26V229.94H1022.04ZM896.61 229.94H899.82V233.16H896.61ZM1018.82 229.94H1022.04V233.16H1018.82ZM896.61 233.16H899.82V236.38H896.61ZM1015.61 233.16H1018.82V236.38H1015.61ZM584.63 236.38H632.87V239.59H584.63ZM896.61 236.38H899.82V239.59H896.61ZM1012.39 236.38H1015.61V239.59H1012.39ZM571.76 239.59H581.41V242.81H571.76ZM636.09 239.59H642.52V242.81H636.09ZM899.82 239.59H903.04V242.81H899.82ZM1009.17 239.59H1012.39V242.81H1009.17ZM562.12 242.81H571.76V246.03H562.12ZM642.52 242.81H645.74V246.03H642.52ZM899.82 242.81H903.04V246.03H899.82ZM1002.74 242.81H1009.17V246.03H1002.74ZM552.47 246.03H558.9V249.24H552.47ZM642.52 246.03H648.95V249.24H642.52ZM899.82 246.03H903.04V249.24H899.82ZM999.53 246.03H1002.74V249.24H999.53ZM546.03 249.24H549.25V252.46H546.03ZM645.74 249.24H648.95V252.46H645.74ZM903.04 249.24H906.25V252.46H903.04ZM993.09 249.24H999.53V252.46H993.09ZM539.6 252.46H542.82V255.67H539.6ZM642.52 252.46H648.95V255.67H642.52ZM903.04 252.46H906.25V255.67H903.04ZM986.66 252.46H993.09V255.67H986.66ZM536.39 255.67H539.6V258.89H536.39ZM636.09 255.67H642.52V258.89H636.09ZM903.04 255.67H906.25V258.89H903.04ZM973.8 255.67H983.44V258.89H973.8ZM632.87 258.89H636.09V262.11H632.87ZM903.04 258.89H909.47V262.11H903.04ZM960.93 258.89H970.58V262.11H960.93ZM533.17 262.11H536.39V265.32H533.17ZM906.25 262.11H909.47V265.32H906.25ZM948.07 262.11H954.5V265.32H948.07ZM906.25 265.32H909.47V268.54H906.25ZM938.42 265.32H944.85V268.54H938.42ZM529.95 268.54H533.17V271.76H529.95ZM906.25 268.54H912.69V271.76H906.25ZM928.77 268.54H935.2V271.76H928.77ZM909.47 271.76H922.34V274.97H909.47ZM571.76 274.97H574.98V278.19H571.76ZM529.95 278.19H533.17V281.4H529.95ZM581.41 284.62H584.63V287.84H581.41ZM536.39 287.84H539.6V291.05H536.39ZM584.63 287.84H587.85V291.05H584.63ZM587.85 291.05H591.06V294.27H587.85ZM546.03 294.27H549.25V297.49H546.03ZM591.06 294.27H594.28V297.49H591.06ZM552.47 297.49H555.68V300.7H552.47ZM591.06 297.49H594.28V300.7H591.06ZM555.68 300.7H558.9V303.92H555.68ZM594.28 300.7H597.49V303.92H594.28ZM562.12 303.92H565.33V307.13H562.12ZM591.06 303.92H597.49V307.13H591.06ZM565.33 307.13H568.55V310.35H565.33ZM587.85 307.13H591.06V310.35H587.85ZM568.55 310.35H584.63V313.57H568.55ZM182.6 403.62H211.54V406.84H182.6ZM172.95 406.84H182.6V410.05H172.95ZM205.11 406.84H217.98V410.05H205.11ZM166.52 410.05H172.95V413.27H166.52ZM205.11 410.05H214.76V413.27H205.11ZM160.08 413.27H163.3V416.49H160.08ZM201.9 413.27H208.33V416.49H201.9ZM198.68 416.49H205.11V419.7H198.68ZM195.46 419.7H201.9V422.92H195.46ZM192.25 422.92H198.68V426.14H192.25ZM189.03 426.14H192.25V429.35H189.03ZM182.6 429.35H189.03V432.57H182.6ZM179.38 432.57H182.6V435.78H179.38ZM169.73 435.78H176.17V439H169.73ZM160.08 439H166.52V442.22H160.08ZM153.65 442.22H156.87V445.43H153.65ZM147.22 445.43H150.44V448.65H147.22ZM137.57 448.65H140.79V451.87H137.57ZM420.6 474.38H423.82V477.6H420.6ZM430.25 484.03H433.47V487.24H430.25ZM430.25 487.24H433.47V490.46H430.25ZM430.25 490.46H433.47V493.68H430.25ZM430.25 493.68H433.47V496.89H430.25ZM439.9 509.76H443.11V512.97H439.9ZM407.74 516.19H410.95V519.41H407.74ZM427.03 519.41H430.25V522.62H427.03Z"/>
<path fill="#1ad4d0" d="M944.85 143.11H967.36V146.32H944.85ZM919.12 146.32H925.55V149.54H919.12ZM912.69 149.54H915.9V152.75H912.69ZM909.47 152.75H912.69V155.97H909.47ZM906.25 155.97H909.47V159.19H906.25ZM903.04 159.19H906.25V162.4H903.04ZM899.82 162.4H903.04V165.62H899.82ZM970.58 162.4H973.8V165.62H970.58ZM899.82 165.62H903.04V168.84H899.82ZM896.61 168.84H899.82V172.05H896.61ZM973.8 168.84H977.01V172.05H973.8ZM896.61 172.05H899.82V175.27H896.61ZM977.01 172.05H980.23V175.27H977.01ZM893.39 175.27H896.61V178.48H893.39ZM1002.74 175.27H1018.82V178.48H1002.74ZM893.39 178.48H896.61V181.7H893.39ZM1022.04 178.48H1031.69V181.7H1022.04ZM893.39 181.7H896.61V184.92H893.39ZM1028.47 181.7H1038.12V184.92H1028.47ZM893.39 184.92H896.61V188.13H893.39ZM1031.69 184.92H1038.12V188.13H1031.69ZM893.39 188.13H896.61V191.35H893.39ZM1034.9 188.13H1041.34V191.35H1034.9ZM893.39 191.35H896.61V194.57H893.39ZM1034.9 191.35H1041.34V194.57H1034.9ZM893.39 194.57H896.61V197.78H893.39ZM1038.12 194.57H1041.34V197.78H1038.12ZM893.39 197.78H896.61V201H893.39ZM1038.12 197.78H1041.34V201H1038.12ZM893.39 201H896.61V204.21H893.39ZM1034.9 201H1041.34V204.21H1034.9ZM893.39 204.21H896.61V207.43H893.39ZM1034.9 204.21H1038.12V207.43H1034.9ZM893.39 207.43H896.61V210.65H893.39ZM1031.69 207.43H1038.12V210.65H1031.69ZM893.39 210.65H896.61V213.86H893.39ZM1028.47 210.65H1034.9V213.86H1028.47ZM893.39 213.86H896.61V217.08H893.39ZM1025.26 213.86H1031.69V217.08H1025.26ZM896.61 217.08H899.82V220.3H896.61ZM1025.26 217.08H1028.47V220.3H1025.26ZM896.61 220.3H899.82V223.51H896.61ZM1022.04 220.3H1025.26V223.51H1022.04ZM896.61 223.51H899.82V226.73H896.61ZM1018.82 223.51H1022.04V226.73H1018.82ZM896.61 226.73H899.82V229.94H896.61ZM1015.61 226.73H1022.04V229.94H1015.61ZM899.82 229.94H903.04V233.16H899.82ZM1012.39 229.94H1018.82V233.16H1012.39ZM899.82 233.16H903.04V236.38H899.82ZM1009.17 233.16H1015.61V236.38H1009.17ZM899.82 236.38H903.04V239.59H899.82ZM1005.96 236.38H1012.39V239.59H1005.96ZM581.41 239.59H594.28V242.81H581.41ZM623.22 239.59H636.09V242.81H623.22ZM903.04 239.59H906.25V242.81H903.04ZM1002.74 239.59H1009.17V242.81H1002.74ZM571.76 242.81H581.41V246.03H571.76ZM636.09 242.81H642.52V246.03H636.09ZM903.04 242.81H906.25V246.03H903.04ZM996.31 242.81H1002.74V246.03H996.31ZM558.9 246.03H574.98V249.24H558.9ZM639.31 246.03H642.52V249.24H639.31ZM903.04 246.03H909.47V249.24H903.04ZM993.09 246.03H999.53V249.24H993.09ZM549.25 249.24H555.68V252.46H549.25ZM639.31 249.24H645.74V252.46H639.31ZM906.25 249.24H909.47V252.46H906.25ZM986.66 249.24H993.09V252.46H986.66ZM542.82 252.46H546.03V255.67H542.82ZM636.09 252.46H642.52V255.67H636.09ZM906.25 252.46H912.69V255.67H906.25ZM977.01 252.46H986.66V255.67H977.01ZM539.6 255.67H542.82V258.89H539.6ZM632.87 255.67H636.09V258.89H632.87ZM906.25 255.67H912.69V258.89H906.25ZM964.15 255.67H973.8V258.89H964.15ZM536.39 258.89H539.6V262.11H536.39ZM909.47 258.89H915.9V262.11H909.47ZM951.28 258.89H960.93V262.11H951.28ZM909.47 262.11H915.9V265.32H909.47ZM941.63 262.11H948.07V265.32H941.63ZM533.17 265.32H536.39V268.54H533.17ZM909.47 265.32H922.34V268.54H909.47ZM928.77 265.32H938.42V268.54H928.77ZM912.69 268.54H928.77V271.76H912.69ZM529.95 271.76H533.17V274.97H529.95ZM529.95 274.97H533.17V278.19H529.95ZM571.76 278.19H574.98V281.4H571.76ZM533.17 281.4H536.39V284.62H533.17ZM574.98 281.4H578.2V284.62H574.98ZM578.2 284.62H581.41V287.84H578.2ZM581.41 287.84H584.63V291.05H581.41ZM542.82 291.05H546.03V294.27H542.82ZM584.63 291.05H587.85V294.27H584.63ZM549.25 294.27H552.47V297.49H549.25ZM587.85 294.27H591.06V297.49H587.85ZM558.9 300.7H562.12V303.92H558.9ZM591.06 300.7H594.28V303.92H591.06ZM565.33 303.92H568.55V307.13H565.33ZM587.85 303.92H591.06V307.13H587.85ZM568.55 307.13H571.76V310.35H568.55ZM581.41 307.13H587.85V310.35H581.41ZM182.6 406.84H205.11V410.05H182.6ZM172.95 410.05H205.11V413.27H172.95ZM163.3 413.27H172.95V416.49H163.3ZM192.25 413.27H201.9V416.49H192.25ZM137.57 416.49H163.3V419.7H137.57ZM192.25 416.49H198.68V419.7H192.25ZM189.03 419.7H195.46V422.92H189.03ZM185.81 422.92H192.25V426.14H185.81ZM182.6 426.14H189.03V429.35H182.6ZM179.38 429.35H182.6V432.57H179.38ZM169.73 432.57H179.38V435.78H169.73ZM156.87 435.78H169.73V439H156.87ZM153.65 439H160.08V442.22H153.65ZM147.22 442.22H153.65V445.43H147.22ZM140.79 445.43H147.22V448.65H140.79ZM394.87 474.38H404.52V477.6H394.87ZM423.82 477.6H427.03V480.81H423.82ZM427.03 480.81H430.25V484.03H427.03ZM436.68 506.54H439.9V509.76H436.68ZM436.68 512.97H439.9V516.19H436.68ZM430.25 516.19H433.47V519.41H430.25ZM423.82 522.62H427.03V525.84H423.82Z"/>
<path fill="#19d5cd" d="M925.55 146.32H928.77V149.54H925.55ZM915.9 149.54H919.12V152.75H915.9ZM912.69 152.75H915.9V155.97H912.69ZM909.47 155.97H912.69V159.19H909.47ZM906.25 159.19H909.47V162.4H906.25ZM903.04 162.4H906.25V165.62H903.04ZM903.04 165.62H906.25V168.84H903.04ZM970.58 165.62H973.8V168.84H970.58ZM899.82 168.84H903.04V172.05H899.82ZM899.82 172.05H903.04V175.27H899.82ZM896.61 175.27H899.82V178.48H896.61ZM983.44 175.27H1002.74V178.48H983.44ZM896.61 178.48H899.82V181.7H896.61ZM1009.17 178.48H1022.04V181.7H1009.17ZM896.61 181.7H899.82V184.92H896.61ZM1018.82 181.7H1028.47V184.92H1018.82ZM896.61 184.92H899.82V188.13H896.61ZM1022.04 184.92H1031.69V188.13H1022.04ZM896.61 188.13H899.82V191.35H896.61ZM1025.26 188.13H1034.9V191.35H1025.26ZM896.61 191.35H899.82V194.57H896.61ZM1025.26 191.35H1034.9V194.57H1025.26ZM896.61 194.57H899.82V197.78H896.61ZM1028.47 194.57H1038.12V197.78H1028.47ZM896.61 197.78H899.82V201H896.61ZM1028.47 197.78H1038.12V201H1028.47ZM896.61 201H899.82V204.21H896.61ZM1028.47 201H1034.9V204.21H1028.47ZM896.61 204.21H899.82V207.43H896.61ZM1028.47 204.21H1034.9V207.43H1028.47ZM896.61 207.43H899.82V210.65H896.61ZM1028.47 207.43H1031.69V210.65H1028.47ZM896.61 210.65H903.04V213.86H896.61ZM1025.26 210.65H1028.47V213.86H1025.26ZM896.61 213.86H903.04V217.08H896.61ZM1022.04 213.86H1025.26V217.08H1022.04ZM899.82 217.08H903.04V220.3H899.82ZM1018.82 217.08H1025.26V220.3H1018.82ZM899.82 220.3H903.04V223.51H899.82ZM1015.61 220.3H1022.04V223.51H1015.61ZM899.82 223.51H903.04V226.73H899.82ZM1015.61 223.51H1018.82V226.73H1015.61ZM899.82 226.73H903.04V229.94H899.82ZM1012.39 226.73H1015.61V229.94H1012.39ZM903.04 229.94H906.25V233.16H903.04ZM1009.17 229.94H1012.39V233.16H1009.17ZM903.04 233.16H906.25V236.38H903.04ZM1005.96 233.16H1009.17V236.38H1005.96ZM903.04 236.38H909.47V239.59H903.04ZM999.53 236.38H1005.96V239.59H999.53ZM594.28 239.59H623.22V242.81H594.28ZM906.25 239.59H912.69V242.81H906.25ZM996.31 239.59H1002.74V242.81H996.31ZM581.41 242.81H591.06V246.03H581.41ZM626.44 242.81H636.09V246.03H626.44ZM906.25 242.81H912.69V246.03H906.25ZM989.88 242.81H996.31V246.03H989.88ZM574.98 246.03H581.41V249.24H574.98ZM632.87 246.03H639.31V249.24H632.87ZM909.47 246.03H915.9V249.24H909.47ZM983.44 246.03H993.09V249.24H983.44ZM555.68 249.24H578.2V252.46H555.68ZM632.87 249.24H639.31V252.46H632.87ZM909.47 249.24H919.12V252.46H909.47ZM977.01 249.24H986.66V252.46H977.01ZM546.03 252.46H549.25V255.67H546.03ZM568.55 252.46H578.2V255.67H568.55ZM632.87 252.46H636.09V255.67H632.87ZM912.69 252.46H919.12V255.67H912.69ZM967.36 252.46H977.01V255.67H967.36ZM568.55 255.67H578.2V258.89H568.55ZM626.44 255.67H632.87V258.89H626.44ZM912.69 255.67H922.34V258.89H912.69ZM951.28 255.67H964.15V258.89H951.28ZM915.9 258.89H925.55V262.11H915.9ZM941.63 258.89H951.28V262.11H941.63ZM536.39 262.11H539.6V265.32H536.39ZM915.9 262.11H941.63V265.32H915.9ZM922.34 265.32H928.77V268.54H922.34ZM533.17 268.54H536.39V271.76H533.17ZM568.55 278.19H571.76V281.4H568.55ZM571.76 281.4H574.98V284.62H571.76ZM536.39 284.62H539.6V287.84H536.39ZM574.98 284.62H578.2V287.84H574.98ZM539.6 287.84H542.82V291.05H539.6ZM578.2 287.84H581.41V291.05H578.2ZM581.41 291.05H584.63V294.27H581.41ZM552.47 294.27H555.68V297.49H552.47ZM584.63 294.27H587.85V297.49H584.63ZM555.68 297.49H558.9V300.7H555.68ZM587.85 297.49H591.06V300.7H587.85ZM562.12 300.7H565.33V303.92H562.12ZM587.85 300.7H591.06V303.92H587.85ZM568.55 303.92H571.76V307.13H568.55ZM584.63 303.92H587.85V307.13H584.63ZM571.76 307.13H581.41V310.35H571.76ZM172.95 413.27H192.25V416.49H172.95ZM163.3 416.49H192.25V419.7H163.3ZM137.57 419.7H169.73V422.92H137.57ZM182.6 419.7H189.03V422.92H182.6ZM140.79 422.92H163.3V426.14H140.79ZM179.38 422.92H185.81V426.14H179.38ZM156.87 426.14H160.08V429.35H156.87ZM169.73 426.14H182.6V429.35H169.73ZM156.87 429.35H179.38V432.57H156.87ZM153.65 432.57H169.73V435.78H153.65ZM150.44 435.78H156.87V439H150.44ZM147.22 439H153.65V442.22H147.22ZM144 442.22H147.22V445.43H144ZM134.35 445.43H140.79V448.65H134.35ZM404.52 474.38H407.74V477.6H404.52ZM417.38 474.38H420.6V477.6H417.38ZM427.03 484.03H430.25V487.24H427.03ZM427.03 487.24H430.25V490.46H427.03ZM436.68 509.76H439.9V512.97H436.68ZM433.47 512.97H436.68V516.19H433.47ZM417.38 522.62H420.6V525.84H417.38ZM420.6 525.84H423.82V529.06H420.6Z"/>
<path fill="#18d7ca" d="M928.77 146.32H935.2V149.54H928.77ZM960.93 146.32H964.15V149.54H960.93ZM919.12 149.54H922.34V152.75H919.12ZM909.47 159.19H912.69V162.4H909.47ZM906.25 162.4H909.47V165.62H906.25ZM967.36 162.4H970.58V165.62H967.36ZM903.04 168.84H906.25V172.05H903.04ZM903.04 172.05H906.25V175.27H903.04ZM973.8 172.05H977.01V175.27H973.8ZM899.82 175.27H903.04V178.48H899.82ZM980.23 175.27H983.44V178.48H980.23ZM899.82 178.48H903.04V181.7H899.82ZM996.31 178.48H1009.17V181.7H996.31ZM899.82 181.7H903.04V184.92H899.82ZM1009.17 181.7H1018.82V184.92H1009.17ZM899.82 184.92H903.04V188.13H899.82ZM1015.61 184.92H1022.04V188.13H1015.61ZM899.82 188.13H903.04V191.35H899.82ZM1018.82 188.13H1025.26V191.35H1018.82ZM899.82 191.35H903.04V194.57H899.82ZM1018.82 191.35H1025.26V194.57H1018.82ZM899.82 194.57H906.25V197.78H899.82ZM1022.04 194.57H1028.47V197.78H1022.04ZM899.82 197.78H906.25V201H899.82ZM1022.04 197.78H1028.47V201H1022.04ZM899.82 201H906.25V204.21H899.82ZM1022.04 201H1028.47V204.21H1022.04ZM899.82 204.21H906.25V207.43H899.82ZM1022.04 204.21H1028.47V207.43H1022.04ZM899.82 207.43H906.25V210.65H899.82ZM1022.04 207.43H1028.47V210.65H1022.04ZM903.04 210.65H906.25V213.86H903.04ZM1018.82 210.65H1025.26V213.86H1018.82ZM903.04 213.86H906.25V217.08H903.04ZM1015.61 213.86H1022.04V217.08H1015.61ZM903.04 217.08H906.25V220.3H903.04ZM1015.61 217.08H1018.82V220.3H1015.61ZM903.04 220.3H906.25V223.51H903.04ZM1012.39 220.3H1015.61V223.51H1012.39ZM903.04 223.51H909.47V226.73H903.04ZM1009.17 223.51H1015.61V226.73H1009.17ZM903.04 226.73H909.47V229.94H903.04ZM1005.96 226.73H1012.39V229.94H1005.96ZM906.25 229.94H912.69V233.16H906.25ZM999.53 229.94H1009.17V233.16H999.53ZM906.25 233.16H915.9V236.38H906.25ZM996.31 233.16H1005.96V236.38H996.31ZM909.47 236.38H919.12V239.59H909.47ZM993.09 236.38H999.53V239.59H993.09ZM912.69 239.59H922.34V242.81H912.69ZM989.88 239.59H996.31V242.81H989.88ZM591.06 242.81H626.44V246.03H591.06ZM912.69 242.81H922.34V246.03H912.69ZM983.44 242.81H989.88V246.03H983.44ZM581.41 246.03H587.85V249.24H581.41ZM623.22 246.03H632.87V249.24H623.22ZM915.9 246.03H925.55V249.24H915.9ZM973.8 246.03H983.44V249.24H973.8ZM578.2 249.24H581.41V252.46H578.2ZM626.44 249.24H632.87V252.46H626.44ZM919.12 249.24H928.77V252.46H919.12ZM967.36 249.24H977.01V252.46H967.36ZM549.25 252.46H555.68V255.67H549.25ZM562.12 252.46H568.55V255.67H562.12ZM626.44 252.46H632.87V255.67H626.44ZM919.12 252.46H928.77V255.67H919.12ZM948.07 252.46H967.36V255.67H948.07ZM542.82 255.67H546.03V258.89H542.82ZM565.33 255.67H568.55V258.89H565.33ZM578.2 255.67H581.41V258.89H578.2ZM620.01 255.67H626.44V258.89H620.01ZM922.34 255.67H935.2V258.89H922.34ZM938.42 255.67H951.28V258.89H938.42ZM539.6 258.89H542.82V262.11H539.6ZM925.55 258.89H941.63V262.11H925.55ZM536.39 265.32H539.6V268.54H536.39ZM533.17 271.76H536.39V274.97H533.17ZM533.17 274.97H536.39V278.19H533.17ZM533.17 278.19H536.39V281.4H533.17ZM568.55 281.4H571.76V284.62H568.55ZM571.76 284.62H574.98V287.84H571.76ZM574.98 287.84H578.2V291.05H574.98ZM546.03 291.05H549.25V294.27H546.03ZM555.68 294.27H558.9V297.49H555.68ZM558.9 297.49H565.33V300.7H558.9ZM584.63 297.49H587.85V300.7H584.63ZM565.33 300.7H568.55V303.92H565.33ZM584.63 300.7H587.85V303.92H584.63ZM571.76 303.92H584.63V307.13H571.76ZM169.73 419.7H182.6V422.92H169.73ZM137.57 422.92H140.79V426.14H137.57ZM163.3 422.92H179.38V426.14H163.3ZM137.57 426.14H156.87V429.35H137.57ZM160.08 426.14H169.73V429.35H160.08ZM137.57 429.35H156.87V432.57H137.57ZM144 432.57H153.65V435.78H144ZM144 435.78H150.44V439H144ZM140.79 439H147.22V442.22H140.79ZM134.35 442.22H144V445.43H134.35ZM407.74 474.38H410.95V477.6H407.74ZM414.17 474.38H417.38V477.6H414.17ZM420.6 477.6H423.82V480.81H420.6ZM423.82 480.81H427.03V484.03H423.82ZM427.03 490.46H430.25V493.68H427.03ZM427.03 493.68H430.25V496.89H427.03Z"/>
<path fill="#18d9c8" d="M935.2 146.32H941.63V149.54H935.2ZM957.71 146.32H960.93V149.54H957.71ZM922.34 149.54H925.55V152.75H922.34ZM915.9 152.75H919.12V155.97H915.9ZM912.69 155.97H915.9V159.19H912.69ZM909.47 162.4H912.69V165.62H909.47ZM906.25 165.62H909.47V168.84H906.25ZM967.36 165.62H970.58V168.84H967.36ZM906.25 168.84H909.47V172.05H906.25ZM970.58 168.84H973.8V172.05H970.58ZM903.04 175.27H906.25V178.48H903.04ZM977.01 175.27H980.23V178.48H977.01ZM903.04 178.48H906.25V181.7H903.04ZM986.66 178.48H996.31V181.7H986.66ZM903.04 181.7H906.25V184.92H903.04ZM996.31 181.7H1009.17V184.92H996.31ZM903.04 184.92H906.25V188.13H903.04ZM1002.74 184.92H1015.61V188.13H1002.74ZM903.04 188.13H906.25V191.35H903.04ZM1012.39 188.13H1018.82V191.35H1012.39ZM903.04 191.35H909.47V194.57H903.04ZM1015.61 191.35H1018.82V194.57H1015.61ZM906.25 194.57H909.47V197.78H906.25ZM1015.61 194.57H1022.04V197.78H1015.61ZM906.25 197.78H909.47V201H906.25ZM1015.61 197.78H1022.04V201H1015.61ZM906.25 201H909.47V204.21H906.25ZM1015.61 201H1022.04V204.21H1015.61ZM906.25 204.21H909.47V207.43H906.25ZM1015.61 204.21H1022.04V207.43H1015.61ZM906.25 207.43H909.47V210.65H906.25ZM1015.61 207.43H1022.04V210.65H1015.61ZM906.25 210.65H909.47V213.86H906.25ZM1012.39 210.65H1018.82V213.86H1012.39ZM906.25 213.86H909.47V217.08H906.25ZM1009.17 213.86H1015.61V217.08H1009.17ZM906.25 217.08H909.47V220.3H906.25ZM1005.96 217.08H1015.61V220.3H1005.96ZM906.25 220.3H912.69V223.51H906.25ZM1002.74 220.3H1012.39V223.51H1002.74ZM909.47 223.51H915.9V226.73H909.47ZM999.53 223.51H1009.17V226.73H999.53ZM909.47 226.73H919.12V229.94H909.47ZM996.31 226.73H1005.96V229.94H996.31ZM912.69 229.94H922.34V233.16H912.69ZM993.09 229.94H999.53V233.16H993.09ZM915.9 233.16H925.55V236.38H915.9ZM989.88 233.16H996.31V236.38H989.88ZM919.12 236.38H925.55V239.59H919.12ZM986.66 236.38H993.09V239.59H986.66ZM922.34 239.59H928.77V242.81H922.34ZM980.23 239.59H989.88V242.81H980.23ZM922.34 242.81H931.98V246.03H922.34ZM973.8 242.81H983.44V246.03H973.8ZM587.85 246.03H623.22V249.24H587.85ZM925.55 246.03H938.42V249.24H925.55ZM967.36 246.03H973.8V249.24H967.36ZM581.41 249.24H584.63V252.46H581.41ZM613.58 249.24H626.44V252.46H613.58ZM928.77 249.24H967.36V252.46H928.77ZM555.68 252.46H562.12V255.67H555.68ZM578.2 252.46H581.41V255.67H578.2ZM616.79 252.46H626.44V255.67H616.79ZM928.77 252.46H948.07V255.67H928.77ZM546.03 255.67H549.25V258.89H546.03ZM562.12 255.67H565.33V258.89H562.12ZM613.58 255.67H620.01V258.89H613.58ZM935.2 255.67H938.42V258.89H935.2ZM565.33 258.89H568.55V262.11H565.33ZM539.6 262.11H542.82V265.32H539.6ZM536.39 281.4H539.6V284.62H536.39ZM565.33 281.4H568.55V284.62H565.33ZM539.6 284.62H542.82V287.84H539.6ZM568.55 284.62H571.76V287.84H568.55ZM542.82 287.84H546.03V291.05H542.82ZM571.76 287.84H574.98V291.05H571.76ZM549.25 291.05H552.47V294.27H549.25ZM578.2 291.05H581.41V294.27H578.2ZM558.9 294.27H562.12V297.49H558.9ZM581.41 294.27H584.63V297.49H581.41ZM565.33 297.49H568.55V300.7H565.33ZM581.41 297.49H584.63V300.7H581.41ZM568.55 300.7H574.98V303.92H568.55ZM581.41 300.7H584.63V303.92H581.41ZM137.57 432.57H144V435.78H137.57ZM134.35 435.78H144V439H134.35ZM134.35 439H140.79V442.22H134.35ZM410.95 474.38H414.17V477.6H410.95ZM391.65 477.6H394.87V480.81H391.65ZM394.87 480.81H398.09V484.03H394.87ZM423.82 484.03H427.03V487.24H423.82ZM410.95 516.19H414.17V519.41H410.95ZM414.17 519.41H417.38V522.62H414.17Z"/>
<path fill="#18ddc2" d="M941.63 146.32H957.71V149.54H941.63ZM925.55 149.54H928.77V152.75H925.55ZM919.12 152.75H922.34V155.97H919.12ZM915.9 155.97H919.12V159.19H915.9ZM912.69 159.19H915.9V162.4H912.69ZM909.47 165.62H912.69V168.84H909.47ZM909.47 168.84H912.69V172.05H909.47ZM906.25 172.05H909.47V175.27H906.25ZM970.58 172.05H973.8V175.27H970.58ZM906.25 175.27H909.47V178.48H906.25ZM973.8 175.27H977.01V178.48H973.8ZM906.25 178.48H909.47V181.7H906.25ZM980.23 178.48H986.66V181.7H980.23ZM906.25 181.7H909.47V184.92H906.25ZM989.88 181.7H996.31V184.92H989.88ZM906.25 184.92H909.47V188.13H906.25ZM993.09 184.92H1002.74V188.13H993.09ZM906.25 188.13H909.47V191.35H906.25ZM996.31 188.13H1012.39V191.35H996.31ZM909.47 191.35H912.69V194.57H909.47ZM1002.74 191.35H1015.61V194.57H1002.74ZM909.47 194.57H912.69V197.78H909.47ZM1009.17 194.57H1015.61V197.78H1009.17ZM909.47 197.78H912.69V201H909.47ZM1009.17 197.78H1015.61V201H1009.17ZM909.47 201H912.69V204.21H909.47ZM1009.17 201H1015.61V204.21H1009.17ZM909.47 204.21H912.69V207.43H909.47ZM1009.17 204.21H1015.61V207.43H1009.17ZM909.47 207.43H912.69V210.65H909.47ZM1009.17 207.43H1015.61V210.65H1009.17ZM909.47 210.65H912.69V213.86H909.47ZM1005.96 210.65H1012.39V213.86H1005.96ZM909.47 213.86H915.9V217.08H909.47ZM1002.74 213.86H1009.17V217.08H1002.74ZM909.47 217.08H915.9V220.3H909.47ZM999.53 217.08H1005.96V220.3H999.53ZM912.69 220.3H919.12V223.51H912.69ZM996.31 220.3H1002.74V223.51H996.31ZM915.9 223.51H922.34V226.73H915.9ZM993.09 223.51H999.53V226.73H993.09ZM919.12 226.73H925.55V229.94H919.12ZM989.88 226.73H996.31V229.94H989.88ZM922.34 229.94H928.77V233.16H922.34ZM986.66 229.94H993.09V233.16H986.66ZM925.55 233.16H931.98V236.38H925.55ZM983.44 233.16H989.88V236.38H983.44ZM925.55 236.38H935.2V239.59H925.55ZM980.23 236.38H986.66V239.59H980.23ZM928.77 239.59H941.63V242.81H928.77ZM973.8 239.59H980.23V242.81H973.8ZM931.98 242.81H948.07V246.03H931.98ZM964.15 242.81H973.8V246.03H964.15ZM938.42 246.03H967.36V249.24H938.42ZM584.63 249.24H591.06V252.46H584.63ZM600.71 249.24H613.58V252.46H600.71ZM581.41 252.46H584.63V255.67H581.41ZM607.14 252.46H616.79V255.67H607.14ZM549.25 255.67H555.68V258.89H549.25ZM558.9 255.67H562.12V258.89H558.9ZM581.41 255.67H584.63V258.89H581.41ZM607.14 255.67H613.58V258.89H607.14ZM542.82 258.89H546.03V262.11H542.82ZM562.12 258.89H565.33V262.11H562.12ZM562.12 262.11H565.33V265.32H562.12ZM536.39 268.54H539.6V271.76H536.39ZM536.39 278.19H539.6V281.4H536.39ZM565.33 284.62H568.55V287.84H565.33ZM546.03 287.84H549.25V291.05H546.03ZM568.55 287.84H571.76V291.05H568.55ZM555.68 291.05H558.9V294.27H555.68ZM571.76 291.05H578.2V294.27H571.76ZM562.12 294.27H568.55V297.49H562.12ZM574.98 294.27H581.41V297.49H574.98ZM568.55 297.49H581.41V300.7H568.55ZM574.98 300.7H581.41V303.92H574.98ZM394.87 477.6H404.52V480.81H394.87ZM417.38 477.6H420.6V480.81H417.38ZM420.6 480.81H423.82V484.03H420.6ZM423.82 487.24H427.03V490.46H423.82ZM423.82 490.46H427.03V493.68H423.82ZM433.47 509.76H436.68V512.97H433.47ZM407.74 512.97H410.95V516.19H407.74ZM430.25 512.97H433.47V516.19H430.25ZM427.03 516.19H430.25V519.41H427.03ZM423.82 519.41H427.03V522.62H423.82ZM420.6 522.62H423.82V525.84H420.6Z"/>
<path fill="#18dec0" d="M928.77 149.54H931.98V152.75H928.77ZM957.71 149.54H960.93V152.75H957.71ZM912.69 162.4H915.9V165.62H912.69ZM967.36 168.84H970.58V172.05H967.36ZM909.47 172.05H912.69V175.27H909.47ZM909.47 175.27H912.69V178.48H909.47ZM909.47 178.48H912.69V181.7H909.47ZM977.01 178.48H980.23V181.7H977.01ZM909.47 181.7H912.69V184.92H909.47ZM986.66 181.7H989.88V184.92H986.66ZM909.47 184.92H912.69V188.13H909.47ZM989.88 184.92H993.09V188.13H989.88ZM909.47 188.13H912.69V191.35H909.47ZM993.09 188.13H996.31V191.35H993.09ZM996.31 191.35H1002.74V194.57H996.31ZM912.69 194.57H915.9V197.78H912.69ZM996.31 194.57H1009.17V197.78H996.31ZM912.69 197.78H915.9V201H912.69ZM999.53 197.78H1009.17V201H999.53ZM912.69 201H915.9V204.21H912.69ZM1002.74 201H1009.17V204.21H1002.74ZM912.69 204.21H915.9V207.43H912.69ZM1002.74 204.21H1009.17V207.43H1002.74ZM912.69 207.43H919.12V210.65H912.69ZM999.53 207.43H1009.17V210.65H999.53ZM912.69 210.65H919.12V213.86H912.69ZM999.53 210.65H1005.96V213.86H999.53ZM915.9 213.86H922.34V217.08H915.9ZM996.31 213.86H1002.74V217.08H996.31ZM915.9 217.08H925.55V220.3H915.9ZM993.09 217.08H999.53V220.3H993.09ZM919.12 220.3H925.55V223.51H919.12ZM989.88 220.3H996.31V223.51H989.88ZM922.34 223.51H928.77V226.73H922.34ZM989.88 223.51H993.09V226.73H989.88ZM925.55 226.73H931.98V229.94H925.55ZM986.66 226.73H989.88V229.94H986.66ZM928.77 229.94H935.2V233.16H928.77ZM983.44 229.94H986.66V233.16H983.44ZM931.98 233.16H938.42V236.38H931.98ZM980.23 233.16H983.44V236.38H980.23ZM935.2 236.38H941.63V239.59H935.2ZM973.8 236.38H980.23V239.59H973.8ZM941.63 239.59H951.28V242.81H941.63ZM960.93 239.59H973.8V242.81H960.93ZM948.07 242.81H964.15V246.03H948.07ZM591.06 249.24H600.71V252.46H591.06ZM584.63 252.46H591.06V255.67H584.63ZM597.49 252.46H607.14V255.67H597.49ZM555.68 255.67H558.9V258.89H555.68ZM584.63 255.67H587.85V258.89H584.63ZM597.49 255.67H607.14V258.89H597.49ZM546.03 258.89H549.25V262.11H546.03ZM558.9 258.89H562.12V262.11H558.9ZM542.82 262.11H546.03V265.32H542.82ZM539.6 265.32H542.82V268.54H539.6ZM536.39 271.76H539.6V274.97H536.39ZM536.39 274.97H539.6V278.19H536.39ZM539.6 281.4H542.82V284.62H539.6ZM542.82 284.62H546.03V287.84H542.82ZM562.12 284.62H565.33V287.84H562.12ZM562.12 287.84H568.55V291.05H562.12ZM558.9 291.05H571.76V294.27H558.9ZM568.55 294.27H574.98V297.49H568.55ZM398.09 480.81H401.3V484.03H398.09ZM398.09 484.03H401.3V487.24H398.09ZM420.6 484.03H423.82V487.24H420.6Z"/>
<path fill="#18e0bd" d="M931.98 149.54H938.42V152.75H931.98ZM954.5 149.54H957.71V152.75H954.5ZM922.34 152.75H925.55V155.97H922.34ZM919.12 155.97H922.34V159.19H919.12ZM915.9 159.19H919.12V162.4H915.9ZM912.69 165.62H915.9V168.84H912.69ZM912.69 168.84H915.9V172.05H912.69ZM912.69 172.05H915.9V175.27H912.69ZM912.69 175.27H915.9V178.48H912.69ZM970.58 175.27H973.8V178.48H970.58ZM912.69 178.48H915.9V181.7H912.69ZM912.69 181.7H915.9V184.92H912.69ZM980.23 181.7H986.66V184.92H980.23ZM912.69 184.92H915.9V188.13H912.69ZM986.66 184.92H989.88V188.13H986.66ZM912.69 188.13H915.9V191.35H912.69ZM989.88 188.13H993.09V191.35H989.88ZM912.69 191.35H915.9V194.57H912.69ZM993.09 191.35H996.31V194.57H993.09ZM915.9 194.57H919.12V197.78H915.9ZM993.09 194.57H996.31V197.78H993.09ZM915.9 197.78H919.12V201H915.9ZM993.09 197.78H999.53V201H993.09ZM915.9 201H919.12V204.21H915.9ZM996.31 201H1002.74V204.21H996.31ZM915.9 204.21H922.34V207.43H915.9ZM996.31 204.21H1002.74V207.43H996.31ZM919.12 207.43H922.34V210.65H919.12ZM996.31 207.43H999.53V210.65H996.31ZM919.12 210.65H925.55V213.86H919.12ZM993.09 210.65H999.53V213.86H993.09ZM922.34 213.86H928.77V217.08H922.34ZM993.09 213.86H996.31V217.08H993.09ZM925.55 217.08H928.77V220.3H925.55ZM989.88 217.08H993.09V220.3H989.88ZM925.55 220.3H931.98V223.51H925.55ZM986.66 220.3H989.88V223.51H986.66ZM928.77 223.51H935.2V226.73H928.77ZM986.66 223.51H989.88V226.73H986.66ZM931.98 226.73H938.42V229.94H931.98ZM983.44 226.73H986.66V229.94H983.44ZM935.2 229.94H941.63V233.16H935.2ZM980.23 229.94H983.44V233.16H980.23ZM938.42 233.16H944.85V236.38H938.42ZM977.01 233.16H980.23V236.38H977.01ZM941.63 236.38H973.8V239.59H941.63ZM951.28 239.59H960.93V242.81H951.28ZM591.06 252.46H597.49V255.67H591.06ZM587.85 255.67H597.49V258.89H587.85ZM549.25 258.89H558.9V262.11H549.25ZM558.9 262.11H562.12V265.32H558.9ZM558.9 265.32H562.12V268.54H558.9ZM539.6 268.54H542.82V271.76H539.6ZM546.03 284.62H549.25V287.84H546.03ZM558.9 287.84H562.12V291.05H558.9ZM404.52 477.6H407.74V480.81H404.52ZM414.17 477.6H417.38V480.81H414.17ZM420.6 487.24H423.82V490.46H420.6ZM420.6 490.46H423.82V493.68H420.6ZM430.25 509.76H433.47V512.97H430.25ZM417.38 519.41H420.6V522.62H417.38Z"/>
<path fill="#19e2bb" d="M938.42 149.54H941.63V152.75H938.42ZM951.28 149.54H954.5V152.75H951.28ZM925.55 152.75H928.77V155.97H925.55ZM915.9 162.4H919.12V165.62H915.9ZM915.9 165.62H919.12V168.84H915.9ZM915.9 168.84H919.12V172.05H915.9ZM964.15 168.84H967.36V172.05H964.15ZM967.36 172.05H970.58V175.27H967.36ZM973.8 178.48H977.01V181.7H973.8ZM915.9 181.7H919.12V184.92H915.9ZM977.01 181.7H980.23V184.92H977.01ZM915.9 184.92H919.12V188.13H915.9ZM983.44 184.92H986.66V188.13H983.44ZM915.9 188.13H919.12V191.35H915.9ZM986.66 188.13H989.88V191.35H986.66ZM915.9 191.35H919.12V194.57H915.9ZM989.88 191.35H993.09V194.57H989.88ZM989.88 194.57H993.09V197.78H989.88ZM919.12 197.78H922.34V201H919.12ZM919.12 201H922.34V204.21H919.12ZM993.09 201H996.31V204.21H993.09ZM922.34 204.21H925.55V207.43H922.34ZM993.09 204.21H996.31V207.43H993.09ZM922.34 207.43H925.55V210.65H922.34ZM993.09 207.43H996.31V210.65H993.09ZM925.55 210.65H928.77V213.86H925.55ZM989.88 210.65H993.09V213.86H989.88ZM928.77 213.86H931.98V217.08H928.77ZM989.88 213.86H993.09V217.08H989.88ZM928.77 217.08H931.98V220.3H928.77ZM986.66 217.08H989.88V220.3H986.66ZM931.98 220.3H935.2V223.51H931.98ZM983.44 220.3H986.66V223.51H983.44ZM935.2 223.51H938.42V226.73H935.2ZM983.44 223.51H986.66V226.73H983.44ZM938.42 226.73H941.63V229.94H938.42ZM980.23 226.73H983.44V229.94H980.23ZM941.63 229.94H944.85V233.16H941.63ZM977.01 229.94H980.23V233.16H977.01ZM944.85 233.16H954.5V236.38H944.85ZM967.36 233.16H977.01V236.38H967.36ZM546.03 262.11H549.25V265.32H546.03ZM552.47 262.11H558.9V265.32H552.47ZM542.82 265.32H546.03V268.54H542.82ZM555.68 265.32H558.9V268.54H555.68ZM539.6 271.76H542.82V274.97H539.6ZM539.6 274.97H542.82V278.19H539.6ZM539.6 278.19H542.82V281.4H539.6ZM542.82 281.4H546.03V284.62H542.82ZM407.74 477.6H414.17V480.81H407.74ZM401.3 480.81H404.52V484.03H401.3ZM417.38 480.81H420.6V484.03H417.38ZM414.17 516.19H417.38V519.41H414.17Z"/>
<path fill="#19e3b9" d="M941.63 149.54H951.28V152.75H941.63ZM928.77 152.75H931.98V155.97H928.77ZM954.5 152.75H957.71V155.97H954.5ZM922.34 155.97H925.55V159.19H922.34ZM919.12 159.19H922.34V162.4H919.12ZM915.9 172.05H919.12V175.27H915.9ZM915.9 175.27H919.12V178.48H915.9ZM915.9 178.48H919.12V181.7H915.9ZM980.23 184.92H983.44V188.13H980.23ZM919.12 188.13H922.34V191.35H919.12ZM919.12 191.35H922.34V194.57H919.12ZM986.66 191.35H989.88V194.57H986.66ZM919.12 194.57H922.34V197.78H919.12ZM922.34 197.78H925.55V201H922.34ZM989.88 197.78H993.09V201H989.88ZM922.34 201H925.55V204.21H922.34ZM989.88 201H993.09V204.21H989.88ZM925.55 204.21H928.77V207.43H925.55ZM989.88 204.21H993.09V207.43H989.88ZM925.55 207.43H928.77V210.65H925.55ZM989.88 207.43H993.09V210.65H989.88ZM928.77 210.65H931.98V213.86H928.77ZM986.66 213.86H989.88V217.08H986.66ZM931.98 217.08H935.2V220.3H931.98ZM983.44 217.08H986.66V220.3H983.44ZM935.2 220.3H938.42V223.51H935.2ZM938.42 223.51H941.63V226.73H938.42ZM980.23 223.51H983.44V226.73H980.23ZM941.63 226.73H944.85V229.94H941.63ZM977.01 226.73H980.23V229.94H977.01ZM944.85 229.94H954.5V233.16H944.85ZM970.58 229.94H977.01V233.16H970.58ZM954.5 233.16H967.36V236.38H954.5ZM549.25 262.11H552.47V265.32H549.25ZM546.03 265.32H549.25V268.54H546.03ZM552.47 265.32H555.68V268.54H552.47ZM542.82 268.54H546.03V271.76H542.82ZM555.68 268.54H558.9V271.76H555.68ZM417.38 484.03H420.6V487.24H417.38ZM417.38 487.24H420.6V490.46H417.38ZM417.38 490.46H420.6V493.68H417.38ZM427.03 512.97H430.25V516.19H427.03ZM423.82 516.19H427.03V519.41H423.82ZM420.6 519.41H423.82V522.62H420.6Z"/>
<path fill="#1ae4b6" d="M931.98 152.75H935.2V155.97H931.98ZM951.28 152.75H954.5V155.97H951.28ZM925.55 155.97H928.77V159.19H925.55ZM922.34 159.19H925.55V162.4H922.34ZM919.12 162.4H922.34V165.62H919.12ZM919.12 165.62H922.34V168.84H919.12ZM919.12 168.84H922.34V172.05H919.12ZM919.12 172.05H922.34V175.27H919.12ZM964.15 172.05H967.36V175.27H964.15ZM919.12 175.27H922.34V178.48H919.12ZM967.36 175.27H970.58V178.48H967.36ZM919.12 178.48H922.34V181.7H919.12ZM970.58 178.48H973.8V181.7H970.58ZM919.12 181.7H922.34V184.92H919.12ZM973.8 181.7H977.01V184.92H973.8ZM919.12 184.92H922.34V188.13H919.12ZM977.01 184.92H980.23V188.13H977.01ZM983.44 188.13H986.66V191.35H983.44ZM922.34 191.35H925.55V194.57H922.34ZM922.34 194.57H925.55V197.78H922.34ZM986.66 194.57H989.88V197.78H986.66ZM986.66 197.78H989.88V201H986.66ZM925.55 201H928.77V204.21H925.55ZM928.77 207.43H931.98V210.65H928.77ZM986.66 207.43H989.88V210.65H986.66ZM931.98 210.65H935.2V213.86H931.98ZM986.66 210.65H989.88V213.86H986.66ZM931.98 213.86H935.2V217.08H931.98ZM983.44 213.86H986.66V217.08H983.44ZM935.2 217.08H938.42V220.3H935.2ZM938.42 220.3H941.63V223.51H938.42ZM980.23 220.3H983.44V223.51H980.23ZM941.63 223.51H944.85V226.73H941.63ZM977.01 223.51H980.23V226.73H977.01ZM944.85 226.73H951.28V229.94H944.85ZM973.8 226.73H977.01V229.94H973.8ZM954.5 229.94H970.58V233.16H954.5ZM549.25 265.32H552.47V268.54H549.25ZM552.47 268.54H555.68V271.76H552.47ZM542.82 271.76H546.03V274.97H542.82ZM542.82 274.97H546.03V278.19H542.82ZM542.82 278.19H546.03V281.4H542.82ZM546.03 281.4H549.25V284.62H546.03ZM414.17 480.81H417.38V484.03H414.17ZM401.3 484.03H404.52V487.24H401.3ZM401.3 487.24H404.52V490.46H401.3Z"/>
<path fill="#1de7b2" d="M935.2 152.75H941.63V155.97H935.2ZM948.07 152.75H951.28V155.97H948.07ZM922.34 162.4H925.55V165.62H922.34ZM922.34 184.92H925.55V188.13H922.34ZM922.34 188.13H925.55V191.35H922.34ZM980.23 188.13H983.44V191.35H980.23ZM983.44 191.35H986.66V194.57H983.44ZM925.55 194.57H928.77V197.78H925.55ZM925.55 197.78H928.77V201H925.55ZM928.77 201H931.98V204.21H928.77ZM986.66 201H989.88V204.21H986.66ZM928.77 204.21H931.98V207.43H928.77ZM986.66 204.21H989.88V207.43H986.66ZM931.98 207.43H935.2V210.65H931.98ZM983.44 210.65H986.66V213.86H983.44ZM935.2 213.86H938.42V217.08H935.2ZM980.23 217.08H983.44V220.3H980.23ZM941.63 220.3H944.85V223.51H941.63ZM977.01 220.3H980.23V223.51H977.01ZM944.85 223.51H948.07V226.73H944.85ZM951.28 226.73H960.93V229.94H951.28ZM967.36 226.73H973.8V229.94H967.36ZM546.03 268.54H552.47V271.76H546.03ZM552.47 271.76H555.68V274.97H552.47ZM546.03 278.19H549.25V281.4H546.03ZM404.52 480.81H407.74V484.03H404.52ZM410.95 480.81H414.17V484.03H410.95ZM414.17 484.03H417.38V487.24H414.17ZM414.17 487.24H417.38V490.46H414.17Z"/>
<path fill="#1fe9af" d="M941.63 152.75H948.07V155.97H941.63ZM928.77 155.97H935.2V159.19H928.77ZM951.28 155.97H954.5V159.19H951.28ZM925.55 159.19H928.77V162.4H925.55ZM922.34 165.62H925.55V168.84H922.34ZM922.34 168.84H925.55V172.05H922.34ZM922.34 172.05H925.55V175.27H922.34ZM922.34 175.27H925.55V178.48H922.34ZM964.15 175.27H967.36V178.48H964.15ZM922.34 178.48H925.55V181.7H922.34ZM967.36 178.48H970.58V181.7H967.36ZM922.34 181.7H925.55V184.92H922.34ZM970.58 181.7H973.8V184.92H970.58ZM973.8 184.92H977.01V188.13H973.8ZM925.55 188.13H928.77V191.35H925.55ZM977.01 188.13H980.23V191.35H977.01ZM925.55 191.35H928.77V194.57H925.55ZM980.23 191.35H983.44V194.57H980.23ZM983.44 194.57H986.66V197.78H983.44ZM928.77 197.78H931.98V201H928.77ZM983.44 197.78H986.66V201H983.44ZM931.98 204.21H935.2V207.43H931.98ZM983.44 207.43H986.66V210.65H983.44ZM935.2 210.65H938.42V213.86H935.2ZM980.23 213.86H983.44V217.08H980.23ZM938.42 217.08H941.63V220.3H938.42ZM948.07 223.51H954.5V226.73H948.07ZM970.58 223.51H977.01V226.73H970.58ZM960.93 226.73H967.36V229.94H960.93ZM546.03 271.76H552.47V274.97H546.03ZM546.03 274.97H552.47V278.19H546.03ZM549.25 278.19H552.47V281.4H549.25ZM407.74 480.81H410.95V484.03H407.74ZM404.52 484.03H407.74V487.24H404.52ZM410.95 484.03H414.17V487.24H410.95ZM404.52 487.24H407.74V490.46H404.52ZM410.95 487.24H414.17V490.46H410.95ZM414.17 512.97H417.38V516.19H414.17ZM423.82 512.97H427.03V516.19H423.82ZM417.38 516.19H420.6V519.41H417.38Z"/>
<path fill="#20eaac" d="M935.2 155.97H941.63V159.19H935.2ZM948.07 155.97H951.28V159.19H948.07ZM928.77 159.19H931.98V162.4H928.77ZM925.55 162.4H928.77V165.62H925.55ZM960.93 172.05H964.15V175.27H960.93ZM925.55 184.92H928.77V188.13H925.55ZM928.77 194.57H931.98V197.78H928.77ZM980.23 194.57H983.44V197.78H980.23ZM931.98 201H935.2V204.21H931.98ZM983.44 201H986.66V204.21H983.44ZM983.44 204.21H986.66V207.43H983.44ZM935.2 207.43H938.42V210.65H935.2ZM980.23 210.65H983.44V213.86H980.23ZM938.42 213.86H941.63V217.08H938.42ZM941.63 217.08H944.85V220.3H941.63ZM977.01 217.08H980.23V220.3H977.01ZM944.85 220.3H948.07V223.51H944.85ZM973.8 220.3H977.01V223.51H973.8ZM954.5 223.51H970.58V226.73H954.5ZM407.74 484.03H410.95V487.24H407.74ZM407.74 487.24H410.95V490.46H407.74ZM420.6 516.19H423.82V519.41H420.6Z"/>
<path fill="#22ebaa" d="M941.63 155.97H948.07V159.19H941.63ZM931.98 159.19H935.2V162.4H931.98ZM925.55 165.62H928.77V168.84H925.55ZM925.55 168.84H928.77V172.05H925.55ZM925.55 172.05H928.77V175.27H925.55ZM925.55 178.48H928.77V181.7H925.55ZM964.15 178.48H967.36V181.7H964.15ZM925.55 181.7H928.77V184.92H925.55ZM967.36 181.7H970.58V184.92H967.36ZM970.58 184.92H973.8V188.13H970.58ZM928.77 188.13H931.98V191.35H928.77ZM973.8 188.13H977.01V191.35H973.8ZM928.77 191.35H931.98V194.57H928.77ZM977.01 191.35H980.23V194.57H977.01ZM931.98 197.78H935.2V201H931.98ZM980.23 197.78H983.44V201H980.23ZM935.2 204.21H938.42V207.43H935.2ZM980.23 207.43H983.44V210.65H980.23ZM938.42 210.65H941.63V213.86H938.42ZM977.01 213.86H980.23V217.08H977.01ZM944.85 217.08H948.07V220.3H944.85ZM973.8 217.08H977.01V220.3H973.8ZM948.07 220.3H957.71V223.51H948.07ZM967.36 220.3H973.8V223.51H967.36Z"/>
<path fill="#25eca7" d="M935.2 159.19H951.28V162.4H935.2ZM928.77 162.4H935.2V165.62H928.77ZM928.77 165.62H931.98V168.84H928.77ZM925.55 175.27H928.77V178.48H925.55ZM960.93 175.27H964.15V178.48H960.93ZM928.77 184.92H931.98V188.13H928.77ZM931.98 191.35H935.2V194.57H931.98ZM931.98 194.57H935.2V197.78H931.98ZM977.01 194.57H980.23V197.78H977.01ZM935.2 201H938.42V204.21H935.2ZM980.23 201H983.44V204.21H980.23ZM980.23 204.21H983.44V207.43H980.23ZM938.42 207.43H941.63V210.65H938.42ZM977.01 210.65H980.23V213.86H977.01ZM941.63 213.86H944.85V217.08H941.63ZM973.8 213.86H977.01V217.08H973.8ZM948.07 217.08H951.28V220.3H948.07ZM970.58 217.08H973.8V220.3H970.58ZM957.71 220.3H967.36V223.51H957.71ZM417.38 512.97H423.82V516.19H417.38Z"/>
<path fill="#27eea4" d="M935.2 162.4H948.07V165.62H935.2ZM931.98 165.62H935.2V168.84H931.98ZM928.77 168.84H931.98V172.05H928.77ZM928.77 172.05H931.98V175.27H928.77ZM960.93 178.48H964.15V181.7H960.93ZM928.77 181.7H931.98V184.92H928.77ZM964.15 181.7H967.36V184.92H964.15ZM967.36 184.92H970.58V188.13H967.36ZM931.98 188.13H935.2V191.35H931.98ZM970.58 188.13H973.8V191.35H970.58ZM973.8 191.35H977.01V194.57H973.8ZM935.2 197.78H938.42V201H935.2ZM977.01 197.78H980.23V201H977.01ZM938.42 204.21H941.63V207.43H938.42ZM977.01 204.21H980.23V207.43H977.01ZM977.01 207.43H980.23V210.65H977.01ZM941.63 210.65H944.85V213.86H941.63ZM973.8 210.65H977.01V213.86H973.8ZM944.85 213.86H948.07V217.08H944.85ZM951.28 217.08H970.58V220.3H951.28Z"/>
<path fill="#2cf09e" d="M935.2 165.62H944.85V168.84H935.2ZM931.98 168.84H935.2V172.05H931.98ZM928.77 175.27H931.98V178.48H928.77ZM957.71 175.27H960.93V178.48H957.71ZM928.77 178.48H931.98V181.7H928.77ZM931.98 184.92H935.2V188.13H931.98ZM935.2 191.35H938.42V194.57H935.2ZM935.2 194.57H938.42V197.78H935.2ZM973.8 194.57H977.01V197.78H973.8ZM938.42 201H941.63V204.21H938.42ZM977.01 201H980.23V204.21H977.01ZM941.63 207.43H944.85V210.65H941.63ZM973.8 207.43H977.01V210.65H973.8ZM948.07 213.86H951.28V217.08H948.07ZM967.36 213.86H973.8V217.08H967.36Z"/>
<path fill="#2ff19b" d="M935.2 168.84H941.63V172.05H935.2ZM931.98 172.05H935.2V175.27H931.98ZM957.71 178.48H960.93V181.7H957.71ZM931.98 181.7H935.2V184.92H931.98ZM960.93 181.7H964.15V184.92H960.93ZM964.15 184.92H967.36V188.13H964.15ZM935.2 188.13H938.42V191.35H935.2ZM967.36 188.13H970.58V191.35H967.36ZM970.58 191.35H973.8V194.57H970.58ZM938.42 197.78H941.63V201H938.42ZM973.8 197.78H977.01V201H973.8ZM973.8 204.21H977.01V207.43H973.8ZM944.85 210.65H948.07V213.86H944.85ZM970.58 210.65H973.8V213.86H970.58ZM951.28 213.86H967.36V217.08H951.28Z"/>
<path fill="#32f298" d="M941.63 168.84H944.85V172.05H941.63ZM935.2 172.05H938.42V175.27H935.2ZM931.98 175.27H935.2V178.48H931.98ZM931.98 178.48H935.2V181.7H931.98ZM954.5 178.48H957.71V181.7H954.5ZM957.71 181.7H960.93V184.92H957.71ZM935.2 184.92H938.42V188.13H935.2ZM960.93 184.92H964.15V188.13H960.93ZM938.42 194.57H941.63V197.78H938.42ZM970.58 194.57H973.8V197.78H970.58ZM973.8 201H977.01V204.21H973.8ZM941.63 204.21H944.85V207.43H941.63ZM944.85 207.43H948.07V210.65H944.85ZM970.58 207.43H973.8V210.65H970.58ZM948.07 210.65H951.28V213.86H948.07ZM964.15 210.65H970.58V213.86H964.15Z"/>
<path fill="#35f394" d="M938.42 172.05H944.85V175.27H938.42ZM935.2 175.27H938.42V178.48H935.2ZM935.2 178.48H938.42V181.7H935.2ZM951.28 178.48H954.5V181.7H951.28ZM935.2 181.7H938.42V184.92H935.2ZM954.5 181.7H957.71V184.92H954.5ZM957.71 184.92H960.93V188.13H957.71ZM938.42 188.13H941.63V191.35H938.42ZM964.15 188.13H967.36V191.35H964.15ZM938.42 191.35H941.63V194.57H938.42ZM967.36 191.35H970.58V194.57H967.36ZM941.63 197.78H944.85V201H941.63ZM970.58 197.78H973.8V201H970.58ZM941.63 201H944.85V204.21H941.63ZM970.58 201H973.8V204.21H970.58ZM970.58 204.21H973.8V207.43H970.58ZM967.36 207.43H970.58V210.65H967.36ZM951.28 210.65H964.15V213.86H951.28Z"/>
<path fill="#38f491" d="M938.42 175.27H948.07V178.48H938.42ZM938.42 178.48H941.63V181.7H938.42ZM948.07 178.48H951.28V181.7H948.07ZM951.28 181.7H954.5V184.92H951.28ZM938.42 184.92H941.63V188.13H938.42ZM960.93 188.13H964.15V191.35H960.93ZM964.15 191.35H967.36V194.57H964.15ZM941.63 194.57H944.85V197.78H941.63ZM967.36 194.57H970.58V197.78H967.36ZM944.85 204.21H948.07V207.43H944.85ZM967.36 204.21H970.58V207.43H967.36ZM948.07 207.43H954.5V210.65H948.07ZM960.93 207.43H967.36V210.65H960.93Z"/>
<path fill="#3cf58e" d="M941.63 178.48H948.07V181.7H941.63ZM938.42 181.7H951.28V184.92H938.42ZM941.63 184.92H944.85V188.13H941.63ZM951.28 184.92H957.71V188.13H951.28ZM941.63 188.13H944.85V191.35H941.63ZM957.71 188.13H960.93V191.35H957.71ZM941.63 191.35H944.85V194.57H941.63ZM967.36 197.78H970.58V201H967.36ZM944.85 201H948.07V204.21H944.85ZM967.36 201H970.58V204.21H967.36ZM948.07 204.21H951.28V207.43H948.07ZM964.15 204.21H967.36V207.43H964.15ZM954.5 207.43H960.93V210.65H954.5Z"/>
<path fill="#3ff68a" d="M944.85 184.92H951.28V188.13H944.85ZM944.85 188.13H948.07V191.35H944.85ZM954.5 188.13H957.71V191.35H954.5ZM944.85 191.35H948.07V194.57H944.85ZM960.93 191.35H964.15V194.57H960.93ZM944.85 194.57H948.07V197.78H944.85ZM964.15 194.57H967.36V197.78H964.15ZM944.85 197.78H948.07V201H944.85ZM964.15 197.78H967.36V201H964.15ZM948.07 201H951.28V204.21H948.07ZM964.15 201H967.36V204.21H964.15ZM951.28 204.21H964.15V207.43H951.28Z"/>
<path fill="#43f787" d="M948.07 188.13H954.5V191.35H948.07ZM948.07 191.35H951.28V194.57H948.07ZM954.5 191.35H960.93V194.57H954.5ZM960.93 194.57H964.15V197.78H960.93ZM948.07 197.78H951.28V201H948.07ZM951.28 201H954.5V204.21H951.28ZM960.93 201H964.15V204.21H960.93Z"/>
<path fill="#46f884" d="M951.28 191.35H954.5V194.57H951.28ZM948.07 194.57H960.93V197.78H948.07ZM951.28 197.78H954.5V201H951.28ZM957.71 197.78H964.15V201H957.71ZM954.5 201H960.93V204.21H954.5Z"/>
<path fill="#4ef97d" d="M954.5 197.78H957.71V201H954.5Z"/>
</g>
<path class="grid" stroke-dashoffset="0.7" d="M361 122.0V829.9M618 122.0V829.9M876 122.0V829.9M1133 122.0V829.9"/>
<path class="grid" stroke-dashoffset="0.59" d="M104.0 765H1262.0M104.0 637H1262.0M104.0 508H1262.0M104.0 380H1262.0M104.0 251H1262.0"/>
<path class="state" d="M166.1 129.7L166.1 121.3M139.4 134.6L140.4 143L143.6 153L145.3 164.6L148.3 171.3L147.9 175.4L144.6 178.8L146.6 180.9L149.3 182.1L149.4 205.4L147.8 205.9L148.3 210.4L147.1 216.2L148.3 217.9L152.9 226.2L156.6 234.5L157.9 242L162.4 249.5L166.6 252L169.1 254.5L167.4 256.1L171.6 261.1L172.7 262.8L172.7 278.9M100 174.3L147.4 174.3M148.3 205.4L216 205.4M100 212.2L123.3 212.2L129.1 214.5L138.3 214L144.9 216.2L148.3 217.9M100 250.8L164.1 250.8M158.3 242.5L209.8 242.5L214 245.3M232.3 156.6L224 156.6L206.5 163.8L203.2 164.6L202.4 172.1L195.2 177.4L197.4 182.1L196.5 189.6L214.8 199.6L216.5 205.4L218.5 214.5L224 218.4L230.7 224.5L228.2 230.3L219 233.3L220.2 237L214.8 243.7L213.2 249.5L214.8 253.6L223.2 262L225.7 264.5L229.8 265.3M239.8 148L232.3 156.6L227.3 166.3L233.2 168.8L256.5 174.6L260.6 179.6L262.3 183.7L264.8 185.4L269.8 180.9L274.8 180.4L280.6 183.4L274.8 189.6L269.8 202.9L269.8 217.9L268.1 227.8M224 218.4L268.9 218.4M320.5 224.5L317.2 227.8L264.8 227.8L264.8 229.9M299.7 227.8L299.7 229.9M367.5 121.3L367.5 154.6L370.8 162.1L376.6 167.1L389.9 170.9L398.3 175.4L401.6 174.6L404.9 178.8L413.2 180.9L419.9 179.6L428.2 177.9L432.4 178.8L433.2 183.7M364.1 218.7L364.1 224.5L421.6 224.5L425.7 231.2L439.9 237M354.6 221.2L354.6 229.4M394.7 254.1L415.7 254.1L415.7 270.3L424.1 270.3M428.2 232.8L423.2 238.7L424.9 244.5L428.2 249.5L422.4 251.2M446.5 185.9L446.5 196.2L445.7 201.2L448.2 207.9L448.2 215L446.5 217.9L444 234.5M469.8 185.9L468.2 192.1L463.2 196.2L459.8 202.9L456.5 215M475.6 182.9L478.1 207.9L479.8 212.9L473.2 215L448.2 215M445.7 224.5L471.5 224.5L473.2 227.8M467 225.4L467 232.8M499.8 154.9L503.9 157.6L509.8 155.4L511.4 148.8L523.1 149.6L531.4 148M563.3 175.4L565.8 173.8M100 288.5L172.4 288.5M172.7 276L172.7 288.5L174.1 296L175.7 309.3L175.2 331.8L180.7 334.3L180.7 352.6L186.5 364.2L185.7 372.5L184.1 380L183.2 382.5M100 319.6L104.2 320.9L111.7 322.6L115 325.1L125 326.8L130.8 329.3L139.9 330.9L142.4 328.4L149.9 330.6L156.6 329.3L165.7 328.9L171.6 331.8L175.2 331.8M174.1 295.6L229.6 295.6M229.8 300.8L227.3 302.3L229.5 302.3M180.7 340.6L217.3 340.6M229.6 314.1L229 315.1L224 321.8L219.8 325.9L216.8 332.6L218.2 340.9L219.8 349.2L214.8 356.7L211.2 366.4L235.6 366.7L236.8 372.5L239 377.5M253.6 338.5L252.3 347.6L252.8 374.2M295 338.5L297.7 349.2L295.6 356.7L296.4 366.7L298.1 370L333 372.2L334.7 374.2L335.5 369.2L342.2 370M296.4 366.7L263.1 366.7L265.1 371.7L264.8 375.9M394.5 294.7L413.5 294.7M395.1 261.7L399.6 264.5M339.2 338.4L340.3 339.5L344.7 347.3L348.1 352.4M575.2 736.6L581.6 739.1L584.1 744.9L586.5 754.1L585.2 763.2L587.4 771.6L585.7 775.2L593.2 782.4L597.4 783.2L598.2 775.7L603.2 771.9L608.2 775.7L613.2 774.9L614 769.1L617.3 762.4L632.3 762.4M631.5 748.3L632.3 762.4L633.2 769.9L638.1 778.2L649.8 786.5L662.3 792.4L664.8 795.7L649.8 828.1M685.6 734.9L685.6 741.6L696.4 745.8L702.2 749.1L706.4 756.6L712.2 769.9L718 779.9L722.2 779.9M797.3 779.8L794.8 786.5L794 794.8L789.8 803.2L786.5 811.5L779.9 821.5L769.9 828.9M852.3 802L846.4 809.8L839.8 814.8L837.3 820.6L838.9 828.1M858.1 802.8L857.3 808.1L860.6 818.1L859.8 828.1M264.1 230L264.1 258L263 260.8L264.5 265.8L261.3 272L258.5 273.6L256.8 279.2M299.4 230L299.4 262.4M256.8 279.2L262.4 277.5L269.2 278.7L272.5 276.4L276.4 278.1L278.7 274.2L283.7 276.4L288.2 272L292.1 266.9L296 267.5L299.4 265.8L299.4 262.4L303.8 262.4L308.3 266.4L313.9 268L318.4 267.5L322.9 266.9L327.9 271.4M327.9 271.4L331.2 269.7L333.5 264.1L336.8 264.7L339.1 260.8L343 258L348.6 255.7L351.9 250.1L353.3 242.9M354.2 230L354.2 254.1L394 254.1M327.9 271.4L327.3 274.7L330.1 279.2L334.6 282.6L340.8 286.5L348.6 284.8L356.4 283.1L358.6 279.2L363.1 273.6L365.9 269.2L369.8 269.7L374.3 265.2L379.9 262.4L382.7 256.8L378.8 255.7L373.2 258L368.2 260.2L367.6 254.6M382.7 256.8L388.9 260.8L390 257.4L394 261.9M334.6 282.6L327.3 286.5L320.6 292.1L313.9 294.3M237.8 295.7L258 296L257.4 293.2L313.3 294.5L338.5 294.7L394 294.7M230 275.9L235.6 279.2L238.9 283.7L240.1 287.6L244 288.7L243.4 292.6L238.4 295.4L236.7 301.6L235 305L231.7 311.7L230 313.9M244 288.2L251.8 288.2L251.8 284.8L256.3 282.6L256.8 279.2M230 302.2L236.2 302.2M230 315.2L321.7 315.2L326.2 313.3L330.7 312.6L347.5 313.3L350.3 315L351.4 317.3L365.9 317.3L378.8 328.4M305.5 315.2L306.1 312.2L310.5 308.3L318.4 306.1L325.1 301.6L328.4 302.7L334 299.9L339.1 296.6L338.5 294.7M256.6 315.2L254.1 338M288.7 315.2L293.8 338M321.7 315.2L317.8 318.4L325.1 323.4L327.9 328.4L334.6 334L338.5 338"/>
<path class="border" d="M1261.9 420L1254 418.2L1243.5 419.5L1240 429.6L1235.6 430.5L1229.5 446.3L1211.9 460.4L1207.5 477.9L1201.4 484L1200.5 490.2M1235.6 431.8L1261.9 431.8M1236.1 431.4L1236.8 464.7L1224.2 466.1L1221.6 472.6L1224.2 490.7L1171.6 490.7M1171.6 489.6L1200.5 489.6M1178.2 556.3L1183 553.7L1189.1 554.6L1196.1 551.9L1202.8 551.9L1210.2 556L1217.2 558.9L1224.2 566.8L1233.9 576.5M1233.9 576.5L1238.2 573.9L1240 567.7L1243.5 566.8L1253.2 570.4L1261.9 567.7M1233.9 576.5L1234.7 584.4L1237.4 591.4L1241.8 596.7L1242.6 605.4L1242.6 609.8L1248.8 608.1L1254.9 611.6L1261.9 612.1M1175.1 590.5L1187.4 589.6L1192.6 587L1196.1 587L1201.4 589.6L1206.7 588.8L1210.2 587.9L1211.9 591.1L1206.7 594L1201.4 594L1196.1 591.4L1192.6 592.3L1186.5 596.3L1174.2 596.7M1176 605.4L1182.1 604L1190.9 602.5L1214.6 603.7L1220.7 603.7L1229.5 606.7L1233.9 605.1L1242.6 605.8M1214.6 604L1213.3 609.8L1212.8 614.6L1201.4 617.4L1196.1 622.1M1219.8 651.1L1226 645.8L1230.4 639.6L1235.6 636.5L1247 636.1L1252.3 643.2L1254.9 651.1L1255.8 658.1L1261.9 656.7M1242.6 678.2L1246.1 670.4L1250.5 664.2L1255.8 658.9M467.3 510.2L468.1 516.5L466.5 521.5L464.8 526.8L467.3 531.5M100 134.6L166.1 134.6L166.1 129.7L169.9 129.7L171.9 135.5L174.1 138.3L178.2 139.3L194.9 141.6L211.5 146L221.5 144.1L239.8 148L253.1 143.8L298.1 161.6L300.6 166.3L303.9 167.6L307.2 166.8L308.9 170.4L315.5 172.1L316.4 175.4L328.9 181.6L333.8 204.5L320.5 223.7L322.2 227L326.4 229L329.7 229.2L344 222.5M344 222.5L345 222L355 219.9L365 217L375 213.7L374.1 208.7L371.6 205.4L377.4 203.7L402.4 203.7L406.6 199.6L416.6 192.1L426.5 186.2L446.5 185.9L469.8 185.9L471.5 182.9L479.8 180.9L484.8 175.4L488.1 167.1L492.3 161.3L499.8 154.9L503.9 158.8L513.1 155.9L518.1 158.8L518.4 176.3L528.1 184.6L528.9 186.2M100 402.5L104.2 405.8L110 411.6L112.5 419.1L115.8 425.8L125 430L133.3 432.8L139.9 432.5M203.2 577.3L204.5 572.3L203.2 569M205.5 573L203.3 568.7L209.8 558.3L226.8 558.8L227.1 554.4L224.1 552.8L222.7 550.3L218 546.8L213.4 543.5L219.7 543.2L219.7 535.9L243.2 535.9L243.5 533.9L244.8 533.4L247.3 534.8L251.9 526.8L256.9 527.7M243.2 535.9L242.4 560.7L247 561M231.7 587.5L238.3 580.8L242.5 579.1L250 585L253.3 586.6L259.9 587.5L262.4 593.3L263.3 595.8M242.5 579.1L243.3 572.5L253.3 565L255.8 562.5M320.7 572.5L313.2 574.1L304.9 576.6L298.2 575L294.1 580.8L286.6 586.6L282.4 585L274.9 590L273.3 595.8L267.4 598.3L264.1 597.4M287.4 622.9L289.1 620.8L296.6 624.1L301.6 622.9L306.5 624.1L309.9 627.4L313.2 625.7M332.3 645.7L324 643.2L323.2 648.2L324.9 653.2L323.2 659.9M393.9 651.5L394.8 658.2L396.4 663.2L389.8 665.7L388.1 672.3M465 617.4L456.6 624.9L452.5 630.7L450 641.6L447 647.4L452.5 648.2L455 654.9L459.1 659.9L458 669L465 675.7L480.8 674L488.3 675.7L497.4 686.8L506.6 685.2L519.9 684L524.1 687.3L518.2 698.1L517.4 706.5L519.9 714.8L524.9 720.9M620.6 658.2L613.1 663.2L610.1 669.8L614.4 674.8L611.4 677.3L603.1 679.5L603.9 684.8L600.1 688.5L604.8 694.8L610.6 701.5M654.7 688.2L653 699.8L645.6 703.1L643.9 712.3L648 720.9M524.6 721.6L518 729.1L524.1 734.9L527.5 741.6L529.1 749.1M496.7 743.6L517.5 743.3L521.3 739.1L525 744.1L527.5 750.8L530 749.9L537.4 756.1L547.4 754.9L549.9 751.2L564.1 745.8L565.7 740.8L575.2 736.6M610.2 702L605.7 706.3L593.2 710.3L583.2 713L578.2 716.6L568.2 713.8L556.6 712.5L561.6 716.6L561.6 722.5L563.2 732.9L573.2 734.6L575.2 736.6M609 698.3L616.5 697.8L618.2 705.8L622.3 710L624 715L620.2 722.5L619.5 729.9L622.3 736.6L624 741.9L631.5 748.3L637.3 748.3L644.8 745.8L652.3 740.8L662.3 740.8L669.8 741.9L669.8 734.1L676.4 733.6L681.4 732.9L688.9 735.3L697.2 738.3L699.7 734.9L702.2 738.3L708 737.9L713 733.3L718 721.6L724.7 712.5L727.2 711.6M654.8 690L653.1 700L645.6 703.3L643.5 711.6L649.8 721.6L654 723.3L656.5 730.8L662.3 739.9M695.6 693.3L689.7 703.3L691.4 711.6L695.6 720L689.7 734.9M375.8 747.4L390.7 754.9L394.1 759.9L405.7 761.6L409 759.9L421.5 766.5M421.5 766.5L422.4 775.7L419 783.2L403.2 799L389.1 804L382.4 813.2L378.3 823.1L371.6 829L364.9 822.3L355.8 821.5L355 817.3L358.3 814.8L357.4 809M421.5 766.5L425.7 766.5L436.5 778.2L442.3 781.5L450.7 794.8L459.8 796.5L466.5 793.5L471.5 795.2L478.9 794.5L489.8 799.8L480.6 813.2L484.8 814L490.6 820.6M490.6 820.6L493.9 799.8L497.3 779.9L494.8 773.2L488.9 769L489.4 758.2L499.8 756.6L499.8 752.4L492.3 751.6L491.4 743.2L503.1 743.2M490.6 820.6L478.9 819.8L468.1 823.1L458.1 829L454.8 831.5"/>
<path class="coast" d="M532.8 114.7L532.8 123L525.3 128.5L508.6 133.9L475.1 162.7L486.8 160.6L506.9 143.5L533.7 132.6L552.9 131.4L553.3 131.6L565 138L552.5 147.6L560 167.9L577.4 176.3L598.3 175.4L611.9 160.9L612.9 169.9L620.7 174.6L604.9 182.9L577.4 190.9L563.3 196.2L549.2 204.5L540 203.7L538.9 192.1L561.4 182.1L546.4 182.1L528.9 183.7L528.9 188.7L506.4 197.1L488.1 203.7L481.5 210.4L479 217.9L479.4 211.7L478.6 216.7L479.4 221.7L481.9 225.9L486.1 227.4L488 224L490.8 225.6L490.3 228.6L487 229.9L480.3 231.3L475.3 230.9L465.2 233.8L450.2 235.1L441.8 238.4L438.8 240.8L434.5 244.6L439.3 244.1L437.8 250.9L436.1 254.2L426.9 262.6L426.5 264.7L424.4 261.3L418.5 256.7L420.2 261.7L421.9 265.1L425.2 266.8L425.6 270.5L413.5 286L411.8 285.6L415.6 276.8L410.2 273L409.3 268.4L408.1 261.3L405.6 266.8L406.4 272.6L399.3 273.4L407.7 275.5L408.9 289.3L412.7 290.6L414.4 295.2L415.2 307.7L407.7 316.9L393.4 321L386.4 328.3L379.8 330L374 334.1L370.6 339.1L358.1 345.8L348.2 354.1L344 360.8L342.3 368.2L344 379.9L348.2 390.7L354 399.9L354.8 406.5L360.6 419L360.6 426.5L358.1 438.1L353.2 442.6L346.5 441.5L344 435.6L339 432.3L324.9 408.2L324 405.7L326.5 399L322.4 390.7L311.5 379.1L308.2 377.9L294.9 384.1L291.6 382.9L283.2 375.7L278.3 374.1L264.9 375.7L253.3 374.4L241.6 375.7L239.1 378.2L239.6 383.2L243 388.2L240.8 390.7L235.8 388.2L230.8 390.7L220 390.7L211.5 383.9L199.9 385L190.7 382.2L183.2 382.5L172.4 385.8L166.6 389.2L158.3 395.8L148.3 400L140.8 405.8L137.4 414.1L137.9 425.8L139.9 432.5L135.8 443.3L133.3 455L131.6 476.6L134.1 483.3L138.3 490.8L140.8 499.1L148.3 508.2L151.6 515.7L156.6 522.4L169.9 526.2L175.2 531.5L186.5 528.2L199.9 525.7L214 521.5L222.3 516.5L225.7 508.2L226.8 498.2L229 494.1L239.8 490.8L251.5 488.6L261.4 489.1L270.6 487.8L273.9 490.8L273.1 496.6L266.4 503.2L263.9 508.2L263.1 514.1L265.6 514.9L262.3 524.9L259.8 530.7L256.5 528.2L255.6 538.2L254.8 545.7L252.3 553.2L247.3 558.2L247.3 560.7L252.3 563.2L256.5 562.3L259.8 560.7L266.4 562.3L274.8 562.3L283.9 559L289.7 560.7L296.4 559L303.9 561.5L311.4 565.6L320.5 572.3L319.9 581.6L316.5 590L315.7 603.3L312.9 611.6L313.2 615.8L311.2 619.1L313.2 624.1L319.9 633.2L326.5 639.9L332.3 645.7L333.2 649.9L339.8 649.9L343.2 651.9L349 651.2L356.5 647.4L363.1 644.9L366.5 641.9L373.1 642.4L379.8 644.1L387.3 646.5L393.9 651.5L396.4 654L401.4 654L411.4 645.7L416.4 644.1L418.1 633.2L419.7 628.2L427.2 622.9L434.7 622.4L435.5 619.9L446.4 620.3L460 611.6L466.6 604.9L470.8 605.3L475 609.1L472.5 615.8L465 617.4L468.3 624.9L468.3 631.6L463.3 638.2L468.3 648.5L474.1 647.4L476.6 637.4L471.3 631.6L470.8 624.9L484.9 619.6L487.4 618.3L485.8 612.4L490.4 608.6L494.9 617.4L504.1 618.3L512.4 625.7L513.2 629.1L524.9 629.1L538.2 627.9L545.7 633.2L554.8 635.4L562.3 631.6L562.8 628.2L578.1 627.4L594.8 627.1L583.1 630.7L587.3 637.4L598.1 636.9L604.8 641.6L608.1 644.9L609.8 654L617.3 655.7L620.6 658.2L630.6 664L638.1 670.7L638.9 677.3L642.2 677.8L654.7 688.2L661.4 689.5L670.5 690.7L672.2 688.5L684 687.8L695.8 691.6L710 695.8L724.1 705.8L726.3 711.6L730.8 712.4L734.1 721.6L740.8 741.6L747.4 742.9L747.9 751.6L738.3 762L741.6 766.2L764.9 768.2L765.2 780.7L774.9 773.2L796.5 779.8L812.3 785.2L818.1 793.2L817.3 799.8L831.5 796L852.3 802L858.1 802.8L876.4 802.3L894.7 812.3L910.5 827.3L918 830.9L929.7 836.4L345 846.4L345 830.6L343 827.3L344.1 823.1L347.5 816.5L357.4 809L364.1 799L360.8 794L355.8 799.5L348.6 794L350.8 789.8L349.6 779L353.3 776.5L360.8 759.9L359.9 755.7L367.4 752.4L375.8 748.2L374.1 744.1L378.6 743.2L378.3 735.8L380.8 731.6L387.4 730.8L398.2 715.8L394.1 713.3L396.2 705.8L392.9 693.3L395.7 690.8L393.2 680L393.9 679.8L388.1 672.3L383.9 668.2L381.1 661.5L383.9 659L380.6 656.5L375.6 651.5L371.5 649.9L367.3 650.7L364.8 654.9L361.5 657.4L355.6 659.9L359 664.9L361.1 669L355.6 671.5L349.8 672.3L347.3 665.7L342.3 665.7L339.8 662.4L334.8 659.9L326.5 659L324 659.9L318.2 658.2L313.2 654.9L314 649.9L308.2 644.9L299.9 639.9L298.2 636.6L295.7 642.4L291.6 639.9L286.6 634.9L286.6 629.9L284.9 624.9L287.4 622.9L284.7 619.9L276.4 610.8L266.4 602.4L262.6 598.6L264.6 596L261.6 594.3L259.9 596.8L251.6 595.8L243.3 593.3L234.1 591.3L225 586.6L220 585.8L214.8 585.6L203.2 577.3L186.5 564.8L174.1 557.3L166.6 557.3L154.9 562.3L148.3 563.7L131.6 558.2L116.6 552.3L104.2 549.5L90 546.5L60 60ZM1273.3 377L1261.9 385.8L1255.8 391.1L1249.6 394.6L1240 402.5L1228.6 404.2L1220.7 409.5L1213.7 422.6L1204.9 427L1200.5 434.9L1199.6 441.9L1196.1 449.8L1191.8 451.6L1184.7 458.6L1180.4 468.2L1181.2 474.4L1176.8 480.5L1171.6 484L1170.7 494.6L1177.7 500.7L1181.2 507.7L1179.5 513.9L1182.1 526.1L1183 530L1182.1 540.5L1179.5 547.5L1177.2 551.9L1178.2 558.1L1174.2 566L1168.1 573.5L1163.7 576L1168.9 580L1172.5 586.1L1175.1 590.5L1173.3 596.7L1175.1 605.4L1176.8 608.9L1180.4 612.5L1182.1 616L1188.2 617.7L1198.8 625.6L1201.4 629.1L1203.2 634.4L1210.2 639.6L1215.4 644.9L1219.8 651.1L1221.1 658.1L1222.5 663.3L1227.7 669.5L1233 673.9L1242.6 678.2L1247 682.6L1254 687.9L1261.9 692.3L1273.3 698.4L1300 900L1300 300ZM645.2 114.7L645.2 123L639.3 133.5L628 141L634.3 144.3L625.5 149.4L627.2 153.1L651.8 153.5L666.9 152.3L679.4 156L669.4 161.9L677.8 162.7L692.8 150.6L695.3 151.9L693.2 163.2L701.2 166.1L707.9 165.7L713.3 153.5L707.9 138.9L698.3 141L702.9 131.8L689.5 127.2L683.6 130.5L671.9 127.2L676.9 123L676.9 119.7L664.4 119.7L664.4 122.6L659.8 125.4L658.5 122.6L658.5 114.7ZM561.6 123.8L573.3 123.8L586.6 127.2L595.8 131.3L594.9 134.1L588.3 133.8L573.3 129.7ZM565.8 160.9L562.5 164.6L565 167.9L581.6 172.9L588.3 170.4L592.4 167.4L583.3 167.9L572.5 166.3ZM441.2 239.6L453.6 237.5L461.8 236.5L465.1 238.6L458.4 240.4L449.4 242.3L439.8 243.1ZM374.1 420.3L388.2 419.1L390.7 417.5L399.9 422.5L397.9 432.8L394.9 431.6L394.6 424.1L389.9 422.5L389.1 425L374.9 425.8ZM384.9 441.1L388.2 441.3L393.2 451.6L393.2 460.8L389.1 460.3L385.7 453.3L381.6 449.1ZM331.7 466.9L353.3 468.2L361.6 471.2L371.6 476.9L382.4 475.7L393.2 483.2L404.9 491.5L409.9 492L418.2 495.7L419 498.5L424.9 499.4L435.7 504.5L433.2 507.4L418.2 509L409.9 508.2L398.2 509L389.9 510.2L396.6 504L394.1 500.7L387.4 499L381.6 497.4L378.3 490.7L377.4 487.4L369.9 487.4L355.8 482.4L340 479.9L334.1 477.4L337.5 474.6L328.3 474.1L324.7 473.6L318 477.4L314.7 479.9L309.7 480.8L306.4 484.1L301.4 484.9L296.4 483.6L303.1 479.9L307.2 474.1L321.4 469.1L331.4 466.6ZM382.4 530.7L384.9 528.2L391.6 526.8L401.6 528.2L408.2 530.7L409.9 534L403.2 535.6L397.4 537.6L389.9 535.6ZM447.3 509L458.1 509.8L467.3 510.2L474.8 509L483.9 510.7L491.4 514L493.1 518.2L499.8 517.3L499.8 520.7L506.4 521.5L511.4 526L507.2 530.7L501.4 528.2L491.4 529.5L483.9 531.5L480.6 529L475.6 531.5L471.8 538.5L468.1 536.8L467.8 531.5L458.1 530.7L451.5 531.5L443.2 530.7L439 533.2L433.2 529.8L433.2 525.3L443.2 527.3L453.2 526.8L459 524.5L455.6 519L451.5 514.8L446.5 512.3ZM525.6 527.3L534.7 526.8L543 527.8L546.4 530.7L543 534L526.4 534.5ZM597.3 625.7L606.4 624.9L606.8 635.7L593.1 636.2Z"/>
</g>
<rect x="104.0" y="122.0" width="1158.0" height="707.9" fill="none" stroke="#000" stroke-width="2.1"/>
<text x="683" y="100" text-anchor="middle" font-size="33.33" fill="#000">Pangu-ECMWF – Day 1 (10m Wind Speed)</text>
<text class="t10" x="89.6" y="772.8" text-anchor="end" letter-spacing="-0.12">0°</text>
<text class="t10" x="89.6" y="644.2" text-anchor="end" letter-spacing="-0.12">10°N</text>
<text class="t10" x="89.6" y="515.6" text-anchor="end" letter-spacing="-0.12">20°N</text>
<text class="t10" x="89.6" y="387.0" text-anchor="end" letter-spacing="-0.12">30°N</text>
<text class="t10" x="89.6" y="258.4" text-anchor="end" letter-spacing="-0.12">40°N</text>
<text class="t10" x="361.4" y="866" text-anchor="middle" letter-spacing="-0.3">80°W</text>
<text class="t10" x="618.8" y="866" text-anchor="middle" letter-spacing="-0.3">60°W</text>
<text class="t10" x="876.1" y="866" text-anchor="middle" letter-spacing="-0.3">40°W</text>
<text class="t10" x="1133.4" y="866" text-anchor="middle" letter-spacing="-0.3">20°W</text>
<text x="683" y="904.7" text-anchor="middle" font-size="25" fill="#333">Max: 42 kt @ 44.0°N, 33.2°W • Valid 2025-10-29 12Z</text>
<rect x="1289.6" y="62.9" width="45.4" height="869.1" fill="url(#cb)"/>
<path d="M1289.6 63.4L1312.3 19.6L1335.0 63.4Z" fill="#7a0403"/>
<path d="M1289.6 932.0V62.9L1312.3 19.6L1335.0 62.9V932.0Z" fill="none" stroke="#000" stroke-width="2.1" stroke-linejoin="miter"/>
<path d="M1335.0 932.0h9.8" stroke="#000" stroke-width="2.2" fill="none"/>
<text class="t10" x="1355" y="943.3">20</text>
<path d="M1335.0 710.7h9.8" stroke="#000" stroke-width="2.2" fill="none"/>
<text class="t10" x="1355" y="722.0">40</text>
<path d="M1335.0 533.1h9.8" stroke="#000" stroke-width="2.2" fill="none"/>
<text class="t10" x="1355" y="544.4">60</text>
<path d="M1335.0 369.0h9.8" stroke="#000" stroke-width="2.2" fill="none"/>
<text class="t10" x="1355" y="380.3">80</text>
<path d="M1335.0 213.1h9.8" stroke="#000" stroke-width="2.2" fill="none"/>
<text class="t10" x="1355" y="224.4">100</text>
<path d="M1335.0 62.9h9.8" stroke="#000" stroke-width="2.2" fill="none"/>
<text class="t10" x="1355" y="74.2">120</text>
<text class="t10" transform="translate(1439.2 498.5) rotate(-90)" text-anchor="middle">10m Wind Speed (knots)</text>
</svg>
</body></html>
